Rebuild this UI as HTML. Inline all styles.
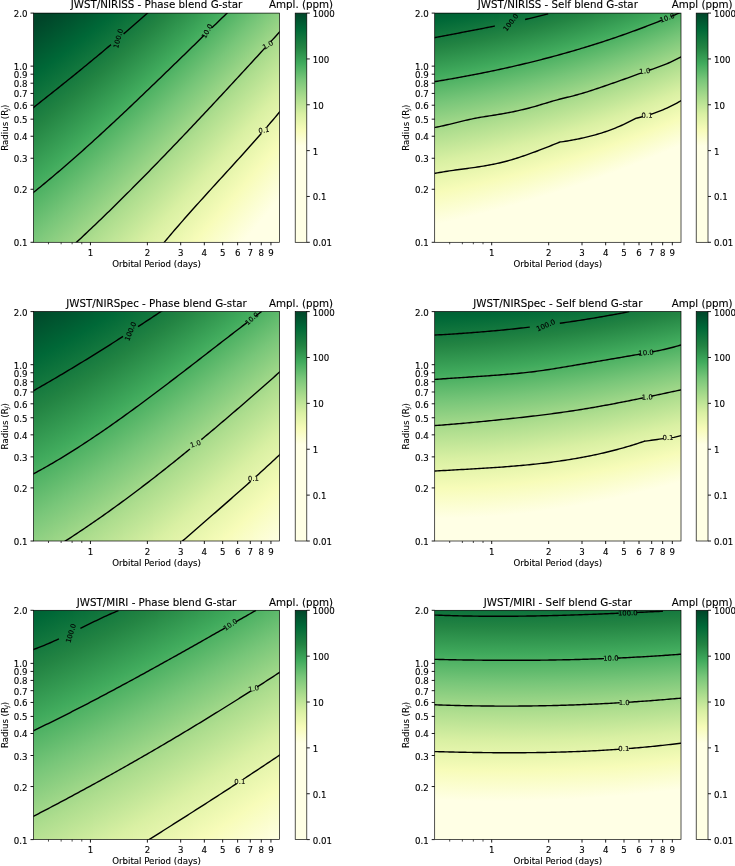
<!DOCTYPE html>
<html><head><meta charset="utf-8"><title>JWST blend amplitudes</title>
<style>html,body{margin:0;padding:0;background:#fff}svg{display:block}text{font-family:'DejaVu Sans','Liberation Sans',sans-serif;fill:#000;stroke:#000;stroke-width:.12px}</style>
</head><body>
<svg width="735" height="866" viewBox="0 0 735 866">
<rect width="735" height="866" fill="#fff"/>
<defs>
<linearGradient id="p00_0" gradientUnits="userSpaceOnUse" x1="35.5" y1="13" x2="146.55" y2="157.9"><stop offset="0" stop-color="#004529"/><stop offset=".0429" stop-color="#004529"/><stop offset=".2659" stop-color="#006837"/><stop offset=".494" stop-color="#238443"/><stop offset=".7274" stop-color="#41ab5d"/><stop offset=".9666" stop-color="#78c679"/><stop offset="1" stop-color="#7fc97c"/></linearGradient>
<linearGradient id="p00_1" gradientUnits="userSpaceOnUse" x1="40.5" y1="13" x2="151.95" y2="156.33"><stop offset="0" stop-color="#004529"/><stop offset=".0284" stop-color="#004529"/><stop offset=".2502" stop-color="#006837"/><stop offset=".4771" stop-color="#238443"/><stop offset=".7094" stop-color="#41ab5d"/><stop offset=".9477" stop-color="#78c679"/><stop offset="1" stop-color="#83cb7e"/></linearGradient>
<linearGradient id="p00_2" gradientUnits="userSpaceOnUse" x1="45.5" y1="13" x2="157.33" y2="154.81"><stop offset="0" stop-color="#004529"/><stop offset=".0136" stop-color="#004529"/><stop offset=".2342" stop-color="#006837"/><stop offset=".46" stop-color="#238443"/><stop offset=".6913" stop-color="#41ab5d"/><stop offset=".9286" stop-color="#78c679"/><stop offset="1" stop-color="#88cd7f"/></linearGradient>
<linearGradient id="p00_3" gradientUnits="userSpaceOnUse" x1="50.5" y1="13" x2="162.68" y2="153.32"><stop offset="0" stop-color="#004529"/><stop offset=".2181" stop-color="#006837"/><stop offset=".4427" stop-color="#238443"/><stop offset=".673" stop-color="#41ab5d"/><stop offset=".9094" stop-color="#78c679"/><stop offset="1" stop-color="#8ccf81"/></linearGradient>
<linearGradient id="p00_4" gradientUnits="userSpaceOnUse" x1="55.5" y1="13" x2="168" y2="151.87"><stop offset="0" stop-color="#00482a"/><stop offset=".2018" stop-color="#006837"/><stop offset=".4254" stop-color="#238443"/><stop offset=".6546" stop-color="#41ab5d"/><stop offset=".8901" stop-color="#78c679"/><stop offset="1" stop-color="#90d183"/></linearGradient>
<linearGradient id="p00_5" gradientUnits="userSpaceOnUse" x1="60.5" y1="13" x2="173.29" y2="150.46"><stop offset="0" stop-color="#004a2b"/><stop offset=".1854" stop-color="#006837"/><stop offset=".4078" stop-color="#238443"/><stop offset=".6361" stop-color="#41ab5d"/><stop offset=".8706" stop-color="#78c679"/><stop offset="1" stop-color="#95d284"/></linearGradient>
<linearGradient id="p00_6" gradientUnits="userSpaceOnUse" x1="65.5" y1="13" x2="178.55" y2="149.08"><stop offset="0" stop-color="#004d2c"/><stop offset=".1688" stop-color="#006837"/><stop offset=".3902" stop-color="#238443"/><stop offset=".6174" stop-color="#41ab5d"/><stop offset=".851" stop-color="#78c679"/><stop offset="1" stop-color="#99d486"/></linearGradient>
<linearGradient id="p00_7" gradientUnits="userSpaceOnUse" x1="70.5" y1="13" x2="183.8" y2="147.73"><stop offset="0" stop-color="#004f2d"/><stop offset=".1521" stop-color="#006837"/><stop offset=".3723" stop-color="#238443"/><stop offset=".5985" stop-color="#41ab5d"/><stop offset=".8312" stop-color="#78c679"/><stop offset="1" stop-color="#9dd688"/></linearGradient>
<linearGradient id="p00_8" gradientUnits="userSpaceOnUse" x1="75.5" y1="13" x2="189.02" y2="146.41"><stop offset="0" stop-color="#00522e"/><stop offset=".1352" stop-color="#006837"/><stop offset=".3544" stop-color="#238443"/><stop offset=".5796" stop-color="#41ab5d"/><stop offset=".8113" stop-color="#78c679"/><stop offset="1" stop-color="#a2d88a"/></linearGradient>
<linearGradient id="p00_9" gradientUnits="userSpaceOnUse" x1="80.5" y1="13" x2="194.22" y2="145.13"><stop offset="0" stop-color="#00552f"/><stop offset=".1181" stop-color="#006837"/><stop offset=".3363" stop-color="#238443"/><stop offset=".5605" stop-color="#41ab5d"/><stop offset=".7913" stop-color="#78c679"/><stop offset="1" stop-color="#a7da8b"/></linearGradient>
<linearGradient id="p00_10" gradientUnits="userSpaceOnUse" x1="85.5" y1="13" x2="199.4" y2="143.88"><stop offset="0" stop-color="#005730"/><stop offset=".101" stop-color="#006837"/><stop offset=".3181" stop-color="#238443"/><stop offset=".5413" stop-color="#41ab5d"/><stop offset=".7712" stop-color="#78c679"/><stop offset="1" stop-color="#abdc8d"/></linearGradient>
<linearGradient id="p00_11" gradientUnits="userSpaceOnUse" x1="90.5" y1="13" x2="204.56" y2="142.65"><stop offset="0" stop-color="#005a31"/><stop offset=".0837" stop-color="#006837"/><stop offset=".2997" stop-color="#238443"/><stop offset=".5219" stop-color="#41ab5d"/><stop offset=".7509" stop-color="#78c679"/><stop offset=".9873" stop-color="#addd8e"/><stop offset="1" stop-color="#afde8f"/></linearGradient>
<linearGradient id="p00_12" gradientUnits="userSpaceOnUse" x1="95.5" y1="13" x2="209.71" y2="141.46"><stop offset="0" stop-color="#005d33"/><stop offset=".0662" stop-color="#006837"/><stop offset=".2812" stop-color="#238443"/><stop offset=".5025" stop-color="#41ab5d"/><stop offset=".7306" stop-color="#78c679"/><stop offset=".9661" stop-color="#addd8e"/><stop offset="1" stop-color="#b3e091"/></linearGradient>
<linearGradient id="p00_13" gradientUnits="userSpaceOnUse" x1="100.5" y1="13" x2="214.84" y2="140.29"><stop offset="0" stop-color="#006034"/><stop offset=".0487" stop-color="#006837"/><stop offset=".2626" stop-color="#238443"/><stop offset=".4829" stop-color="#41ab5d"/><stop offset=".7101" stop-color="#78c679"/><stop offset=".9448" stop-color="#addd8e"/><stop offset="1" stop-color="#b7e193"/></linearGradient>
<linearGradient id="p00_14" gradientUnits="userSpaceOnUse" x1="105.5" y1="13" x2="219.96" y2="139.15"><stop offset="0" stop-color="#006335"/><stop offset=".031" stop-color="#006837"/><stop offset=".2439" stop-color="#238443"/><stop offset=".4632" stop-color="#41ab5d"/><stop offset=".6895" stop-color="#78c679"/><stop offset=".9234" stop-color="#addd8e"/><stop offset="1" stop-color="#bbe395"/></linearGradient>
<linearGradient id="p00_15" gradientUnits="userSpaceOnUse" x1="110.5" y1="13" x2="225.06" y2="138.04"><stop offset="0" stop-color="#006636"/><stop offset=".0131" stop-color="#006837"/><stop offset=".2251" stop-color="#238443"/><stop offset=".4434" stop-color="#41ab5d"/><stop offset=".6688" stop-color="#78c679"/><stop offset=".9019" stop-color="#addd8e"/><stop offset="1" stop-color="#bfe597"/></linearGradient>
<linearGradient id="p00_16" gradientUnits="userSpaceOnUse" x1="115.5" y1="13" x2="230.15" y2="136.95"><stop offset="0" stop-color="#016937"/><stop offset=".2061" stop-color="#238443"/><stop offset=".4235" stop-color="#41ab5d"/><stop offset=".6479" stop-color="#78c679"/><stop offset=".8802" stop-color="#addd8e"/><stop offset="1" stop-color="#c3e799"/></linearGradient>
<linearGradient id="p00_17" gradientUnits="userSpaceOnUse" x1="120.5" y1="13" x2="235.23" y2="135.89"><stop offset="0" stop-color="#046b38"/><stop offset=".1871" stop-color="#238443"/><stop offset=".4035" stop-color="#41ab5d"/><stop offset=".627" stop-color="#78c679"/><stop offset=".8585" stop-color="#addd8e"/><stop offset="1" stop-color="#c7e89a"/></linearGradient>
<linearGradient id="p00_18" gradientUnits="userSpaceOnUse" x1="125.5" y1="13" x2="240.3" y2="134.85"><stop offset="0" stop-color="#076e39"/><stop offset=".1679" stop-color="#238443"/><stop offset=".3834" stop-color="#41ab5d"/><stop offset=".606" stop-color="#78c679"/><stop offset=".8366" stop-color="#addd8e"/><stop offset="1" stop-color="#cbea9c"/></linearGradient>
<linearGradient id="p00_19" gradientUnits="userSpaceOnUse" x1="130.5" y1="13" x2="245.35" y2="133.83"><stop offset="0" stop-color="#0a703a"/><stop offset=".1486" stop-color="#238443"/><stop offset=".3631" stop-color="#41ab5d"/><stop offset=".5849" stop-color="#78c679"/><stop offset=".8147" stop-color="#addd8e"/><stop offset="1" stop-color="#cfec9e"/></linearGradient>
<linearGradient id="p00_20" gradientUnits="userSpaceOnUse" x1="135.5" y1="13" x2="250.4" y2="132.84"><stop offset="0" stop-color="#0d733c"/><stop offset=".1293" stop-color="#238443"/><stop offset=".3428" stop-color="#41ab5d"/><stop offset=".5637" stop-color="#78c679"/><stop offset=".7926" stop-color="#addd8e"/><stop offset="1" stop-color="#d3eea0"/></linearGradient>
<linearGradient id="p00_21" gradientUnits="userSpaceOnUse" x1="140.5" y1="13" x2="255.44" y2="131.86"><stop offset="0" stop-color="#10753d"/><stop offset=".1098" stop-color="#238443"/><stop offset=".3224" stop-color="#41ab5d"/><stop offset=".5424" stop-color="#78c679"/><stop offset=".7705" stop-color="#addd8e"/><stop offset="1" stop-color="#d8efa2"/></linearGradient>
<linearGradient id="p00_22" gradientUnits="userSpaceOnUse" x1="145.5" y1="13" x2="260.46" y2="130.91"><stop offset="0" stop-color="#14783e"/><stop offset=".0902" stop-color="#238443"/><stop offset=".3019" stop-color="#41ab5d"/><stop offset=".521" stop-color="#78c679"/><stop offset=".7482" stop-color="#addd8e"/><stop offset=".9847" stop-color="#d9f0a3"/><stop offset="1" stop-color="#dbf1a4"/></linearGradient>
<linearGradient id="p00_23" gradientUnits="userSpaceOnUse" x1="150.5" y1="13" x2="265.48" y2="129.98"><stop offset="0" stop-color="#177a3f"/><stop offset=".0705" stop-color="#238443"/><stop offset=".2813" stop-color="#41ab5d"/><stop offset=".4995" stop-color="#78c679"/><stop offset=".7259" stop-color="#addd8e"/><stop offset=".9616" stop-color="#d9f0a3"/><stop offset="1" stop-color="#def2a6"/></linearGradient>
<linearGradient id="p00_24" gradientUnits="userSpaceOnUse" x1="155.5" y1="13" x2="270.5" y2="129.07"><stop offset="0" stop-color="#1a7d40"/><stop offset=".0508" stop-color="#238443"/><stop offset=".2606" stop-color="#41ab5d"/><stop offset=".4779" stop-color="#78c679"/><stop offset=".7035" stop-color="#addd8e"/><stop offset=".9384" stop-color="#d9f0a3"/><stop offset="1" stop-color="#e1f3a9"/></linearGradient>
<linearGradient id="p00_25" gradientUnits="userSpaceOnUse" x1="160.5" y1="13" x2="275.5" y2="128.17"><stop offset="0" stop-color="#1e8041"/><stop offset=".0309" stop-color="#238443"/><stop offset=".2399" stop-color="#41ab5d"/><stop offset=".4563" stop-color="#78c679"/><stop offset=".681" stop-color="#addd8e"/><stop offset=".9152" stop-color="#d9f0a3"/><stop offset="1" stop-color="#e4f4ab"/></linearGradient>
<linearGradient id="p00_26" gradientUnits="userSpaceOnUse" x1="165.5" y1="13" x2="280.5" y2="127.3"><stop offset="0" stop-color="#218242"/><stop offset=".011" stop-color="#238443"/><stop offset=".219" stop-color="#41ab5d"/><stop offset=".4345" stop-color="#78c679"/><stop offset=".6584" stop-color="#addd8e"/><stop offset=".8918" stop-color="#d9f0a3"/><stop offset="1" stop-color="#e6f5ad"/></linearGradient>
<linearGradient id="p00_27" gradientUnits="userSpaceOnUse" x1="170.5" y1="13" x2="285.49" y2="126.44"><stop offset="0" stop-color="#248644"/><stop offset=".1981" stop-color="#41ab5d"/><stop offset=".4127" stop-color="#78c679"/><stop offset=".6358" stop-color="#addd8e"/><stop offset=".8684" stop-color="#d9f0a3"/><stop offset="1" stop-color="#e9f7af"/></linearGradient>
<linearGradient id="p00_28" gradientUnits="userSpaceOnUse" x1="175.5" y1="13" x2="290.48" y2="125.6"><stop offset="0" stop-color="#278a47"/><stop offset=".1771" stop-color="#41ab5d"/><stop offset=".3908" stop-color="#78c679"/><stop offset=".613" stop-color="#addd8e"/><stop offset=".8448" stop-color="#d9f0a3"/><stop offset="1" stop-color="#ecf8b1"/></linearGradient>
<linearGradient id="p00_29" gradientUnits="userSpaceOnUse" x1="180.5" y1="13" x2="295.45" y2="124.78"><stop offset="0" stop-color="#2a8d49"/><stop offset=".156" stop-color="#41ab5d"/><stop offset=".3688" stop-color="#78c679"/><stop offset=".5902" stop-color="#addd8e"/><stop offset=".8212" stop-color="#d9f0a3"/><stop offset="1" stop-color="#eff9b3"/></linearGradient>
<linearGradient id="p00_30" gradientUnits="userSpaceOnUse" x1="185.5" y1="13" x2="300.43" y2="123.98"><stop offset="0" stop-color="#2d914c"/><stop offset=".1348" stop-color="#41ab5d"/><stop offset=".3468" stop-color="#78c679"/><stop offset=".5673" stop-color="#addd8e"/><stop offset=".7976" stop-color="#d9f0a3"/><stop offset="1" stop-color="#f2fab6"/></linearGradient>
<linearGradient id="p00_31" gradientUnits="userSpaceOnUse" x1="190.5" y1="13" x2="305.4" y2="123.19"><stop offset="0" stop-color="#30954f"/><stop offset=".1136" stop-color="#41ab5d"/><stop offset=".3247" stop-color="#78c679"/><stop offset=".5444" stop-color="#addd8e"/><stop offset=".7738" stop-color="#d9f0a3"/><stop offset="1" stop-color="#f5fbb8"/></linearGradient>
<linearGradient id="p00_32" gradientUnits="userSpaceOnUse" x1="195.5" y1="13" x2="310.36" y2="122.41"><stop offset="0" stop-color="#339951"/><stop offset=".0923" stop-color="#41ab5d"/><stop offset=".3025" stop-color="#78c679"/><stop offset=".5214" stop-color="#addd8e"/><stop offset=".75" stop-color="#d9f0a3"/><stop offset=".9898" stop-color="#f7fcb9"/><stop offset="1" stop-color="#f7fcbb"/></linearGradient>
<linearGradient id="p00_33" gradientUnits="userSpaceOnUse" x1="200.5" y1="13" x2="315.32" y2="121.65"><stop offset="0" stop-color="#379d54"/><stop offset=".0709" stop-color="#41ab5d"/><stop offset=".2803" stop-color="#78c679"/><stop offset=".4983" stop-color="#addd8e"/><stop offset=".7261" stop-color="#d9f0a3"/><stop offset=".9652" stop-color="#f7fcb9"/><stop offset="1" stop-color="#f8fcbf"/></linearGradient>
<linearGradient id="p00_34" gradientUnits="userSpaceOnUse" x1="205.5" y1="13" x2="320.28" y2="120.9"><stop offset="0" stop-color="#3aa257"/><stop offset=".0495" stop-color="#41ab5d"/><stop offset=".258" stop-color="#78c679"/><stop offset=".4751" stop-color="#addd8e"/><stop offset=".7021" stop-color="#d9f0a3"/><stop offset=".9405" stop-color="#f7fcb9"/><stop offset="1" stop-color="#f9fdc4"/></linearGradient>
<linearGradient id="p00_35" gradientUnits="userSpaceOnUse" x1="210.5" y1="13" x2="325.23" y2="120.17"><stop offset="0" stop-color="#3da659"/><stop offset=".028" stop-color="#41ab5d"/><stop offset=".2356" stop-color="#78c679"/><stop offset=".4519" stop-color="#addd8e"/><stop offset=".6781" stop-color="#d9f0a3"/><stop offset=".9157" stop-color="#f7fcb9"/><stop offset="1" stop-color="#fafdc8"/></linearGradient>
<linearGradient id="p00_36" gradientUnits="userSpaceOnUse" x1="215.5" y1="13" x2="330.18" y2="119.45"><stop offset="0" stop-color="#40aa5c"/><stop offset=".0064" stop-color="#41ab5d"/><stop offset=".2132" stop-color="#78c679"/><stop offset=".4286" stop-color="#addd8e"/><stop offset=".654" stop-color="#d9f0a3"/><stop offset=".8909" stop-color="#f7fcb9"/><stop offset="1" stop-color="#fbfdcd"/></linearGradient>
<linearGradient id="p00_37" gradientUnits="userSpaceOnUse" x1="220.5" y1="13" x2="335.13" y2="118.75"><stop offset="0" stop-color="#45ad5f"/><stop offset=".1907" stop-color="#78c679"/><stop offset=".4053" stop-color="#addd8e"/><stop offset=".6299" stop-color="#d9f0a3"/><stop offset=".8659" stop-color="#f7fcb9"/><stop offset="1" stop-color="#fbfed1"/></linearGradient>
<linearGradient id="p00_38" gradientUnits="userSpaceOnUse" x1="225.5" y1="13" x2="340.07" y2="118.06"><stop offset="0" stop-color="#4bb062"/><stop offset=".1682" stop-color="#78c679"/><stop offset=".3819" stop-color="#addd8e"/><stop offset=".6057" stop-color="#d9f0a3"/><stop offset=".841" stop-color="#f7fcb9"/><stop offset="1" stop-color="#fcfed5"/></linearGradient>
<linearGradient id="p00_39" gradientUnits="userSpaceOnUse" x1="230.5" y1="13" x2="345.01" y2="117.38"><stop offset="0" stop-color="#51b365"/><stop offset=".1456" stop-color="#78c679"/><stop offset=".3585" stop-color="#addd8e"/><stop offset=".5814" stop-color="#d9f0a3"/><stop offset=".8159" stop-color="#f7fcb9"/><stop offset="1" stop-color="#fdfeda"/></linearGradient>
<linearGradient id="p00_40" gradientUnits="userSpaceOnUse" x1="235.5" y1="13" x2="349.94" y2="116.71"><stop offset="0" stop-color="#57b668"/><stop offset=".1229" stop-color="#78c679"/><stop offset=".335" stop-color="#addd8e"/><stop offset=".5571" stop-color="#d9f0a3"/><stop offset=".7908" stop-color="#f7fcb9"/><stop offset="1" stop-color="#feffde"/></linearGradient>
<linearGradient id="p00_41" gradientUnits="userSpaceOnUse" x1="240.5" y1="13" x2="354.88" y2="116.05"><stop offset="0" stop-color="#5db96b"/><stop offset=".1002" stop-color="#78c679"/><stop offset=".3114" stop-color="#addd8e"/><stop offset=".5327" stop-color="#d9f0a3"/><stop offset=".7656" stop-color="#f7fcb9"/><stop offset="1" stop-color="#ffffe3"/></linearGradient>
<linearGradient id="p00_42" gradientUnits="userSpaceOnUse" x1="245.5" y1="13" x2="359.81" y2="115.41"><stop offset="0" stop-color="#63bc6e"/><stop offset=".0775" stop-color="#78c679"/><stop offset=".2879" stop-color="#addd8e"/><stop offset=".5083" stop-color="#d9f0a3"/><stop offset=".7404" stop-color="#f7fcb9"/><stop offset=".9863" stop-color="#ffffe5"/><stop offset="1" stop-color="#ffffe5"/></linearGradient>
<linearGradient id="p00_43" gradientUnits="userSpaceOnUse" x1="250.5" y1="13" x2="364.74" y2="114.77"><stop offset="0" stop-color="#69bf71"/><stop offset=".0547" stop-color="#78c679"/><stop offset=".2642" stop-color="#addd8e"/><stop offset=".4838" stop-color="#d9f0a3"/><stop offset=".7152" stop-color="#f7fcb9"/><stop offset=".9603" stop-color="#ffffe5"/><stop offset="1" stop-color="#ffffe5"/></linearGradient>
<linearGradient id="p00_44" gradientUnits="userSpaceOnUse" x1="255.5" y1="13" x2="369.66" y2="114.15"><stop offset="0" stop-color="#6fc275"/><stop offset=".0319" stop-color="#78c679"/><stop offset=".2406" stop-color="#addd8e"/><stop offset=".4593" stop-color="#d9f0a3"/><stop offset=".6898" stop-color="#f7fcb9"/><stop offset=".9342" stop-color="#ffffe5"/><stop offset="1" stop-color="#ffffe5"/></linearGradient>
<linearGradient id="p00_45" gradientUnits="userSpaceOnUse" x1="260.5" y1="13" x2="374.59" y2="113.53"><stop offset="0" stop-color="#76c578"/><stop offset=".009" stop-color="#78c679"/><stop offset=".2168" stop-color="#addd8e"/><stop offset=".4348" stop-color="#d9f0a3"/><stop offset=".6645" stop-color="#f7fcb9"/><stop offset=".9081" stop-color="#ffffe5"/><stop offset="1" stop-color="#ffffe5"/></linearGradient>
<linearGradient id="p00_46" gradientUnits="userSpaceOnUse" x1="265.5" y1="13" x2="379.51" y2="112.93"><stop offset="0" stop-color="#7cc87a"/><stop offset=".1931" stop-color="#addd8e"/><stop offset=".4102" stop-color="#d9f0a3"/><stop offset=".639" stop-color="#f7fcb9"/><stop offset=".8819" stop-color="#ffffe5"/><stop offset="1" stop-color="#ffffe5"/></linearGradient>
<linearGradient id="p00_47" gradientUnits="userSpaceOnUse" x1="270.5" y1="13" x2="384.48" y2="112.73"><stop offset="0" stop-color="#82ca7d"/><stop offset=".1693" stop-color="#addd8e"/><stop offset=".3856" stop-color="#d9f0a3"/><stop offset=".6136" stop-color="#f7fcb9"/><stop offset=".8556" stop-color="#ffffe5"/><stop offset="1" stop-color="#ffffe5"/></linearGradient>
<linearGradient id="p00_48" gradientUnits="userSpaceOnUse" x1="275.5" y1="13" x2="389.4" y2="112.14"><stop offset="0" stop-color="#88cd7f"/><stop offset=".1455" stop-color="#addd8e"/><stop offset=".3609" stop-color="#d9f0a3"/><stop offset=".5881" stop-color="#f7fcb9"/><stop offset=".8293" stop-color="#ffffe5"/><stop offset="1" stop-color="#ffffe5"/></linearGradient>
<linearGradient id="p00_49" gradientUnits="userSpaceOnUse" x1="279" y1="13" x2="392.9" y2="112.13"><stop offset="0" stop-color="#8ccf81"/><stop offset=".1288" stop-color="#addd8e"/><stop offset=".3436" stop-color="#d9f0a3"/><stop offset=".5702" stop-color="#f7fcb9"/><stop offset=".8109" stop-color="#ffffe5"/><stop offset="1" stop-color="#ffffe5"/></linearGradient>
<linearGradient id="p01_0" gradientUnits="userSpaceOnUse" x1="436.5" y1="13" x2="475.63" y2="236.14"><stop offset="0" stop-color="#005d33"/><stop offset=".0357" stop-color="#006837"/><stop offset=".152" stop-color="#238443"/><stop offset=".2711" stop-color="#41ab5d"/><stop offset=".3933" stop-color="#78c679"/><stop offset=".5188" stop-color="#addd8e"/><stop offset=".648" stop-color="#d9f0a3"/><stop offset=".781" stop-color="#f7fcb9"/><stop offset=".9184" stop-color="#ffffe5"/><stop offset="1" stop-color="#ffffe5"/></linearGradient>
<linearGradient id="p01_1" gradientUnits="userSpaceOnUse" x1="441.5" y1="13" x2="481.52" y2="235.81"><stop offset="0" stop-color="#005e33"/><stop offset=".032" stop-color="#006837"/><stop offset=".1484" stop-color="#238443"/><stop offset=".2676" stop-color="#41ab5d"/><stop offset=".3898" stop-color="#78c679"/><stop offset=".5152" stop-color="#addd8e"/><stop offset=".6441" stop-color="#d9f0a3"/><stop offset=".7768" stop-color="#f7fcb9"/><stop offset=".9136" stop-color="#ffffe5"/><stop offset="1" stop-color="#ffffe5"/></linearGradient>
<linearGradient id="p01_2" gradientUnits="userSpaceOnUse" x1="446.5" y1="13" x2="487.42" y2="235.48"><stop offset="0" stop-color="#005f34"/><stop offset=".0283" stop-color="#006837"/><stop offset=".1448" stop-color="#238443"/><stop offset=".264" stop-color="#41ab5d"/><stop offset=".3862" stop-color="#78c679"/><stop offset=".5115" stop-color="#addd8e"/><stop offset=".6401" stop-color="#d9f0a3"/><stop offset=".7725" stop-color="#f7fcb9"/><stop offset=".9088" stop-color="#ffffe5"/><stop offset="1" stop-color="#ffffe5"/></linearGradient>
<linearGradient id="p01_3" gradientUnits="userSpaceOnUse" x1="451.5" y1="13" x2="492.77" y2="235.34"><stop offset="0" stop-color="#006134"/><stop offset=".0244" stop-color="#006837"/><stop offset=".1411" stop-color="#238443"/><stop offset=".2604" stop-color="#41ab5d"/><stop offset=".3825" stop-color="#78c679"/><stop offset=".5077" stop-color="#addd8e"/><stop offset=".6361" stop-color="#d9f0a3"/><stop offset=".7681" stop-color="#f7fcb9"/><stop offset=".9039" stop-color="#ffffe5"/><stop offset="1" stop-color="#ffffe5"/></linearGradient>
<linearGradient id="p01_4" gradientUnits="userSpaceOnUse" x1="456.5" y1="13" x2="498.68" y2="234.98"><stop offset="0" stop-color="#006235"/><stop offset=".0205" stop-color="#006837"/><stop offset=".1373" stop-color="#238443"/><stop offset=".2566" stop-color="#41ab5d"/><stop offset=".3787" stop-color="#78c679"/><stop offset=".5037" stop-color="#addd8e"/><stop offset=".6319" stop-color="#d9f0a3"/><stop offset=".7635" stop-color="#f7fcb9"/><stop offset=".8989" stop-color="#ffffe5"/><stop offset="1" stop-color="#ffffe5"/></linearGradient>
<linearGradient id="p01_5" gradientUnits="userSpaceOnUse" x1="461.5" y1="13" x2="504.6" y2="234.62"><stop offset="0" stop-color="#006335"/><stop offset=".0165" stop-color="#006837"/><stop offset=".1334" stop-color="#238443"/><stop offset=".2528" stop-color="#41ab5d"/><stop offset=".3748" stop-color="#78c679"/><stop offset=".4997" stop-color="#addd8e"/><stop offset=".6277" stop-color="#d9f0a3"/><stop offset=".759" stop-color="#f7fcb9"/><stop offset=".8938" stop-color="#ffffe5"/><stop offset="1" stop-color="#ffffe5"/></linearGradient>
<linearGradient id="p01_6" gradientUnits="userSpaceOnUse" x1="466.5" y1="13" x2="510.53" y2="234.24"><stop offset="0" stop-color="#006436"/><stop offset=".0123" stop-color="#006837"/><stop offset=".1294" stop-color="#238443"/><stop offset=".2488" stop-color="#41ab5d"/><stop offset=".3709" stop-color="#78c679"/><stop offset=".4957" stop-color="#addd8e"/><stop offset=".6234" stop-color="#d9f0a3"/><stop offset=".7543" stop-color="#f7fcb9"/><stop offset=".8886" stop-color="#ffffe5"/><stop offset="1" stop-color="#ffffe5"/></linearGradient>
<linearGradient id="p01_7" gradientUnits="userSpaceOnUse" x1="471.5" y1="13" x2="516.47" y2="233.84"><stop offset="0" stop-color="#006636"/><stop offset=".0081" stop-color="#006837"/><stop offset=".1253" stop-color="#238443"/><stop offset=".2448" stop-color="#41ab5d"/><stop offset=".3668" stop-color="#78c679"/><stop offset=".4915" stop-color="#addd8e"/><stop offset=".619" stop-color="#d9f0a3"/><stop offset=".7495" stop-color="#f7fcb9"/><stop offset=".8833" stop-color="#ffffe5"/><stop offset="1" stop-color="#ffffe5"/></linearGradient>
<linearGradient id="p01_8" gradientUnits="userSpaceOnUse" x1="476.5" y1="13" x2="522.41" y2="233.44"><stop offset="0" stop-color="#006737"/><stop offset=".0038" stop-color="#006837"/><stop offset=".1211" stop-color="#238443"/><stop offset=".2407" stop-color="#41ab5d"/><stop offset=".3626" stop-color="#78c679"/><stop offset=".4872" stop-color="#addd8e"/><stop offset=".6144" stop-color="#d9f0a3"/><stop offset=".7446" stop-color="#f7fcb9"/><stop offset=".8779" stop-color="#ffffe5"/><stop offset="1" stop-color="#ffffe5"/></linearGradient>
<linearGradient id="p01_9" gradientUnits="userSpaceOnUse" x1="481.5" y1="13" x2="528.36" y2="233.02"><stop offset="0" stop-color="#006837"/><stop offset=".1169" stop-color="#238443"/><stop offset=".2365" stop-color="#41ab5d"/><stop offset=".3584" stop-color="#78c679"/><stop offset=".4828" stop-color="#addd8e"/><stop offset=".6098" stop-color="#d9f0a3"/><stop offset=".7396" stop-color="#f7fcb9"/><stop offset=".8724" stop-color="#ffffe5"/><stop offset="1" stop-color="#ffffe5"/></linearGradient>
<linearGradient id="p01_10" gradientUnits="userSpaceOnUse" x1="486.5" y1="13" x2="534.32" y2="232.59"><stop offset="0" stop-color="#026938"/><stop offset=".1125" stop-color="#238443"/><stop offset=".2321" stop-color="#41ab5d"/><stop offset=".354" stop-color="#78c679"/><stop offset=".4783" stop-color="#addd8e"/><stop offset=".6051" stop-color="#d9f0a3"/><stop offset=".7346" stop-color="#f7fcb9"/><stop offset=".8669" stop-color="#ffffe5"/><stop offset="1" stop-color="#ffffe5"/></linearGradient>
<linearGradient id="p01_11" gradientUnits="userSpaceOnUse" x1="491.5" y1="13" x2="540.28" y2="232.14"><stop offset="0" stop-color="#036a38"/><stop offset=".108" stop-color="#238443"/><stop offset=".2277" stop-color="#41ab5d"/><stop offset=".3496" stop-color="#78c679"/><stop offset=".4737" stop-color="#addd8e"/><stop offset=".6003" stop-color="#d9f0a3"/><stop offset=".7294" stop-color="#f7fcb9"/><stop offset=".8612" stop-color="#ffffe5"/><stop offset="1" stop-color="#ffffe5"/></linearGradient>
<linearGradient id="p01_12" gradientUnits="userSpaceOnUse" x1="496.5" y1="13" x2="545.72" y2="231.93"><stop offset="0" stop-color="#046b38"/><stop offset=".1035" stop-color="#238443"/><stop offset=".2232" stop-color="#41ab5d"/><stop offset=".345" stop-color="#78c679"/><stop offset=".4691" stop-color="#addd8e"/><stop offset=".5954" stop-color="#d9f0a3"/><stop offset=".7241" stop-color="#f7fcb9"/><stop offset=".8555" stop-color="#ffffe5"/><stop offset="1" stop-color="#ffffe5"/></linearGradient>
<linearGradient id="p01_13" gradientUnits="userSpaceOnUse" x1="501.5" y1="13" x2="551.7" y2="231.47"><stop offset="0" stop-color="#066d39"/><stop offset=".0988" stop-color="#238443"/><stop offset=".2186" stop-color="#41ab5d"/><stop offset=".3404" stop-color="#78c679"/><stop offset=".4643" stop-color="#addd8e"/><stop offset=".5904" stop-color="#d9f0a3"/><stop offset=".7188" stop-color="#f7fcb9"/><stop offset=".8497" stop-color="#ffffe5"/><stop offset="1" stop-color="#ffffe5"/></linearGradient>
<linearGradient id="p01_14" gradientUnits="userSpaceOnUse" x1="506.5" y1="13" x2="557.67" y2="230.99"><stop offset="0" stop-color="#076e39"/><stop offset=".094" stop-color="#238443"/><stop offset=".2139" stop-color="#41ab5d"/><stop offset=".3356" stop-color="#78c679"/><stop offset=".4594" stop-color="#addd8e"/><stop offset=".5852" stop-color="#d9f0a3"/><stop offset=".7133" stop-color="#f7fcb9"/><stop offset=".8437" stop-color="#ffffe5"/><stop offset="1" stop-color="#ffffe5"/></linearGradient>
<linearGradient id="p01_15" gradientUnits="userSpaceOnUse" x1="511.5" y1="13" x2="563.66" y2="230.49"><stop offset="0" stop-color="#096f3a"/><stop offset=".0892" stop-color="#238443"/><stop offset=".209" stop-color="#41ab5d"/><stop offset=".3308" stop-color="#78c679"/><stop offset=".4544" stop-color="#addd8e"/><stop offset=".58" stop-color="#d9f0a3"/><stop offset=".7078" stop-color="#f7fcb9"/><stop offset=".8377" stop-color="#ffffe5"/><stop offset="1" stop-color="#ffffe5"/></linearGradient>
<linearGradient id="p01_16" gradientUnits="userSpaceOnUse" x1="516.5" y1="13" x2="569.64" y2="229.98"><stop offset="0" stop-color="#0a703a"/><stop offset=".0842" stop-color="#238443"/><stop offset=".2041" stop-color="#41ab5d"/><stop offset=".3258" stop-color="#78c679"/><stop offset=".4493" stop-color="#addd8e"/><stop offset=".5747" stop-color="#d9f0a3"/><stop offset=".7021" stop-color="#f7fcb9"/><stop offset=".8316" stop-color="#ffffe5"/><stop offset="1" stop-color="#ffffe5"/></linearGradient>
<linearGradient id="p01_17" gradientUnits="userSpaceOnUse" x1="521.5" y1="13" x2="575.63" y2="229.46"><stop offset="0" stop-color="#0c713b"/><stop offset=".0791" stop-color="#238443"/><stop offset=".1991" stop-color="#41ab5d"/><stop offset=".3207" stop-color="#78c679"/><stop offset=".4441" stop-color="#addd8e"/><stop offset=".5693" stop-color="#d9f0a3"/><stop offset=".6964" stop-color="#f7fcb9"/><stop offset=".8254" stop-color="#ffffe5"/><stop offset="1" stop-color="#ffffe5"/></linearGradient>
<linearGradient id="p01_18" gradientUnits="userSpaceOnUse" x1="526.5" y1="13" x2="581.63" y2="228.93"><stop offset="0" stop-color="#0d733c"/><stop offset=".0739" stop-color="#238443"/><stop offset=".1939" stop-color="#41ab5d"/><stop offset=".3156" stop-color="#78c679"/><stop offset=".4388" stop-color="#addd8e"/><stop offset=".5638" stop-color="#d9f0a3"/><stop offset=".6905" stop-color="#f7fcb9"/><stop offset=".8191" stop-color="#ffffe5"/><stop offset="1" stop-color="#ffffe5"/></linearGradient>
<linearGradient id="p01_19" gradientUnits="userSpaceOnUse" x1="531.5" y1="13" x2="587.62" y2="228.37"><stop offset="0" stop-color="#0f743c"/><stop offset=".0686" stop-color="#238443"/><stop offset=".1887" stop-color="#41ab5d"/><stop offset=".3103" stop-color="#78c679"/><stop offset=".4334" stop-color="#addd8e"/><stop offset=".5581" stop-color="#d9f0a3"/><stop offset=".6845" stop-color="#f7fcb9"/><stop offset=".8127" stop-color="#ffffe5"/><stop offset="1" stop-color="#ffffe5"/></linearGradient>
<linearGradient id="p01_20" gradientUnits="userSpaceOnUse" x1="536.5" y1="13" x2="593.15" y2="228.08"><stop offset="0" stop-color="#10753d"/><stop offset=".0632" stop-color="#238443"/><stop offset=".1833" stop-color="#41ab5d"/><stop offset=".3049" stop-color="#78c679"/><stop offset=".4279" stop-color="#addd8e"/><stop offset=".5524" stop-color="#d9f0a3"/><stop offset=".6785" stop-color="#f7fcb9"/><stop offset=".8062" stop-color="#ffffe5"/><stop offset="1" stop-color="#ffffe5"/></linearGradient>
<linearGradient id="p01_21" gradientUnits="userSpaceOnUse" x1="541.5" y1="13" x2="599.15" y2="227.51"><stop offset="0" stop-color="#12763d"/><stop offset=".0576" stop-color="#238443"/><stop offset=".1778" stop-color="#41ab5d"/><stop offset=".2994" stop-color="#78c679"/><stop offset=".4222" stop-color="#addd8e"/><stop offset=".5466" stop-color="#d9f0a3"/><stop offset=".6723" stop-color="#f7fcb9"/><stop offset=".7996" stop-color="#ffffe5"/><stop offset="1" stop-color="#ffffe5"/></linearGradient>
<linearGradient id="p01_22" gradientUnits="userSpaceOnUse" x1="546.5" y1="13" x2="605.15" y2="226.92"><stop offset="0" stop-color="#14783e"/><stop offset=".052" stop-color="#238443"/><stop offset=".1722" stop-color="#41ab5d"/><stop offset=".2937" stop-color="#78c679"/><stop offset=".4165" stop-color="#addd8e"/><stop offset=".5406" stop-color="#d9f0a3"/><stop offset=".6661" stop-color="#f7fcb9"/><stop offset=".7929" stop-color="#ffffe5"/><stop offset="1" stop-color="#ffffe5"/></linearGradient>
<linearGradient id="p01_23" gradientUnits="userSpaceOnUse" x1="551.5" y1="13" x2="611.16" y2="226.31"><stop offset="0" stop-color="#15793e"/><stop offset=".0462" stop-color="#238443"/><stop offset=".1665" stop-color="#41ab5d"/><stop offset=".288" stop-color="#78c679"/><stop offset=".4107" stop-color="#addd8e"/><stop offset=".5345" stop-color="#d9f0a3"/><stop offset=".6597" stop-color="#f7fcb9"/><stop offset=".7861" stop-color="#ffffe5"/><stop offset="1" stop-color="#ffffe5"/></linearGradient>
<linearGradient id="p01_24" gradientUnits="userSpaceOnUse" x1="556.5" y1="13" x2="617.17" y2="225.7"><stop offset="0" stop-color="#177b3f"/><stop offset=".0403" stop-color="#238443"/><stop offset=".1607" stop-color="#41ab5d"/><stop offset=".2821" stop-color="#78c679"/><stop offset=".4047" stop-color="#addd8e"/><stop offset=".5284" stop-color="#d9f0a3"/><stop offset=".6532" stop-color="#f7fcb9"/><stop offset=".7792" stop-color="#ffffe5"/><stop offset="1" stop-color="#ffffe5"/></linearGradient>
<linearGradient id="p01_25" gradientUnits="userSpaceOnUse" x1="561.5" y1="13" x2="623.17" y2="225.06"><stop offset="0" stop-color="#197c40"/><stop offset=".0343" stop-color="#238443"/><stop offset=".1547" stop-color="#41ab5d"/><stop offset=".2762" stop-color="#78c679"/><stop offset=".3986" stop-color="#addd8e"/><stop offset=".5221" stop-color="#d9f0a3"/><stop offset=".6466" stop-color="#f7fcb9"/><stop offset=".7723" stop-color="#ffffe5"/><stop offset="1" stop-color="#ffffe5"/></linearGradient>
<linearGradient id="p01_26" gradientUnits="userSpaceOnUse" x1="566.5" y1="13" x2="629.18" y2="224.42"><stop offset="0" stop-color="#1b7d40"/><stop offset=".0282" stop-color="#238443"/><stop offset=".1487" stop-color="#41ab5d"/><stop offset=".2701" stop-color="#78c679"/><stop offset=".3924" stop-color="#addd8e"/><stop offset=".5157" stop-color="#d9f0a3"/><stop offset=".6399" stop-color="#f7fcb9"/><stop offset=".7652" stop-color="#ffffe5"/><stop offset="1" stop-color="#ffffe5"/></linearGradient>
<linearGradient id="p01_27" gradientUnits="userSpaceOnUse" x1="571.5" y1="13" x2="634.77" y2="224.03"><stop offset="0" stop-color="#1d7f41"/><stop offset=".0219" stop-color="#238443"/><stop offset=".1425" stop-color="#41ab5d"/><stop offset=".2639" stop-color="#78c679"/><stop offset=".3861" stop-color="#addd8e"/><stop offset=".5092" stop-color="#d9f0a3"/><stop offset=".6331" stop-color="#f7fcb9"/><stop offset=".758" stop-color="#ffffe5"/><stop offset="1" stop-color="#ffffe5"/></linearGradient>
<linearGradient id="p01_28" gradientUnits="userSpaceOnUse" x1="576.5" y1="13" x2="640.78" y2="223.36"><stop offset="0" stop-color="#1e8041"/><stop offset=".0155" stop-color="#238443"/><stop offset=".1362" stop-color="#41ab5d"/><stop offset=".2575" stop-color="#78c679"/><stop offset=".3797" stop-color="#addd8e"/><stop offset=".5026" stop-color="#d9f0a3"/><stop offset=".6262" stop-color="#f7fcb9"/><stop offset=".7507" stop-color="#ffffe5"/><stop offset="1" stop-color="#ffffe5"/></linearGradient>
<linearGradient id="p01_29" gradientUnits="userSpaceOnUse" x1="581.5" y1="13" x2="646.79" y2="222.67"><stop offset="0" stop-color="#208242"/><stop offset=".009" stop-color="#238443"/><stop offset=".1297" stop-color="#41ab5d"/><stop offset=".2511" stop-color="#78c679"/><stop offset=".3731" stop-color="#addd8e"/><stop offset=".4958" stop-color="#d9f0a3"/><stop offset=".6192" stop-color="#f7fcb9"/><stop offset=".7433" stop-color="#ffffe5"/><stop offset="1" stop-color="#ffffe5"/></linearGradient>
<linearGradient id="p01_30" gradientUnits="userSpaceOnUse" x1="586.5" y1="13" x2="652.79" y2="221.97"><stop offset="0" stop-color="#228343"/><stop offset=".0023" stop-color="#238443"/><stop offset=".1231" stop-color="#41ab5d"/><stop offset=".2445" stop-color="#78c679"/><stop offset=".3665" stop-color="#addd8e"/><stop offset=".489" stop-color="#d9f0a3"/><stop offset=".6121" stop-color="#f7fcb9"/><stop offset=".7358" stop-color="#ffffe5"/><stop offset="1" stop-color="#ffffe5"/></linearGradient>
<linearGradient id="p01_31" gradientUnits="userSpaceOnUse" x1="591.5" y1="13" x2="658.8" y2="221.25"><stop offset="0" stop-color="#248544"/><stop offset=".1164" stop-color="#41ab5d"/><stop offset=".2378" stop-color="#78c679"/><stop offset=".3597" stop-color="#addd8e"/><stop offset=".482" stop-color="#d9f0a3"/><stop offset=".6049" stop-color="#f7fcb9"/><stop offset=".7282" stop-color="#ffffe5"/><stop offset="1" stop-color="#ffffe5"/></linearGradient>
<linearGradient id="p01_32" gradientUnits="userSpaceOnUse" x1="596.5" y1="13" x2="664.8" y2="220.52"><stop offset="0" stop-color="#268845"/><stop offset=".1096" stop-color="#41ab5d"/><stop offset=".231" stop-color="#78c679"/><stop offset=".3528" stop-color="#addd8e"/><stop offset=".4749" stop-color="#d9f0a3"/><stop offset=".5975" stop-color="#f7fcb9"/><stop offset=".7205" stop-color="#ffffe5"/><stop offset="1" stop-color="#ffffe5"/></linearGradient>
<linearGradient id="p01_33" gradientUnits="userSpaceOnUse" x1="601.5" y1="13" x2="670.79" y2="219.78"><stop offset="0" stop-color="#288a47"/><stop offset=".1026" stop-color="#41ab5d"/><stop offset=".224" stop-color="#78c679"/><stop offset=".3457" stop-color="#addd8e"/><stop offset=".4677" stop-color="#d9f0a3"/><stop offset=".5901" stop-color="#f7fcb9"/><stop offset=".7127" stop-color="#ffffe5"/><stop offset="1" stop-color="#ffffe5"/></linearGradient>
<linearGradient id="p01_34" gradientUnits="userSpaceOnUse" x1="606.5" y1="13" x2="676.44" y2="219.29"><stop offset="0" stop-color="#298c49"/><stop offset=".0955" stop-color="#41ab5d"/><stop offset=".2169" stop-color="#78c679"/><stop offset=".3386" stop-color="#addd8e"/><stop offset=".4604" stop-color="#d9f0a3"/><stop offset=".5825" stop-color="#f7fcb9"/><stop offset=".7048" stop-color="#ffffe5"/><stop offset="1" stop-color="#ffffe5"/></linearGradient>
<linearGradient id="p01_35" gradientUnits="userSpaceOnUse" x1="611.5" y1="13" x2="682.44" y2="218.52"><stop offset="0" stop-color="#2b8f4a"/><stop offset=".0883" stop-color="#41ab5d"/><stop offset=".2097" stop-color="#78c679"/><stop offset=".3313" stop-color="#addd8e"/><stop offset=".453" stop-color="#d9f0a3"/><stop offset=".5748" stop-color="#f7fcb9"/><stop offset=".6968" stop-color="#ffffe5"/><stop offset="1" stop-color="#ffffe5"/></linearGradient>
<linearGradient id="p01_36" gradientUnits="userSpaceOnUse" x1="616.5" y1="13" x2="688.43" y2="217.73"><stop offset="0" stop-color="#2d914c"/><stop offset=".0809" stop-color="#41ab5d"/><stop offset=".2024" stop-color="#78c679"/><stop offset=".3239" stop-color="#addd8e"/><stop offset=".4454" stop-color="#d9f0a3"/><stop offset=".567" stop-color="#f7fcb9"/><stop offset=".6887" stop-color="#ffffe5"/><stop offset="1" stop-color="#ffffe5"/></linearGradient>
<linearGradient id="p01_37" gradientUnits="userSpaceOnUse" x1="621.5" y1="13" x2="694.41" y2="216.93"><stop offset="0" stop-color="#2f934d"/><stop offset=".0734" stop-color="#41ab5d"/><stop offset=".1949" stop-color="#78c679"/><stop offset=".3163" stop-color="#addd8e"/><stop offset=".4377" stop-color="#d9f0a3"/><stop offset=".5591" stop-color="#f7fcb9"/><stop offset=".6805" stop-color="#ffffe5"/><stop offset="1" stop-color="#ffffe5"/></linearGradient>
<linearGradient id="p01_38" gradientUnits="userSpaceOnUse" x1="626.5" y1="13" x2="700.39" y2="216.12"><stop offset="0" stop-color="#31964f"/><stop offset=".0658" stop-color="#41ab5d"/><stop offset=".1873" stop-color="#78c679"/><stop offset=".3087" stop-color="#addd8e"/><stop offset=".4299" stop-color="#d9f0a3"/><stop offset=".5511" stop-color="#f7fcb9"/><stop offset=".6721" stop-color="#ffffe5"/><stop offset="1" stop-color="#ffffe5"/></linearGradient>
<linearGradient id="p01_39" gradientUnits="userSpaceOnUse" x1="631.5" y1="13" x2="706.37" y2="215.29"><stop offset="0" stop-color="#339851"/><stop offset=".058" stop-color="#41ab5d"/><stop offset=".1795" stop-color="#78c679"/><stop offset=".3009" stop-color="#addd8e"/><stop offset=".422" stop-color="#d9f0a3"/><stop offset=".5429" stop-color="#f7fcb9"/><stop offset=".6637" stop-color="#ffffe5"/><stop offset="1" stop-color="#ffffe5"/></linearGradient>
<linearGradient id="p01_40" gradientUnits="userSpaceOnUse" x1="636.5" y1="13" x2="712.06" y2="214.69"><stop offset="0" stop-color="#359b52"/><stop offset=".05" stop-color="#41ab5d"/><stop offset=".1716" stop-color="#78c679"/><stop offset=".2929" stop-color="#addd8e"/><stop offset=".4139" stop-color="#d9f0a3"/><stop offset=".5347" stop-color="#f7fcb9"/><stop offset=".6551" stop-color="#ffffe5"/><stop offset="1" stop-color="#ffffe5"/></linearGradient>
<linearGradient id="p01_41" gradientUnits="userSpaceOnUse" x1="641.5" y1="13" x2="718.03" y2="213.84"><stop offset="0" stop-color="#379e54"/><stop offset=".0419" stop-color="#41ab5d"/><stop offset=".1636" stop-color="#78c679"/><stop offset=".2848" stop-color="#addd8e"/><stop offset=".4058" stop-color="#d9f0a3"/><stop offset=".5263" stop-color="#f7fcb9"/><stop offset=".6465" stop-color="#ffffe5"/><stop offset="1" stop-color="#ffffe5"/></linearGradient>
<linearGradient id="p01_42" gradientUnits="userSpaceOnUse" x1="646.5" y1="13" x2="723.99" y2="212.97"><stop offset="0" stop-color="#39a056"/><stop offset=".0337" stop-color="#41ab5d"/><stop offset=".1554" stop-color="#78c679"/><stop offset=".2766" stop-color="#addd8e"/><stop offset=".3974" stop-color="#d9f0a3"/><stop offset=".5178" stop-color="#f7fcb9"/><stop offset=".6377" stop-color="#ffffe5"/><stop offset="1" stop-color="#ffffe5"/></linearGradient>
<linearGradient id="p01_43" gradientUnits="userSpaceOnUse" x1="651.5" y1="13" x2="729.94" y2="212.09"><stop offset="0" stop-color="#3ba358"/><stop offset=".0253" stop-color="#41ab5d"/><stop offset=".1471" stop-color="#78c679"/><stop offset=".2683" stop-color="#addd8e"/><stop offset=".389" stop-color="#d9f0a3"/><stop offset=".5092" stop-color="#f7fcb9"/><stop offset=".6288" stop-color="#ffffe5"/><stop offset="1" stop-color="#ffffe5"/></linearGradient>
<linearGradient id="p01_44" gradientUnits="userSpaceOnUse" x1="656.5" y1="13" x2="735.89" y2="211.2"><stop offset="0" stop-color="#3da659"/><stop offset=".0167" stop-color="#41ab5d"/><stop offset=".1386" stop-color="#78c679"/><stop offset=".2598" stop-color="#addd8e"/><stop offset=".3804" stop-color="#d9f0a3"/><stop offset=".5004" stop-color="#f7fcb9"/><stop offset=".6198" stop-color="#ffffe5"/><stop offset="1" stop-color="#ffffe5"/></linearGradient>
<linearGradient id="p01_45" gradientUnits="userSpaceOnUse" x1="661.5" y1="13" x2="741.61" y2="210.5"><stop offset="0" stop-color="#3fa85b"/><stop offset=".008" stop-color="#41ab5d"/><stop offset=".13" stop-color="#78c679"/><stop offset=".2512" stop-color="#addd8e"/><stop offset=".3717" stop-color="#d9f0a3"/><stop offset=".4915" stop-color="#f7fcb9"/><stop offset=".6107" stop-color="#ffffe5"/><stop offset="1" stop-color="#ffffe5"/></linearGradient>
<linearGradient id="p01_46" gradientUnits="userSpaceOnUse" x1="666.5" y1="13" x2="747.55" y2="209.58"><stop offset="0" stop-color="#41ab5d"/><stop offset=".1212" stop-color="#78c679"/><stop offset=".2424" stop-color="#addd8e"/><stop offset=".3629" stop-color="#d9f0a3"/><stop offset=".4825" stop-color="#f7fcb9"/><stop offset=".6015" stop-color="#ffffe5"/><stop offset="1" stop-color="#ffffe5"/></linearGradient>
<linearGradient id="p01_47" gradientUnits="userSpaceOnUse" x1="671.5" y1="13" x2="753.48" y2="208.65"><stop offset="0" stop-color="#45ad5f"/><stop offset=".1123" stop-color="#78c679"/><stop offset=".2335" stop-color="#addd8e"/><stop offset=".3539" stop-color="#d9f0a3"/><stop offset=".4734" stop-color="#f7fcb9"/><stop offset=".5921" stop-color="#ffffe5"/><stop offset="1" stop-color="#ffffe5"/></linearGradient>
<linearGradient id="p01_48" gradientUnits="userSpaceOnUse" x1="676.5" y1="13" x2="759.4" y2="207.71"><stop offset="0" stop-color="#4aaf61"/><stop offset=".1032" stop-color="#78c679"/><stop offset=".2245" stop-color="#addd8e"/><stop offset=".3448" stop-color="#d9f0a3"/><stop offset=".4642" stop-color="#f7fcb9"/><stop offset=".5826" stop-color="#ffffe5"/><stop offset="1" stop-color="#ffffe5"/></linearGradient>
<linearGradient id="p01_49" gradientUnits="userSpaceOnUse" x1="680" y1="13" x2="763.53" y2="207.04"><stop offset="0" stop-color="#4cb163"/><stop offset=".0967" stop-color="#78c679"/><stop offset=".218" stop-color="#addd8e"/><stop offset=".3383" stop-color="#d9f0a3"/><stop offset=".4576" stop-color="#f7fcb9"/><stop offset=".5759" stop-color="#ffffe5"/><stop offset="1" stop-color="#ffffe5"/></linearGradient>
<linearGradient id="p10_0" gradientUnits="userSpaceOnUse" x1="35.5" y1="311" x2="131.78" y2="488.89"><stop offset="0" stop-color="#00482a"/><stop offset=".205" stop-color="#006837"/><stop offset=".4299" stop-color="#238443"/><stop offset=".6584" stop-color="#41ab5d"/><stop offset=".8909" stop-color="#78c679"/><stop offset="1" stop-color="#91d183"/></linearGradient>
<linearGradient id="p10_1" gradientUnits="userSpaceOnUse" x1="40.5" y1="311" x2="137.8" y2="487.3"><stop offset="0" stop-color="#00492b"/><stop offset=".1937" stop-color="#006837"/><stop offset=".418" stop-color="#238443"/><stop offset=".6461" stop-color="#41ab5d"/><stop offset=".8782" stop-color="#78c679"/><stop offset="1" stop-color="#93d284"/></linearGradient>
<linearGradient id="p10_2" gradientUnits="userSpaceOnUse" x1="45.5" y1="311" x2="143.77" y2="485.73"><stop offset="0" stop-color="#004b2b"/><stop offset=".1822" stop-color="#006837"/><stop offset=".4059" stop-color="#238443"/><stop offset=".6335" stop-color="#41ab5d"/><stop offset=".8654" stop-color="#78c679"/><stop offset="1" stop-color="#96d385"/></linearGradient>
<linearGradient id="p10_3" gradientUnits="userSpaceOnUse" x1="50.5" y1="311" x2="149.69" y2="484.19"><stop offset="0" stop-color="#004d2c"/><stop offset=".1706" stop-color="#006837"/><stop offset=".3936" stop-color="#238443"/><stop offset=".6208" stop-color="#41ab5d"/><stop offset=".8523" stop-color="#78c679"/><stop offset="1" stop-color="#99d486"/></linearGradient>
<linearGradient id="p10_4" gradientUnits="userSpaceOnUse" x1="55.5" y1="311" x2="155.56" y2="482.68"><stop offset="0" stop-color="#004f2d"/><stop offset=".1587" stop-color="#006837"/><stop offset=".3811" stop-color="#238443"/><stop offset=".6078" stop-color="#41ab5d"/><stop offset=".839" stop-color="#78c679"/><stop offset="1" stop-color="#9cd687"/></linearGradient>
<linearGradient id="p10_5" gradientUnits="userSpaceOnUse" x1="60.5" y1="311" x2="161.39" y2="481.19"><stop offset="0" stop-color="#00502e"/><stop offset=".1467" stop-color="#006837"/><stop offset=".3685" stop-color="#238443"/><stop offset=".5946" stop-color="#41ab5d"/><stop offset=".8255" stop-color="#78c679"/><stop offset="1" stop-color="#9fd789"/></linearGradient>
<linearGradient id="p10_6" gradientUnits="userSpaceOnUse" x1="65.5" y1="311" x2="167.18" y2="479.72"><stop offset="0" stop-color="#00522e"/><stop offset=".1345" stop-color="#006837"/><stop offset=".3556" stop-color="#238443"/><stop offset=".5813" stop-color="#41ab5d"/><stop offset=".8118" stop-color="#78c679"/><stop offset="1" stop-color="#a2d88a"/></linearGradient>
<linearGradient id="p10_7" gradientUnits="userSpaceOnUse" x1="70.5" y1="311" x2="172.93" y2="478.28"><stop offset="0" stop-color="#00542f"/><stop offset=".1221" stop-color="#006837"/><stop offset=".3426" stop-color="#238443"/><stop offset=".5678" stop-color="#41ab5d"/><stop offset=".7979" stop-color="#78c679"/><stop offset="1" stop-color="#a6da8b"/></linearGradient>
<linearGradient id="p10_8" gradientUnits="userSpaceOnUse" x1="75.5" y1="311" x2="178.64" y2="476.86"><stop offset="0" stop-color="#005630"/><stop offset=".1096" stop-color="#006837"/><stop offset=".3294" stop-color="#238443"/><stop offset=".554" stop-color="#41ab5d"/><stop offset=".7838" stop-color="#78c679"/><stop offset="1" stop-color="#a9db8c"/></linearGradient>
<linearGradient id="p10_9" gradientUnits="userSpaceOnUse" x1="80.5" y1="311" x2="184.32" y2="475.47"><stop offset="0" stop-color="#005831"/><stop offset=".0969" stop-color="#006837"/><stop offset=".3161" stop-color="#238443"/><stop offset=".5401" stop-color="#41ab5d"/><stop offset=".7695" stop-color="#78c679"/><stop offset="1" stop-color="#acdd8e"/></linearGradient>
<linearGradient id="p10_10" gradientUnits="userSpaceOnUse" x1="85.5" y1="311" x2="189.96" y2="474.1"><stop offset="0" stop-color="#005a32"/><stop offset=".0841" stop-color="#006837"/><stop offset=".3025" stop-color="#238443"/><stop offset=".5261" stop-color="#41ab5d"/><stop offset=".755" stop-color="#78c679"/><stop offset=".9898" stop-color="#addd8e"/><stop offset="1" stop-color="#afde8f"/></linearGradient>
<linearGradient id="p10_11" gradientUnits="userSpaceOnUse" x1="90.5" y1="311" x2="195.56" y2="472.76"><stop offset="0" stop-color="#005c32"/><stop offset=".0711" stop-color="#006837"/><stop offset=".2889" stop-color="#238443"/><stop offset=".5118" stop-color="#41ab5d"/><stop offset=".7403" stop-color="#78c679"/><stop offset=".9748" stop-color="#addd8e"/><stop offset="1" stop-color="#b2df90"/></linearGradient>
<linearGradient id="p10_12" gradientUnits="userSpaceOnUse" x1="95.5" y1="311" x2="201.14" y2="471.45"><stop offset="0" stop-color="#005f33"/><stop offset=".058" stop-color="#006837"/><stop offset=".2751" stop-color="#238443"/><stop offset=".4974" stop-color="#41ab5d"/><stop offset=".7255" stop-color="#78c679"/><stop offset=".9597" stop-color="#addd8e"/><stop offset="1" stop-color="#b4e092"/></linearGradient>
<linearGradient id="p10_13" gradientUnits="userSpaceOnUse" x1="100.5" y1="311" x2="206.68" y2="470.16"><stop offset="0" stop-color="#006134"/><stop offset=".0447" stop-color="#006837"/><stop offset=".2611" stop-color="#238443"/><stop offset=".4828" stop-color="#41ab5d"/><stop offset=".7104" stop-color="#78c679"/><stop offset=".9443" stop-color="#addd8e"/><stop offset="1" stop-color="#b7e193"/></linearGradient>
<linearGradient id="p10_14" gradientUnits="userSpaceOnUse" x1="105.5" y1="311" x2="212.2" y2="468.9"><stop offset="0" stop-color="#006335"/><stop offset=".0314" stop-color="#006837"/><stop offset=".247" stop-color="#238443"/><stop offset=".4681" stop-color="#41ab5d"/><stop offset=".6952" stop-color="#78c679"/><stop offset=".9288" stop-color="#addd8e"/><stop offset="1" stop-color="#bae394"/></linearGradient>
<linearGradient id="p10_15" gradientUnits="userSpaceOnUse" x1="110.5" y1="311" x2="217.69" y2="467.66"><stop offset="0" stop-color="#006536"/><stop offset=".0179" stop-color="#006837"/><stop offset=".2328" stop-color="#238443"/><stop offset=".4533" stop-color="#41ab5d"/><stop offset=".6799" stop-color="#78c679"/><stop offset=".9131" stop-color="#addd8e"/><stop offset="1" stop-color="#bde496"/></linearGradient>
<linearGradient id="p10_16" gradientUnits="userSpaceOnUse" x1="115.5" y1="311" x2="223.15" y2="466.45"><stop offset="0" stop-color="#006737"/><stop offset=".0042" stop-color="#006837"/><stop offset=".2184" stop-color="#238443"/><stop offset=".4383" stop-color="#41ab5d"/><stop offset=".6644" stop-color="#78c679"/><stop offset=".8972" stop-color="#addd8e"/><stop offset="1" stop-color="#c0e597"/></linearGradient>
<linearGradient id="p10_17" gradientUnits="userSpaceOnUse" x1="120.5" y1="311" x2="228.59" y2="465.26"><stop offset="0" stop-color="#026938"/><stop offset=".2039" stop-color="#238443"/><stop offset=".4231" stop-color="#41ab5d"/><stop offset=".6487" stop-color="#78c679"/><stop offset=".8812" stop-color="#addd8e"/><stop offset="1" stop-color="#c3e698"/></linearGradient>
<linearGradient id="p10_18" gradientUnits="userSpaceOnUse" x1="125.5" y1="311" x2="234.01" y2="464.1"><stop offset="0" stop-color="#046b38"/><stop offset=".1893" stop-color="#238443"/><stop offset=".4079" stop-color="#41ab5d"/><stop offset=".6329" stop-color="#78c679"/><stop offset=".8649" stop-color="#addd8e"/><stop offset="1" stop-color="#c6e89a"/></linearGradient>
<linearGradient id="p10_19" gradientUnits="userSpaceOnUse" x1="130.5" y1="311" x2="239.4" y2="462.96"><stop offset="0" stop-color="#066d39"/><stop offset=".1746" stop-color="#238443"/><stop offset=".3925" stop-color="#41ab5d"/><stop offset=".6169" stop-color="#78c679"/><stop offset=".8485" stop-color="#addd8e"/><stop offset="1" stop-color="#c9e99b"/></linearGradient>
<linearGradient id="p10_20" gradientUnits="userSpaceOnUse" x1="135.5" y1="311" x2="244.77" y2="461.85"><stop offset="0" stop-color="#096f3a"/><stop offset=".1597" stop-color="#238443"/><stop offset=".3769" stop-color="#41ab5d"/><stop offset=".6008" stop-color="#78c679"/><stop offset=".832" stop-color="#addd8e"/><stop offset="1" stop-color="#ccea9d"/></linearGradient>
<linearGradient id="p10_21" gradientUnits="userSpaceOnUse" x1="140.5" y1="311" x2="250.12" y2="460.76"><stop offset="0" stop-color="#0b713b"/><stop offset=".1448" stop-color="#238443"/><stop offset=".3613" stop-color="#41ab5d"/><stop offset=".5846" stop-color="#78c679"/><stop offset=".8153" stop-color="#addd8e"/><stop offset="1" stop-color="#cfec9e"/></linearGradient>
<linearGradient id="p10_22" gradientUnits="userSpaceOnUse" x1="145.5" y1="311" x2="255.45" y2="459.7"><stop offset="0" stop-color="#0d733c"/><stop offset=".1297" stop-color="#238443"/><stop offset=".3455" stop-color="#41ab5d"/><stop offset=".5682" stop-color="#78c679"/><stop offset=".7984" stop-color="#addd8e"/><stop offset="1" stop-color="#d2eda0"/></linearGradient>
<linearGradient id="p10_23" gradientUnits="userSpaceOnUse" x1="150.5" y1="311" x2="260.77" y2="458.65"><stop offset="0" stop-color="#10753c"/><stop offset=".1146" stop-color="#238443"/><stop offset=".3297" stop-color="#41ab5d"/><stop offset=".5517" stop-color="#78c679"/><stop offset=".7814" stop-color="#addd8e"/><stop offset="1" stop-color="#d5eea1"/></linearGradient>
<linearGradient id="p10_24" gradientUnits="userSpaceOnUse" x1="155.5" y1="311" x2="266.06" y2="457.64"><stop offset="0" stop-color="#12773d"/><stop offset=".0994" stop-color="#238443"/><stop offset=".3137" stop-color="#41ab5d"/><stop offset=".5351" stop-color="#78c679"/><stop offset=".7643" stop-color="#addd8e"/><stop offset="1" stop-color="#d9f0a3"/></linearGradient>
<linearGradient id="p10_25" gradientUnits="userSpaceOnUse" x1="160.5" y1="311" x2="271.34" y2="456.64"><stop offset="0" stop-color="#15793e"/><stop offset=".0841" stop-color="#238443"/><stop offset=".2977" stop-color="#41ab5d"/><stop offset=".5184" stop-color="#78c679"/><stop offset=".7471" stop-color="#addd8e"/><stop offset=".9845" stop-color="#d9f0a3"/><stop offset="1" stop-color="#dbf1a4"/></linearGradient>
<linearGradient id="p10_26" gradientUnits="userSpaceOnUse" x1="165.5" y1="311" x2="276.61" y2="455.67"><stop offset="0" stop-color="#177b3f"/><stop offset=".0687" stop-color="#238443"/><stop offset=".2815" stop-color="#41ab5d"/><stop offset=".5016" stop-color="#78c679"/><stop offset=".7297" stop-color="#addd8e"/><stop offset=".9667" stop-color="#d9f0a3"/><stop offset="1" stop-color="#ddf2a6"/></linearGradient>
<linearGradient id="p10_27" gradientUnits="userSpaceOnUse" x1="170.5" y1="311" x2="281.86" y2="454.72"><stop offset="0" stop-color="#1a7d40"/><stop offset=".0532" stop-color="#238443"/><stop offset=".2653" stop-color="#41ab5d"/><stop offset=".4847" stop-color="#78c679"/><stop offset=".7122" stop-color="#addd8e"/><stop offset=".9488" stop-color="#d9f0a3"/><stop offset="1" stop-color="#dff3a8"/></linearGradient>
<linearGradient id="p10_28" gradientUnits="userSpaceOnUse" x1="175.5" y1="311" x2="287.09" y2="453.79"><stop offset="0" stop-color="#1d7f41"/><stop offset=".0377" stop-color="#238443"/><stop offset=".249" stop-color="#41ab5d"/><stop offset=".4676" stop-color="#78c679"/><stop offset=".6945" stop-color="#addd8e"/><stop offset=".9307" stop-color="#d9f0a3"/><stop offset="1" stop-color="#e2f3a9"/></linearGradient>
<linearGradient id="p10_29" gradientUnits="userSpaceOnUse" x1="180.5" y1="311" x2="292.31" y2="452.89"><stop offset="0" stop-color="#1f8142"/><stop offset=".022" stop-color="#238443"/><stop offset=".2326" stop-color="#41ab5d"/><stop offset=".4505" stop-color="#78c679"/><stop offset=".6768" stop-color="#addd8e"/><stop offset=".9124" stop-color="#d9f0a3"/><stop offset="1" stop-color="#e4f4ab"/></linearGradient>
<linearGradient id="p10_30" gradientUnits="userSpaceOnUse" x1="185.5" y1="311" x2="297.52" y2="452"><stop offset="0" stop-color="#228343"/><stop offset=".0064" stop-color="#238443"/><stop offset=".2161" stop-color="#41ab5d"/><stop offset=".4333" stop-color="#78c679"/><stop offset=".659" stop-color="#addd8e"/><stop offset=".8941" stop-color="#d9f0a3"/><stop offset="1" stop-color="#e6f5ad"/></linearGradient>
<linearGradient id="p10_31" gradientUnits="userSpaceOnUse" x1="190.5" y1="311" x2="302.72" y2="451.14"><stop offset="0" stop-color="#248644"/><stop offset=".1996" stop-color="#41ab5d"/><stop offset=".4161" stop-color="#78c679"/><stop offset=".641" stop-color="#addd8e"/><stop offset=".8756" stop-color="#d9f0a3"/><stop offset="1" stop-color="#e8f6ae"/></linearGradient>
<linearGradient id="p10_32" gradientUnits="userSpaceOnUse" x1="195.5" y1="311" x2="307.9" y2="450.3"><stop offset="0" stop-color="#278946"/><stop offset=".183" stop-color="#41ab5d"/><stop offset=".3987" stop-color="#78c679"/><stop offset=".623" stop-color="#addd8e"/><stop offset=".857" stop-color="#d9f0a3"/><stop offset="1" stop-color="#ebf7b0"/></linearGradient>
<linearGradient id="p10_33" gradientUnits="userSpaceOnUse" x1="200.5" y1="311" x2="313.08" y2="449.48"><stop offset="0" stop-color="#298c48"/><stop offset=".1663" stop-color="#41ab5d"/><stop offset=".3813" stop-color="#78c679"/><stop offset=".6049" stop-color="#addd8e"/><stop offset=".8383" stop-color="#d9f0a3"/><stop offset="1" stop-color="#edf8b2"/></linearGradient>
<linearGradient id="p10_34" gradientUnits="userSpaceOnUse" x1="205.5" y1="311" x2="318.24" y2="448.68"><stop offset="0" stop-color="#2b8f4a"/><stop offset=".1496" stop-color="#41ab5d"/><stop offset=".3638" stop-color="#78c679"/><stop offset=".5867" stop-color="#addd8e"/><stop offset=".8195" stop-color="#d9f0a3"/><stop offset="1" stop-color="#eff9b3"/></linearGradient>
<linearGradient id="p10_35" gradientUnits="userSpaceOnUse" x1="210.5" y1="311" x2="323.39" y2="447.9"><stop offset="0" stop-color="#2e924c"/><stop offset=".1328" stop-color="#41ab5d"/><stop offset=".3463" stop-color="#78c679"/><stop offset=".5684" stop-color="#addd8e"/><stop offset=".8006" stop-color="#d9f0a3"/><stop offset="1" stop-color="#f2fab5"/></linearGradient>
<linearGradient id="p10_36" gradientUnits="userSpaceOnUse" x1="215.5" y1="311" x2="328.54" y2="447.15"><stop offset="0" stop-color="#30954e"/><stop offset=".116" stop-color="#41ab5d"/><stop offset=".3286" stop-color="#78c679"/><stop offset=".5501" stop-color="#addd8e"/><stop offset=".7816" stop-color="#d9f0a3"/><stop offset="1" stop-color="#f4fbb7"/></linearGradient>
<linearGradient id="p10_37" gradientUnits="userSpaceOnUse" x1="220.5" y1="311" x2="333.67" y2="446.41"><stop offset="0" stop-color="#339850"/><stop offset=".0992" stop-color="#41ab5d"/><stop offset=".311" stop-color="#78c679"/><stop offset=".5317" stop-color="#addd8e"/><stop offset=".7625" stop-color="#d9f0a3"/><stop offset="1" stop-color="#f6fcb9"/></linearGradient>
<linearGradient id="p10_38" gradientUnits="userSpaceOnUse" x1="225.5" y1="311" x2="338.8" y2="445.69"><stop offset="0" stop-color="#359b53"/><stop offset=".0823" stop-color="#41ab5d"/><stop offset=".2933" stop-color="#78c679"/><stop offset=".5132" stop-color="#addd8e"/><stop offset=".7433" stop-color="#d9f0a3"/><stop offset=".9852" stop-color="#f7fcb9"/><stop offset="1" stop-color="#f7fcbc"/></linearGradient>
<linearGradient id="p10_39" gradientUnits="userSpaceOnUse" x1="230.5" y1="311" x2="343.92" y2="444.99"><stop offset="0" stop-color="#379f55"/><stop offset=".0654" stop-color="#41ab5d"/><stop offset=".2756" stop-color="#78c679"/><stop offset=".4947" stop-color="#addd8e"/><stop offset=".7241" stop-color="#d9f0a3"/><stop offset=".9654" stop-color="#f7fcb9"/><stop offset="1" stop-color="#f8fcbf"/></linearGradient>
<linearGradient id="p10_40" gradientUnits="userSpaceOnUse" x1="235.5" y1="311" x2="349.03" y2="444.31"><stop offset="0" stop-color="#3aa257"/><stop offset=".0485" stop-color="#41ab5d"/><stop offset=".2578" stop-color="#78c679"/><stop offset=".4761" stop-color="#addd8e"/><stop offset=".7048" stop-color="#d9f0a3"/><stop offset=".9454" stop-color="#f7fcb9"/><stop offset="1" stop-color="#f9fdc3"/></linearGradient>
<linearGradient id="p10_41" gradientUnits="userSpaceOnUse" x1="240.5" y1="311" x2="354.14" y2="443.64"><stop offset="0" stop-color="#3ca559"/><stop offset=".0315" stop-color="#41ab5d"/><stop offset=".24" stop-color="#78c679"/><stop offset=".4575" stop-color="#addd8e"/><stop offset=".6854" stop-color="#d9f0a3"/><stop offset=".9254" stop-color="#f7fcb9"/><stop offset="1" stop-color="#f9fdc6"/></linearGradient>
<linearGradient id="p10_42" gradientUnits="userSpaceOnUse" x1="245.5" y1="311" x2="359.24" y2="443"><stop offset="0" stop-color="#3fa85b"/><stop offset=".0145" stop-color="#41ab5d"/><stop offset=".2221" stop-color="#78c679"/><stop offset=".4388" stop-color="#addd8e"/><stop offset=".666" stop-color="#d9f0a3"/><stop offset=".9053" stop-color="#f7fcb9"/><stop offset="1" stop-color="#fafdca"/></linearGradient>
<linearGradient id="p10_43" gradientUnits="userSpaceOnUse" x1="250.5" y1="311" x2="364.33" y2="442.37"><stop offset="0" stop-color="#42ab5d"/><stop offset=".2043" stop-color="#78c679"/><stop offset=".4202" stop-color="#addd8e"/><stop offset=".6465" stop-color="#d9f0a3"/><stop offset=".8851" stop-color="#f7fcb9"/><stop offset="1" stop-color="#fbfdcd"/></linearGradient>
<linearGradient id="p10_44" gradientUnits="userSpaceOnUse" x1="255.5" y1="311" x2="369.41" y2="441.77"><stop offset="0" stop-color="#46ae60"/><stop offset=".1864" stop-color="#78c679"/><stop offset=".4014" stop-color="#addd8e"/><stop offset=".627" stop-color="#d9f0a3"/><stop offset=".8648" stop-color="#f7fcb9"/><stop offset="1" stop-color="#fbfed1"/></linearGradient>
<linearGradient id="p10_45" gradientUnits="userSpaceOnUse" x1="260.5" y1="311" x2="374.49" y2="441.18"><stop offset="0" stop-color="#4bb062"/><stop offset=".1685" stop-color="#78c679"/><stop offset=".3827" stop-color="#addd8e"/><stop offset=".6074" stop-color="#d9f0a3"/><stop offset=".8445" stop-color="#f7fcb9"/><stop offset="1" stop-color="#fcfed5"/></linearGradient>
<linearGradient id="p10_46" gradientUnits="userSpaceOnUse" x1="265.5" y1="311" x2="379.57" y2="440.61"><stop offset="0" stop-color="#50b264"/><stop offset=".1506" stop-color="#78c679"/><stop offset=".3639" stop-color="#addd8e"/><stop offset=".5878" stop-color="#d9f0a3"/><stop offset=".8241" stop-color="#f7fcb9"/><stop offset="1" stop-color="#fdfed8"/></linearGradient>
<linearGradient id="p10_47" gradientUnits="userSpaceOnUse" x1="270.5" y1="311" x2="384.64" y2="440.05"><stop offset="0" stop-color="#54b467"/><stop offset=".1327" stop-color="#78c679"/><stop offset=".3451" stop-color="#addd8e"/><stop offset=".5682" stop-color="#d9f0a3"/><stop offset=".8037" stop-color="#f7fcb9"/><stop offset="1" stop-color="#fdfedc"/></linearGradient>
<linearGradient id="p10_48" gradientUnits="userSpaceOnUse" x1="275.5" y1="311" x2="389.7" y2="439.51"><stop offset="0" stop-color="#59b769"/><stop offset=".1148" stop-color="#78c679"/><stop offset=".3264" stop-color="#addd8e"/><stop offset=".5486" stop-color="#d9f0a3"/><stop offset=".7833" stop-color="#f7fcb9"/><stop offset="1" stop-color="#feffdf"/></linearGradient>
<linearGradient id="p10_49" gradientUnits="userSpaceOnUse" x1="279" y1="311" x2="393.25" y2="439.15"><stop offset="0" stop-color="#5cb86b"/><stop offset=".1023" stop-color="#78c679"/><stop offset=".3132" stop-color="#addd8e"/><stop offset=".5348" stop-color="#d9f0a3"/><stop offset=".7689" stop-color="#f7fcb9"/><stop offset="1" stop-color="#feffe2"/></linearGradient>
<linearGradient id="p11_0" gradientUnits="userSpaceOnUse" x1="436.5" y1="311" x2="443.93" y2="540.76"><stop offset="0" stop-color="#005e33"/><stop offset=".034" stop-color="#006837"/><stop offset=".1523" stop-color="#238443"/><stop offset=".2724" stop-color="#41ab5d"/><stop offset=".3943" stop-color="#78c679"/><stop offset=".5182" stop-color="#addd8e"/><stop offset=".644" stop-color="#d9f0a3"/><stop offset=".772" stop-color="#f7fcb9"/><stop offset=".9022" stop-color="#ffffe5"/><stop offset="1" stop-color="#ffffe5"/></linearGradient>
<linearGradient id="p11_1" gradientUnits="userSpaceOnUse" x1="441.5" y1="311" x2="450.07" y2="540.68"><stop offset="0" stop-color="#005e33"/><stop offset=".0328" stop-color="#006837"/><stop offset=".1512" stop-color="#238443"/><stop offset=".2714" stop-color="#41ab5d"/><stop offset=".3935" stop-color="#78c679"/><stop offset=".5175" stop-color="#addd8e"/><stop offset=".6435" stop-color="#d9f0a3"/><stop offset=".7717" stop-color="#f7fcb9"/><stop offset=".9022" stop-color="#ffffe5"/><stop offset="1" stop-color="#ffffe5"/></linearGradient>
<linearGradient id="p11_2" gradientUnits="userSpaceOnUse" x1="446.5" y1="311" x2="456.2" y2="540.59"><stop offset="0" stop-color="#005f33"/><stop offset=".0314" stop-color="#006837"/><stop offset=".15" stop-color="#238443"/><stop offset=".2703" stop-color="#41ab5d"/><stop offset=".3925" stop-color="#78c679"/><stop offset=".5166" stop-color="#addd8e"/><stop offset=".6429" stop-color="#d9f0a3"/><stop offset=".7712" stop-color="#f7fcb9"/><stop offset=".9019" stop-color="#ffffe5"/><stop offset="1" stop-color="#ffffe5"/></linearGradient>
<linearGradient id="p11_3" gradientUnits="userSpaceOnUse" x1="451.5" y1="311" x2="462.33" y2="540.49"><stop offset="0" stop-color="#005f33"/><stop offset=".03" stop-color="#006837"/><stop offset=".1487" stop-color="#238443"/><stop offset=".2691" stop-color="#41ab5d"/><stop offset=".3914" stop-color="#78c679"/><stop offset=".5157" stop-color="#addd8e"/><stop offset=".6421" stop-color="#d9f0a3"/><stop offset=".7707" stop-color="#f7fcb9"/><stop offset=".9015" stop-color="#ffffe5"/><stop offset="1" stop-color="#ffffe5"/></linearGradient>
<linearGradient id="p11_4" gradientUnits="userSpaceOnUse" x1="456.5" y1="311" x2="468.46" y2="540.38"><stop offset="0" stop-color="#006034"/><stop offset=".0285" stop-color="#006837"/><stop offset=".1472" stop-color="#238443"/><stop offset=".2678" stop-color="#41ab5d"/><stop offset=".3902" stop-color="#78c679"/><stop offset=".5147" stop-color="#addd8e"/><stop offset=".6412" stop-color="#d9f0a3"/><stop offset=".7699" stop-color="#f7fcb9"/><stop offset=".901" stop-color="#ffffe5"/><stop offset="1" stop-color="#ffffe5"/></linearGradient>
<linearGradient id="p11_5" gradientUnits="userSpaceOnUse" x1="461.5" y1="311" x2="474.58" y2="540.25"><stop offset="0" stop-color="#006034"/><stop offset=".027" stop-color="#006837"/><stop offset=".1458" stop-color="#238443"/><stop offset=".2664" stop-color="#41ab5d"/><stop offset=".3889" stop-color="#78c679"/><stop offset=".5135" stop-color="#addd8e"/><stop offset=".6402" stop-color="#d9f0a3"/><stop offset=".7691" stop-color="#f7fcb9"/><stop offset=".9004" stop-color="#ffffe5"/><stop offset="1" stop-color="#ffffe5"/></linearGradient>
<linearGradient id="p11_6" gradientUnits="userSpaceOnUse" x1="466.5" y1="311" x2="480.69" y2="540.12"><stop offset="0" stop-color="#006034"/><stop offset=".0253" stop-color="#006837"/><stop offset=".1442" stop-color="#238443"/><stop offset=".2649" stop-color="#41ab5d"/><stop offset=".3876" stop-color="#78c679"/><stop offset=".5122" stop-color="#addd8e"/><stop offset=".639" stop-color="#d9f0a3"/><stop offset=".7681" stop-color="#f7fcb9"/><stop offset=".8996" stop-color="#ffffe5"/><stop offset="1" stop-color="#ffffe5"/></linearGradient>
<linearGradient id="p11_7" gradientUnits="userSpaceOnUse" x1="471.5" y1="311" x2="486.79" y2="539.98"><stop offset="0" stop-color="#006134"/><stop offset=".0236" stop-color="#006837"/><stop offset=".1425" stop-color="#238443"/><stop offset=".2633" stop-color="#41ab5d"/><stop offset=".3861" stop-color="#78c679"/><stop offset=".5109" stop-color="#addd8e"/><stop offset=".6378" stop-color="#d9f0a3"/><stop offset=".767" stop-color="#f7fcb9"/><stop offset=".8986" stop-color="#ffffe5"/><stop offset="1" stop-color="#ffffe5"/></linearGradient>
<linearGradient id="p11_8" gradientUnits="userSpaceOnUse" x1="476.5" y1="311" x2="492.9" y2="539.83"><stop offset="0" stop-color="#006234"/><stop offset=".0218" stop-color="#006837"/><stop offset=".1408" stop-color="#238443"/><stop offset=".2616" stop-color="#41ab5d"/><stop offset=".3845" stop-color="#78c679"/><stop offset=".5094" stop-color="#addd8e"/><stop offset=".6364" stop-color="#d9f0a3"/><stop offset=".7658" stop-color="#f7fcb9"/><stop offset=".8975" stop-color="#ffffe5"/><stop offset="1" stop-color="#ffffe5"/></linearGradient>
<linearGradient id="p11_9" gradientUnits="userSpaceOnUse" x1="481.5" y1="311" x2="498.99" y2="539.66"><stop offset="0" stop-color="#006235"/><stop offset=".0199" stop-color="#006837"/><stop offset=".139" stop-color="#238443"/><stop offset=".2599" stop-color="#41ab5d"/><stop offset=".3828" stop-color="#78c679"/><stop offset=".5078" stop-color="#addd8e"/><stop offset=".6349" stop-color="#d9f0a3"/><stop offset=".7644" stop-color="#f7fcb9"/><stop offset=".8963" stop-color="#ffffe5"/><stop offset="1" stop-color="#ffffe5"/></linearGradient>
<linearGradient id="p11_10" gradientUnits="userSpaceOnUse" x1="486.5" y1="311" x2="505.07" y2="539.49"><stop offset="0" stop-color="#006335"/><stop offset=".018" stop-color="#006837"/><stop offset=".1371" stop-color="#238443"/><stop offset=".258" stop-color="#41ab5d"/><stop offset=".381" stop-color="#78c679"/><stop offset=".506" stop-color="#addd8e"/><stop offset=".6333" stop-color="#d9f0a3"/><stop offset=".7629" stop-color="#f7fcb9"/><stop offset=".8949" stop-color="#ffffe5"/><stop offset="1" stop-color="#ffffe5"/></linearGradient>
<linearGradient id="p11_11" gradientUnits="userSpaceOnUse" x1="491.5" y1="311" x2="511.15" y2="539.31"><stop offset="0" stop-color="#006335"/><stop offset=".016" stop-color="#006837"/><stop offset=".1351" stop-color="#238443"/><stop offset=".2561" stop-color="#41ab5d"/><stop offset=".3791" stop-color="#78c679"/><stop offset=".5042" stop-color="#addd8e"/><stop offset=".6316" stop-color="#d9f0a3"/><stop offset=".7612" stop-color="#f7fcb9"/><stop offset=".8934" stop-color="#ffffe5"/><stop offset="1" stop-color="#ffffe5"/></linearGradient>
<linearGradient id="p11_12" gradientUnits="userSpaceOnUse" x1="496.5" y1="311" x2="517.23" y2="539.12"><stop offset="0" stop-color="#006435"/><stop offset=".0139" stop-color="#006837"/><stop offset=".133" stop-color="#238443"/><stop offset=".254" stop-color="#41ab5d"/><stop offset=".3771" stop-color="#78c679"/><stop offset=".5023" stop-color="#addd8e"/><stop offset=".6297" stop-color="#d9f0a3"/><stop offset=".7595" stop-color="#f7fcb9"/><stop offset=".8918" stop-color="#ffffe5"/><stop offset="1" stop-color="#ffffe5"/></linearGradient>
<linearGradient id="p11_13" gradientUnits="userSpaceOnUse" x1="501.5" y1="311" x2="523.29" y2="538.92"><stop offset="0" stop-color="#006536"/><stop offset=".0117" stop-color="#006837"/><stop offset=".1309" stop-color="#238443"/><stop offset=".2519" stop-color="#41ab5d"/><stop offset=".375" stop-color="#78c679"/><stop offset=".5003" stop-color="#addd8e"/><stop offset=".6277" stop-color="#d9f0a3"/><stop offset=".7576" stop-color="#f7fcb9"/><stop offset=".89" stop-color="#ffffe5"/><stop offset="1" stop-color="#ffffe5"/></linearGradient>
<linearGradient id="p11_14" gradientUnits="userSpaceOnUse" x1="506.5" y1="311" x2="529.34" y2="538.71"><stop offset="0" stop-color="#006536"/><stop offset=".0095" stop-color="#006837"/><stop offset=".1286" stop-color="#238443"/><stop offset=".2497" stop-color="#41ab5d"/><stop offset=".3728" stop-color="#78c679"/><stop offset=".4981" stop-color="#addd8e"/><stop offset=".6256" stop-color="#d9f0a3"/><stop offset=".7556" stop-color="#f7fcb9"/><stop offset=".888" stop-color="#ffffe5"/><stop offset="1" stop-color="#ffffe5"/></linearGradient>
<linearGradient id="p11_15" gradientUnits="userSpaceOnUse" x1="511.5" y1="311" x2="535.39" y2="538.49"><stop offset="0" stop-color="#006636"/><stop offset=".0072" stop-color="#006837"/><stop offset=".1263" stop-color="#238443"/><stop offset=".2474" stop-color="#41ab5d"/><stop offset=".3706" stop-color="#78c679"/><stop offset=".4959" stop-color="#addd8e"/><stop offset=".6234" stop-color="#d9f0a3"/><stop offset=".7534" stop-color="#f7fcb9"/><stop offset=".886" stop-color="#ffffe5"/><stop offset="1" stop-color="#ffffe5"/></linearGradient>
<linearGradient id="p11_16" gradientUnits="userSpaceOnUse" x1="516.5" y1="311" x2="541.43" y2="538.27"><stop offset="0" stop-color="#006736"/><stop offset=".0048" stop-color="#006837"/><stop offset=".1239" stop-color="#238443"/><stop offset=".245" stop-color="#41ab5d"/><stop offset=".3682" stop-color="#78c679"/><stop offset=".4935" stop-color="#addd8e"/><stop offset=".6211" stop-color="#d9f0a3"/><stop offset=".7512" stop-color="#f7fcb9"/><stop offset=".8838" stop-color="#ffffe5"/><stop offset="1" stop-color="#ffffe5"/></linearGradient>
<linearGradient id="p11_17" gradientUnits="userSpaceOnUse" x1="521.5" y1="311" x2="547.45" y2="538.03"><stop offset="0" stop-color="#006737"/><stop offset=".0024" stop-color="#006837"/><stop offset=".1215" stop-color="#238443"/><stop offset=".2426" stop-color="#41ab5d"/><stop offset=".3657" stop-color="#78c679"/><stop offset=".491" stop-color="#addd8e"/><stop offset=".6187" stop-color="#d9f0a3"/><stop offset=".7488" stop-color="#f7fcb9"/><stop offset=".8814" stop-color="#ffffe5"/><stop offset="1" stop-color="#ffffe5"/></linearGradient>
<linearGradient id="p11_18" gradientUnits="userSpaceOnUse" x1="526.5" y1="311" x2="553.47" y2="537.79"><stop offset="0" stop-color="#006837"/><stop offset=".119" stop-color="#238443"/><stop offset=".24" stop-color="#41ab5d"/><stop offset=".3632" stop-color="#78c679"/><stop offset=".4885" stop-color="#addd8e"/><stop offset=".6161" stop-color="#d9f0a3"/><stop offset=".7462" stop-color="#f7fcb9"/><stop offset=".8789" stop-color="#ffffe5"/><stop offset="1" stop-color="#ffffe5"/></linearGradient>
<linearGradient id="p11_19" gradientUnits="userSpaceOnUse" x1="531.5" y1="311" x2="559.48" y2="537.54"><stop offset="0" stop-color="#016937"/><stop offset=".1164" stop-color="#238443"/><stop offset=".2374" stop-color="#41ab5d"/><stop offset=".3605" stop-color="#78c679"/><stop offset=".4858" stop-color="#addd8e"/><stop offset=".6135" stop-color="#d9f0a3"/><stop offset=".7436" stop-color="#f7fcb9"/><stop offset=".8763" stop-color="#ffffe5"/><stop offset="1" stop-color="#ffffe5"/></linearGradient>
<linearGradient id="p11_20" gradientUnits="userSpaceOnUse" x1="536.5" y1="311" x2="565.48" y2="537.29"><stop offset="0" stop-color="#026938"/><stop offset=".1137" stop-color="#238443"/><stop offset=".2347" stop-color="#41ab5d"/><stop offset=".3578" stop-color="#78c679"/><stop offset=".4831" stop-color="#addd8e"/><stop offset=".6107" stop-color="#d9f0a3"/><stop offset=".7408" stop-color="#f7fcb9"/><stop offset=".8736" stop-color="#ffffe5"/><stop offset="1" stop-color="#ffffe5"/></linearGradient>
<linearGradient id="p11_21" gradientUnits="userSpaceOnUse" x1="541.5" y1="311" x2="571.47" y2="537.03"><stop offset="0" stop-color="#026a38"/><stop offset=".1109" stop-color="#238443"/><stop offset=".2319" stop-color="#41ab5d"/><stop offset=".3549" stop-color="#78c679"/><stop offset=".4802" stop-color="#addd8e"/><stop offset=".6078" stop-color="#d9f0a3"/><stop offset=".7379" stop-color="#f7fcb9"/><stop offset=".8707" stop-color="#ffffe5"/><stop offset="1" stop-color="#ffffe5"/></linearGradient>
<linearGradient id="p11_22" gradientUnits="userSpaceOnUse" x1="546.5" y1="311" x2="577.45" y2="536.76"><stop offset="0" stop-color="#036b38"/><stop offset=".1081" stop-color="#238443"/><stop offset=".229" stop-color="#41ab5d"/><stop offset=".352" stop-color="#78c679"/><stop offset=".4772" stop-color="#addd8e"/><stop offset=".6048" stop-color="#d9f0a3"/><stop offset=".7349" stop-color="#f7fcb9"/><stop offset=".8676" stop-color="#ffffe5"/><stop offset="1" stop-color="#ffffe5"/></linearGradient>
<linearGradient id="p11_23" gradientUnits="userSpaceOnUse" x1="551.5" y1="311" x2="583.42" y2="536.48"><stop offset="0" stop-color="#046b38"/><stop offset=".1052" stop-color="#238443"/><stop offset=".226" stop-color="#41ab5d"/><stop offset=".349" stop-color="#78c679"/><stop offset=".4742" stop-color="#addd8e"/><stop offset=".6017" stop-color="#d9f0a3"/><stop offset=".7318" stop-color="#f7fcb9"/><stop offset=".8645" stop-color="#ffffe5"/><stop offset="1" stop-color="#ffffe5"/></linearGradient>
<linearGradient id="p11_24" gradientUnits="userSpaceOnUse" x1="556.5" y1="311" x2="589.37" y2="536.2"><stop offset="0" stop-color="#056c39"/><stop offset=".1023" stop-color="#238443"/><stop offset=".223" stop-color="#41ab5d"/><stop offset=".3459" stop-color="#78c679"/><stop offset=".471" stop-color="#addd8e"/><stop offset=".5985" stop-color="#d9f0a3"/><stop offset=".7285" stop-color="#f7fcb9"/><stop offset=".8612" stop-color="#ffffe5"/><stop offset="1" stop-color="#ffffe5"/></linearGradient>
<linearGradient id="p11_25" gradientUnits="userSpaceOnUse" x1="561.5" y1="311" x2="595.2" y2="535.95"><stop offset="0" stop-color="#066d39"/><stop offset=".0992" stop-color="#238443"/><stop offset=".2199" stop-color="#41ab5d"/><stop offset=".3427" stop-color="#78c679"/><stop offset=".4678" stop-color="#addd8e"/><stop offset=".5952" stop-color="#d9f0a3"/><stop offset=".7252" stop-color="#f7fcb9"/><stop offset=".8578" stop-color="#ffffe5"/><stop offset="1" stop-color="#ffffe5"/></linearGradient>
<linearGradient id="p11_26" gradientUnits="userSpaceOnUse" x1="566.5" y1="311" x2="601.12" y2="535.67"><stop offset="0" stop-color="#076d39"/><stop offset=".0962" stop-color="#238443"/><stop offset=".2167" stop-color="#41ab5d"/><stop offset=".3394" stop-color="#78c679"/><stop offset=".4644" stop-color="#addd8e"/><stop offset=".5918" stop-color="#d9f0a3"/><stop offset=".7217" stop-color="#f7fcb9"/><stop offset=".8543" stop-color="#ffffe5"/><stop offset="1" stop-color="#ffffe5"/></linearGradient>
<linearGradient id="p11_27" gradientUnits="userSpaceOnUse" x1="571.5" y1="311" x2="607.02" y2="535.38"><stop offset="0" stop-color="#086e3a"/><stop offset=".093" stop-color="#238443"/><stop offset=".2135" stop-color="#41ab5d"/><stop offset=".3361" stop-color="#78c679"/><stop offset=".461" stop-color="#addd8e"/><stop offset=".5883" stop-color="#d9f0a3"/><stop offset=".7181" stop-color="#f7fcb9"/><stop offset=".8506" stop-color="#ffffe5"/><stop offset="1" stop-color="#ffffe5"/></linearGradient>
<linearGradient id="p11_28" gradientUnits="userSpaceOnUse" x1="576.5" y1="311" x2="612.91" y2="535.08"><stop offset="0" stop-color="#086f3a"/><stop offset=".0898" stop-color="#238443"/><stop offset=".2101" stop-color="#41ab5d"/><stop offset=".3327" stop-color="#78c679"/><stop offset=".4574" stop-color="#addd8e"/><stop offset=".5846" stop-color="#d9f0a3"/><stop offset=".7144" stop-color="#f7fcb9"/><stop offset=".8468" stop-color="#ffffe5"/><stop offset="1" stop-color="#ffffe5"/></linearGradient>
<linearGradient id="p11_29" gradientUnits="userSpaceOnUse" x1="581.5" y1="311" x2="618.79" y2="534.79"><stop offset="0" stop-color="#09703a"/><stop offset=".0865" stop-color="#238443"/><stop offset=".2067" stop-color="#41ab5d"/><stop offset=".3291" stop-color="#78c679"/><stop offset=".4538" stop-color="#addd8e"/><stop offset=".5809" stop-color="#d9f0a3"/><stop offset=".7106" stop-color="#f7fcb9"/><stop offset=".8429" stop-color="#ffffe5"/><stop offset="1" stop-color="#ffffe5"/></linearGradient>
<linearGradient id="p11_30" gradientUnits="userSpaceOnUse" x1="586.5" y1="311" x2="624.66" y2="534.48"><stop offset="0" stop-color="#0a703b"/><stop offset=".0832" stop-color="#238443"/><stop offset=".2033" stop-color="#41ab5d"/><stop offset=".3256" stop-color="#78c679"/><stop offset=".4501" stop-color="#addd8e"/><stop offset=".5771" stop-color="#d9f0a3"/><stop offset=".7066" stop-color="#f7fcb9"/><stop offset=".8389" stop-color="#ffffe5"/><stop offset="1" stop-color="#ffffe5"/></linearGradient>
<linearGradient id="p11_31" gradientUnits="userSpaceOnUse" x1="591.5" y1="311" x2="630.52" y2="534.18"><stop offset="0" stop-color="#0b713b"/><stop offset=".0798" stop-color="#238443"/><stop offset=".1997" stop-color="#41ab5d"/><stop offset=".3219" stop-color="#78c679"/><stop offset=".4463" stop-color="#addd8e"/><stop offset=".5732" stop-color="#d9f0a3"/><stop offset=".7026" stop-color="#f7fcb9"/><stop offset=".8348" stop-color="#ffffe5"/><stop offset="1" stop-color="#ffffe5"/></linearGradient>
<linearGradient id="p11_32" gradientUnits="userSpaceOnUse" x1="596.5" y1="311" x2="636.37" y2="533.87"><stop offset="0" stop-color="#0c723b"/><stop offset=".0763" stop-color="#238443"/><stop offset=".1961" stop-color="#41ab5d"/><stop offset=".3181" stop-color="#78c679"/><stop offset=".4424" stop-color="#addd8e"/><stop offset=".5692" stop-color="#d9f0a3"/><stop offset=".6985" stop-color="#f7fcb9"/><stop offset=".8305" stop-color="#ffffe5"/><stop offset="1" stop-color="#ffffe5"/></linearGradient>
<linearGradient id="p11_33" gradientUnits="userSpaceOnUse" x1="601.5" y1="311" x2="642.2" y2="533.56"><stop offset="0" stop-color="#0d733c"/><stop offset=".0728" stop-color="#238443"/><stop offset=".1925" stop-color="#41ab5d"/><stop offset=".3143" stop-color="#78c679"/><stop offset=".4385" stop-color="#addd8e"/><stop offset=".5651" stop-color="#d9f0a3"/><stop offset=".6942" stop-color="#f7fcb9"/><stop offset=".8261" stop-color="#ffffe5"/><stop offset="1" stop-color="#ffffe5"/></linearGradient>
<linearGradient id="p11_34" gradientUnits="userSpaceOnUse" x1="606.5" y1="311" x2="648.02" y2="533.24"><stop offset="0" stop-color="#0e743c"/><stop offset=".0692" stop-color="#238443"/><stop offset=".1887" stop-color="#41ab5d"/><stop offset=".3104" stop-color="#78c679"/><stop offset=".4344" stop-color="#addd8e"/><stop offset=".5609" stop-color="#d9f0a3"/><stop offset=".6899" stop-color="#f7fcb9"/><stop offset=".8216" stop-color="#ffffe5"/><stop offset="1" stop-color="#ffffe5"/></linearGradient>
<linearGradient id="p11_35" gradientUnits="userSpaceOnUse" x1="611.5" y1="311" x2="653.83" y2="532.93"><stop offset="0" stop-color="#0f743c"/><stop offset=".0656" stop-color="#238443"/><stop offset=".185" stop-color="#41ab5d"/><stop offset=".3065" stop-color="#78c679"/><stop offset=".4303" stop-color="#addd8e"/><stop offset=".5566" stop-color="#d9f0a3"/><stop offset=".6854" stop-color="#f7fcb9"/><stop offset=".817" stop-color="#ffffe5"/><stop offset="1" stop-color="#ffffe5"/></linearGradient>
<linearGradient id="p11_36" gradientUnits="userSpaceOnUse" x1="616.5" y1="311" x2="659.63" y2="532.61"><stop offset="0" stop-color="#11753d"/><stop offset=".0619" stop-color="#238443"/><stop offset=".1811" stop-color="#41ab5d"/><stop offset=".3025" stop-color="#78c679"/><stop offset=".4261" stop-color="#addd8e"/><stop offset=".5522" stop-color="#d9f0a3"/><stop offset=".6809" stop-color="#f7fcb9"/><stop offset=".8123" stop-color="#ffffe5"/><stop offset="1" stop-color="#ffffe5"/></linearGradient>
<linearGradient id="p11_37" gradientUnits="userSpaceOnUse" x1="621.5" y1="311" x2="665.07" y2="532.43"><stop offset="0" stop-color="#12763d"/><stop offset=".0582" stop-color="#238443"/><stop offset=".1772" stop-color="#41ab5d"/><stop offset=".2984" stop-color="#78c679"/><stop offset=".4218" stop-color="#addd8e"/><stop offset=".5477" stop-color="#d9f0a3"/><stop offset=".6762" stop-color="#f7fcb9"/><stop offset=".8075" stop-color="#ffffe5"/><stop offset="1" stop-color="#ffffe5"/></linearGradient>
<linearGradient id="p11_38" gradientUnits="userSpaceOnUse" x1="626.5" y1="311" x2="670.82" y2="532.12"><stop offset="0" stop-color="#13773d"/><stop offset=".0544" stop-color="#238443"/><stop offset=".1732" stop-color="#41ab5d"/><stop offset=".2942" stop-color="#78c679"/><stop offset=".4175" stop-color="#addd8e"/><stop offset=".5432" stop-color="#d9f0a3"/><stop offset=".6715" stop-color="#f7fcb9"/><stop offset=".8025" stop-color="#ffffe5"/><stop offset="1" stop-color="#ffffe5"/></linearGradient>
<linearGradient id="p11_39" gradientUnits="userSpaceOnUse" x1="631.5" y1="311" x2="676.56" y2="531.8"><stop offset="0" stop-color="#14783e"/><stop offset=".0506" stop-color="#238443"/><stop offset=".1692" stop-color="#41ab5d"/><stop offset=".29" stop-color="#78c679"/><stop offset=".4131" stop-color="#addd8e"/><stop offset=".5386" stop-color="#d9f0a3"/><stop offset=".6667" stop-color="#f7fcb9"/><stop offset=".7975" stop-color="#ffffe5"/><stop offset="1" stop-color="#ffffe5"/></linearGradient>
<linearGradient id="p11_40" gradientUnits="userSpaceOnUse" x1="636.5" y1="311" x2="682.29" y2="531.49"><stop offset="0" stop-color="#15793e"/><stop offset=".0467" stop-color="#238443"/><stop offset=".1651" stop-color="#41ab5d"/><stop offset=".2857" stop-color="#78c679"/><stop offset=".4086" stop-color="#addd8e"/><stop offset=".5339" stop-color="#d9f0a3"/><stop offset=".6617" stop-color="#f7fcb9"/><stop offset=".7924" stop-color="#ffffe5"/><stop offset="1" stop-color="#ffffe5"/></linearGradient>
<linearGradient id="p11_41" gradientUnits="userSpaceOnUse" x1="641.5" y1="311" x2="688.01" y2="531.17"><stop offset="0" stop-color="#167a3f"/><stop offset=".0428" stop-color="#238443"/><stop offset=".161" stop-color="#41ab5d"/><stop offset=".2813" stop-color="#78c679"/><stop offset=".404" stop-color="#addd8e"/><stop offset=".5291" stop-color="#d9f0a3"/><stop offset=".6567" stop-color="#f7fcb9"/><stop offset=".7871" stop-color="#ffffe5"/><stop offset="1" stop-color="#ffffe5"/></linearGradient>
<linearGradient id="p11_42" gradientUnits="userSpaceOnUse" x1="646.5" y1="311" x2="693.72" y2="530.86"><stop offset="0" stop-color="#177b3f"/><stop offset=".0389" stop-color="#238443"/><stop offset=".1568" stop-color="#41ab5d"/><stop offset=".2769" stop-color="#78c679"/><stop offset=".3993" stop-color="#addd8e"/><stop offset=".5242" stop-color="#d9f0a3"/><stop offset=".6516" stop-color="#f7fcb9"/><stop offset=".7818" stop-color="#ffffe5"/><stop offset="1" stop-color="#ffffe5"/></linearGradient>
<linearGradient id="p11_43" gradientUnits="userSpaceOnUse" x1="651.5" y1="311" x2="699.41" y2="530.54"><stop offset="0" stop-color="#197c3f"/><stop offset=".0348" stop-color="#238443"/><stop offset=".1526" stop-color="#41ab5d"/><stop offset=".2725" stop-color="#78c679"/><stop offset=".3946" stop-color="#addd8e"/><stop offset=".5193" stop-color="#d9f0a3"/><stop offset=".6464" stop-color="#f7fcb9"/><stop offset=".7764" stop-color="#ffffe5"/><stop offset="1" stop-color="#ffffe5"/></linearGradient>
<linearGradient id="p11_44" gradientUnits="userSpaceOnUse" x1="656.5" y1="311" x2="705.09" y2="530.23"><stop offset="0" stop-color="#1a7d40"/><stop offset=".0308" stop-color="#238443"/><stop offset=".1483" stop-color="#41ab5d"/><stop offset=".2679" stop-color="#78c679"/><stop offset=".3899" stop-color="#addd8e"/><stop offset=".5142" stop-color="#d9f0a3"/><stop offset=".6412" stop-color="#f7fcb9"/><stop offset=".7708" stop-color="#ffffe5"/><stop offset="1" stop-color="#ffffe5"/></linearGradient>
<linearGradient id="p11_45" gradientUnits="userSpaceOnUse" x1="661.5" y1="311" x2="710.76" y2="529.91"><stop offset="0" stop-color="#1b7e40"/><stop offset=".0267" stop-color="#238443"/><stop offset=".144" stop-color="#41ab5d"/><stop offset=".2634" stop-color="#78c679"/><stop offset=".385" stop-color="#addd8e"/><stop offset=".5092" stop-color="#d9f0a3"/><stop offset=".6358" stop-color="#f7fcb9"/><stop offset=".7652" stop-color="#ffffe5"/><stop offset="1" stop-color="#ffffe5"/></linearGradient>
<linearGradient id="p11_46" gradientUnits="userSpaceOnUse" x1="666.5" y1="311" x2="715.93" y2="529.84"><stop offset="0" stop-color="#1c7f41"/><stop offset=".0226" stop-color="#238443"/><stop offset=".1396" stop-color="#41ab5d"/><stop offset=".2587" stop-color="#78c679"/><stop offset=".3802" stop-color="#addd8e"/><stop offset=".504" stop-color="#d9f0a3"/><stop offset=".6304" stop-color="#f7fcb9"/><stop offset=".7595" stop-color="#ffffe5"/><stop offset="1" stop-color="#ffffe5"/></linearGradient>
<linearGradient id="p11_47" gradientUnits="userSpaceOnUse" x1="671.5" y1="311" x2="721.56" y2="529.53"><stop offset="0" stop-color="#1d8041"/><stop offset=".0184" stop-color="#238443"/><stop offset=".1352" stop-color="#41ab5d"/><stop offset=".2541" stop-color="#78c679"/><stop offset=".3752" stop-color="#addd8e"/><stop offset=".4988" stop-color="#d9f0a3"/><stop offset=".6249" stop-color="#f7fcb9"/><stop offset=".7537" stop-color="#ffffe5"/><stop offset="1" stop-color="#ffffe5"/></linearGradient>
<linearGradient id="p11_48" gradientUnits="userSpaceOnUse" x1="676.5" y1="311" x2="727.17" y2="529.23"><stop offset="0" stop-color="#1f8142"/><stop offset=".0143" stop-color="#238443"/><stop offset=".1307" stop-color="#41ab5d"/><stop offset=".2493" stop-color="#78c679"/><stop offset=".3702" stop-color="#addd8e"/><stop offset=".4935" stop-color="#d9f0a3"/><stop offset=".6193" stop-color="#f7fcb9"/><stop offset=".7479" stop-color="#ffffe5"/><stop offset="1" stop-color="#ffffe5"/></linearGradient>
<linearGradient id="p11_49" gradientUnits="userSpaceOnUse" x1="680" y1="311" x2="731.1" y2="529.02"><stop offset="0" stop-color="#208142"/><stop offset=".0113" stop-color="#238443"/><stop offset=".1276" stop-color="#41ab5d"/><stop offset=".246" stop-color="#78c679"/><stop offset=".3667" stop-color="#addd8e"/><stop offset=".4897" stop-color="#d9f0a3"/><stop offset=".6154" stop-color="#f7fcb9"/><stop offset=".7437" stop-color="#ffffe5"/><stop offset="1" stop-color="#ffffe5"/></linearGradient>
<linearGradient id="p20_0" gradientUnits="userSpaceOnUse" x1="35.5" y1="610" x2="124.84" y2="797.41"><stop offset="0" stop-color="#006134"/><stop offset=".044" stop-color="#006837"/><stop offset=".2559" stop-color="#238443"/><stop offset=".4753" stop-color="#41ab5d"/><stop offset=".7032" stop-color="#78c679"/><stop offset=".9407" stop-color="#addd8e"/><stop offset="1" stop-color="#b8e293"/></linearGradient>
<linearGradient id="p20_1" gradientUnits="userSpaceOnUse" x1="40.5" y1="610" x2="130.36" y2="796.76"><stop offset="0" stop-color="#006235"/><stop offset=".0345" stop-color="#006837"/><stop offset=".2459" stop-color="#238443"/><stop offset=".4649" stop-color="#41ab5d"/><stop offset=".6924" stop-color="#78c679"/><stop offset=".9293" stop-color="#addd8e"/><stop offset="1" stop-color="#bae394"/></linearGradient>
<linearGradient id="p20_2" gradientUnits="userSpaceOnUse" x1="45.5" y1="610" x2="135.87" y2="796.12"><stop offset="0" stop-color="#006435"/><stop offset=".0249" stop-color="#006837"/><stop offset=".2359" stop-color="#238443"/><stop offset=".4545" stop-color="#41ab5d"/><stop offset=".6815" stop-color="#78c679"/><stop offset=".9179" stop-color="#addd8e"/><stop offset="1" stop-color="#bce395"/></linearGradient>
<linearGradient id="p20_3" gradientUnits="userSpaceOnUse" x1="50.5" y1="610" x2="141.37" y2="795.49"><stop offset="0" stop-color="#006536"/><stop offset=".0152" stop-color="#006837"/><stop offset=".2258" stop-color="#238443"/><stop offset=".444" stop-color="#41ab5d"/><stop offset=".6704" stop-color="#78c679"/><stop offset=".9063" stop-color="#addd8e"/><stop offset="1" stop-color="#bee496"/></linearGradient>
<linearGradient id="p20_4" gradientUnits="userSpaceOnUse" x1="55.5" y1="610" x2="146.85" y2="794.85"><stop offset="0" stop-color="#006737"/><stop offset=".0054" stop-color="#006837"/><stop offset=".2157" stop-color="#238443"/><stop offset=".4334" stop-color="#41ab5d"/><stop offset=".6594" stop-color="#78c679"/><stop offset=".8947" stop-color="#addd8e"/><stop offset="1" stop-color="#c0e597"/></linearGradient>
<linearGradient id="p20_5" gradientUnits="userSpaceOnUse" x1="60.5" y1="610" x2="152.33" y2="794.22"><stop offset="0" stop-color="#016937"/><stop offset=".2054" stop-color="#238443"/><stop offset=".4227" stop-color="#41ab5d"/><stop offset=".6482" stop-color="#78c679"/><stop offset=".8831" stop-color="#addd8e"/><stop offset="1" stop-color="#c2e698"/></linearGradient>
<linearGradient id="p20_6" gradientUnits="userSpaceOnUse" x1="65.5" y1="610" x2="157.8" y2="793.6"><stop offset="0" stop-color="#026a38"/><stop offset=".1951" stop-color="#238443"/><stop offset=".4119" stop-color="#41ab5d"/><stop offset=".637" stop-color="#78c679"/><stop offset=".8713" stop-color="#addd8e"/><stop offset="1" stop-color="#c4e799"/></linearGradient>
<linearGradient id="p20_7" gradientUnits="userSpaceOnUse" x1="70.5" y1="610" x2="163.26" y2="792.97"><stop offset="0" stop-color="#046b38"/><stop offset=".1847" stop-color="#238443"/><stop offset=".4011" stop-color="#41ab5d"/><stop offset=".6257" stop-color="#78c679"/><stop offset=".8595" stop-color="#addd8e"/><stop offset="1" stop-color="#c7e89a"/></linearGradient>
<linearGradient id="p20_8" gradientUnits="userSpaceOnUse" x1="75.5" y1="610" x2="168.71" y2="792.35"><stop offset="0" stop-color="#066d39"/><stop offset=".1743" stop-color="#238443"/><stop offset=".3903" stop-color="#41ab5d"/><stop offset=".6144" stop-color="#78c679"/><stop offset=".8477" stop-color="#addd8e"/><stop offset="1" stop-color="#c9e99b"/></linearGradient>
<linearGradient id="p20_9" gradientUnits="userSpaceOnUse" x1="80.5" y1="610" x2="174.15" y2="791.74"><stop offset="0" stop-color="#086e3a"/><stop offset=".1638" stop-color="#238443"/><stop offset=".3793" stop-color="#41ab5d"/><stop offset=".603" stop-color="#78c679"/><stop offset=".8357" stop-color="#addd8e"/><stop offset="1" stop-color="#cbea9c"/></linearGradient>
<linearGradient id="p20_10" gradientUnits="userSpaceOnUse" x1="85.5" y1="610" x2="179.58" y2="791.13"><stop offset="0" stop-color="#096f3a"/><stop offset=".1532" stop-color="#238443"/><stop offset=".3683" stop-color="#41ab5d"/><stop offset=".5915" stop-color="#78c679"/><stop offset=".8237" stop-color="#addd8e"/><stop offset="1" stop-color="#cdeb9d"/></linearGradient>
<linearGradient id="p20_11" gradientUnits="userSpaceOnUse" x1="90.5" y1="610" x2="185.01" y2="790.52"><stop offset="0" stop-color="#0b713b"/><stop offset=".1425" stop-color="#238443"/><stop offset=".3572" stop-color="#41ab5d"/><stop offset=".5799" stop-color="#78c679"/><stop offset=".8117" stop-color="#addd8e"/><stop offset="1" stop-color="#cfec9e"/></linearGradient>
<linearGradient id="p20_12" gradientUnits="userSpaceOnUse" x1="95.5" y1="610" x2="190.42" y2="789.92"><stop offset="0" stop-color="#0d723b"/><stop offset=".1318" stop-color="#238443"/><stop offset=".3461" stop-color="#41ab5d"/><stop offset=".5683" stop-color="#78c679"/><stop offset=".7996" stop-color="#addd8e"/><stop offset="1" stop-color="#d2eda0"/></linearGradient>
<linearGradient id="p20_13" gradientUnits="userSpaceOnUse" x1="100.5" y1="610" x2="195.83" y2="789.32"><stop offset="0" stop-color="#0f743c"/><stop offset=".121" stop-color="#238443"/><stop offset=".3348" stop-color="#41ab5d"/><stop offset=".5566" stop-color="#78c679"/><stop offset=".7874" stop-color="#addd8e"/><stop offset="1" stop-color="#d4eea1"/></linearGradient>
<linearGradient id="p20_14" gradientUnits="userSpaceOnUse" x1="105.5" y1="610" x2="201.23" y2="788.73"><stop offset="0" stop-color="#10753d"/><stop offset=".1102" stop-color="#238443"/><stop offset=".3236" stop-color="#41ab5d"/><stop offset=".5449" stop-color="#78c679"/><stop offset=".7751" stop-color="#addd8e"/><stop offset="1" stop-color="#d6efa2"/></linearGradient>
<linearGradient id="p20_15" gradientUnits="userSpaceOnUse" x1="110.5" y1="610" x2="206.62" y2="788.14"><stop offset="0" stop-color="#12773d"/><stop offset=".0993" stop-color="#238443"/><stop offset=".3122" stop-color="#41ab5d"/><stop offset=".5331" stop-color="#78c679"/><stop offset=".7628" stop-color="#addd8e"/><stop offset="1" stop-color="#d9f0a3"/></linearGradient>
<linearGradient id="p20_16" gradientUnits="userSpaceOnUse" x1="115.5" y1="610" x2="212" y2="787.55"><stop offset="0" stop-color="#14783e"/><stop offset=".0883" stop-color="#238443"/><stop offset=".3008" stop-color="#41ab5d"/><stop offset=".5212" stop-color="#78c679"/><stop offset=".7505" stop-color="#addd8e"/><stop offset=".9896" stop-color="#d9f0a3"/><stop offset="1" stop-color="#daf1a4"/></linearGradient>
<linearGradient id="p20_17" gradientUnits="userSpaceOnUse" x1="120.5" y1="610" x2="217.38" y2="786.97"><stop offset="0" stop-color="#167a3f"/><stop offset=".0772" stop-color="#238443"/><stop offset=".2894" stop-color="#41ab5d"/><stop offset=".5093" stop-color="#78c679"/><stop offset=".738" stop-color="#addd8e"/><stop offset=".9767" stop-color="#d9f0a3"/><stop offset="1" stop-color="#dcf1a5"/></linearGradient>
<linearGradient id="p20_18" gradientUnits="userSpaceOnUse" x1="125.5" y1="610" x2="222.74" y2="786.39"><stop offset="0" stop-color="#187b3f"/><stop offset=".0661" stop-color="#238443"/><stop offset=".2778" stop-color="#41ab5d"/><stop offset=".4973" stop-color="#78c679"/><stop offset=".7256" stop-color="#addd8e"/><stop offset=".9636" stop-color="#d9f0a3"/><stop offset="1" stop-color="#ddf2a6"/></linearGradient>
<linearGradient id="p20_19" gradientUnits="userSpaceOnUse" x1="130.5" y1="610" x2="228.1" y2="785.82"><stop offset="0" stop-color="#1a7d40"/><stop offset=".055" stop-color="#238443"/><stop offset=".2663" stop-color="#41ab5d"/><stop offset=".4853" stop-color="#78c679"/><stop offset=".713" stop-color="#addd8e"/><stop offset=".9505" stop-color="#d9f0a3"/><stop offset="1" stop-color="#dff2a7"/></linearGradient>
<linearGradient id="p20_20" gradientUnits="userSpaceOnUse" x1="135.5" y1="610" x2="233.46" y2="785.25"><stop offset="0" stop-color="#1c7e40"/><stop offset=".0437" stop-color="#238443"/><stop offset=".2546" stop-color="#41ab5d"/><stop offset=".4732" stop-color="#78c679"/><stop offset=".7004" stop-color="#addd8e"/><stop offset=".9374" stop-color="#d9f0a3"/><stop offset="1" stop-color="#e1f3a9"/></linearGradient>
<linearGradient id="p20_21" gradientUnits="userSpaceOnUse" x1="140.5" y1="610" x2="238.8" y2="784.68"><stop offset="0" stop-color="#1d8041"/><stop offset=".0324" stop-color="#238443"/><stop offset=".2429" stop-color="#41ab5d"/><stop offset=".4611" stop-color="#78c679"/><stop offset=".6878" stop-color="#addd8e"/><stop offset=".9242" stop-color="#d9f0a3"/><stop offset="1" stop-color="#e2f4aa"/></linearGradient>
<linearGradient id="p20_22" gradientUnits="userSpaceOnUse" x1="145.5" y1="610" x2="244.14" y2="784.12"><stop offset="0" stop-color="#1f8142"/><stop offset=".0211" stop-color="#238443"/><stop offset=".2312" stop-color="#41ab5d"/><stop offset=".4489" stop-color="#78c679"/><stop offset=".6751" stop-color="#addd8e"/><stop offset=".911" stop-color="#d9f0a3"/><stop offset="1" stop-color="#e4f4ab"/></linearGradient>
<linearGradient id="p20_23" gradientUnits="userSpaceOnUse" x1="150.5" y1="610" x2="249.47" y2="783.56"><stop offset="0" stop-color="#218342"/><stop offset=".0097" stop-color="#238443"/><stop offset=".2193" stop-color="#41ab5d"/><stop offset=".4366" stop-color="#78c679"/><stop offset=".6623" stop-color="#addd8e"/><stop offset=".8977" stop-color="#d9f0a3"/><stop offset="1" stop-color="#e6f5ac"/></linearGradient>
<linearGradient id="p20_24" gradientUnits="userSpaceOnUse" x1="155.5" y1="610" x2="254.8" y2="783.01"><stop offset="0" stop-color="#238443"/><stop offset=".2075" stop-color="#41ab5d"/><stop offset=".4243" stop-color="#78c679"/><stop offset=".6495" stop-color="#addd8e"/><stop offset=".8843" stop-color="#d9f0a3"/><stop offset="1" stop-color="#e7f6ad"/></linearGradient>
<linearGradient id="p20_25" gradientUnits="userSpaceOnUse" x1="160.5" y1="610" x2="260.11" y2="782.46"><stop offset="0" stop-color="#258745"/><stop offset=".1955" stop-color="#41ab5d"/><stop offset=".4119" stop-color="#78c679"/><stop offset=".6367" stop-color="#addd8e"/><stop offset=".8709" stop-color="#d9f0a3"/><stop offset="1" stop-color="#e9f6af"/></linearGradient>
<linearGradient id="p20_26" gradientUnits="userSpaceOnUse" x1="165.5" y1="610" x2="265.42" y2="781.92"><stop offset="0" stop-color="#278946"/><stop offset=".1836" stop-color="#41ab5d"/><stop offset=".3995" stop-color="#78c679"/><stop offset=".6238" stop-color="#addd8e"/><stop offset=".8575" stop-color="#d9f0a3"/><stop offset="1" stop-color="#ebf7b0"/></linearGradient>
<linearGradient id="p20_27" gradientUnits="userSpaceOnUse" x1="170.5" y1="610" x2="270.73" y2="781.38"><stop offset="0" stop-color="#288b48"/><stop offset=".1715" stop-color="#41ab5d"/><stop offset=".387" stop-color="#78c679"/><stop offset=".6108" stop-color="#addd8e"/><stop offset=".844" stop-color="#d9f0a3"/><stop offset="1" stop-color="#ecf8b1"/></linearGradient>
<linearGradient id="p20_28" gradientUnits="userSpaceOnUse" x1="175.5" y1="610" x2="276.03" y2="780.85"><stop offset="0" stop-color="#2a8d49"/><stop offset=".1594" stop-color="#41ab5d"/><stop offset=".3745" stop-color="#78c679"/><stop offset=".5978" stop-color="#addd8e"/><stop offset=".8305" stop-color="#d9f0a3"/><stop offset="1" stop-color="#eef8b2"/></linearGradient>
<linearGradient id="p20_29" gradientUnits="userSpaceOnUse" x1="180.5" y1="610" x2="281.32" y2="780.32"><stop offset="0" stop-color="#2c8f4b"/><stop offset=".1473" stop-color="#41ab5d"/><stop offset=".3619" stop-color="#78c679"/><stop offset=".5847" stop-color="#addd8e"/><stop offset=".8169" stop-color="#d9f0a3"/><stop offset="1" stop-color="#f0f9b4"/></linearGradient>
<linearGradient id="p20_30" gradientUnits="userSpaceOnUse" x1="185.5" y1="610" x2="286.61" y2="779.79"><stop offset="0" stop-color="#2e924c"/><stop offset=".1351" stop-color="#41ab5d"/><stop offset=".3493" stop-color="#78c679"/><stop offset=".5716" stop-color="#addd8e"/><stop offset=".8032" stop-color="#d9f0a3"/><stop offset="1" stop-color="#f1fab5"/></linearGradient>
<linearGradient id="p20_31" gradientUnits="userSpaceOnUse" x1="190.5" y1="610" x2="291.89" y2="779.27"><stop offset="0" stop-color="#2f944e"/><stop offset=".1228" stop-color="#41ab5d"/><stop offset=".3366" stop-color="#78c679"/><stop offset=".5585" stop-color="#addd8e"/><stop offset=".7896" stop-color="#d9f0a3"/><stop offset="1" stop-color="#f3fab6"/></linearGradient>
<linearGradient id="p20_32" gradientUnits="userSpaceOnUse" x1="195.5" y1="610" x2="297.16" y2="778.75"><stop offset="0" stop-color="#31964f"/><stop offset=".1105" stop-color="#41ab5d"/><stop offset=".3238" stop-color="#78c679"/><stop offset=".5453" stop-color="#addd8e"/><stop offset=".7758" stop-color="#d9f0a3"/><stop offset="1" stop-color="#f5fbb8"/></linearGradient>
<linearGradient id="p20_33" gradientUnits="userSpaceOnUse" x1="200.5" y1="610" x2="302.43" y2="778.24"><stop offset="0" stop-color="#339951"/><stop offset=".0982" stop-color="#41ab5d"/><stop offset=".3111" stop-color="#78c679"/><stop offset=".532" stop-color="#addd8e"/><stop offset=".7621" stop-color="#d9f0a3"/><stop offset="1" stop-color="#f7fcb9"/></linearGradient>
<linearGradient id="p20_34" gradientUnits="userSpaceOnUse" x1="205.5" y1="610" x2="307.7" y2="777.73"><stop offset="0" stop-color="#359b52"/><stop offset=".0858" stop-color="#41ab5d"/><stop offset=".2982" stop-color="#78c679"/><stop offset=".5187" stop-color="#addd8e"/><stop offset=".7483" stop-color="#d9f0a3"/><stop offset=".988" stop-color="#f7fcb9"/><stop offset="1" stop-color="#f7fcbb"/></linearGradient>
<linearGradient id="p20_35" gradientUnits="userSpaceOnUse" x1="210.5" y1="610" x2="312.95" y2="777.23"><stop offset="0" stop-color="#369d54"/><stop offset=".0734" stop-color="#41ab5d"/><stop offset=".2854" stop-color="#78c679"/><stop offset=".5054" stop-color="#addd8e"/><stop offset=".7344" stop-color="#d9f0a3"/><stop offset=".9736" stop-color="#f7fcb9"/><stop offset="1" stop-color="#f8fcbe"/></linearGradient>
<linearGradient id="p20_36" gradientUnits="userSpaceOnUse" x1="215.5" y1="610" x2="318.21" y2="776.73"><stop offset="0" stop-color="#38a055"/><stop offset=".0609" stop-color="#41ab5d"/><stop offset=".2725" stop-color="#78c679"/><stop offset=".492" stop-color="#addd8e"/><stop offset=".7205" stop-color="#d9f0a3"/><stop offset=".9592" stop-color="#f7fcb9"/><stop offset="1" stop-color="#f8fcc0"/></linearGradient>
<linearGradient id="p20_37" gradientUnits="userSpaceOnUse" x1="220.5" y1="610" x2="323.46" y2="776.24"><stop offset="0" stop-color="#3aa257"/><stop offset=".0483" stop-color="#41ab5d"/><stop offset=".2595" stop-color="#78c679"/><stop offset=".4786" stop-color="#addd8e"/><stop offset=".7066" stop-color="#d9f0a3"/><stop offset=".9447" stop-color="#f7fcb9"/><stop offset="1" stop-color="#f9fdc3"/></linearGradient>
<linearGradient id="p20_38" gradientUnits="userSpaceOnUse" x1="225.5" y1="610" x2="328.7" y2="775.75"><stop offset="0" stop-color="#3ca458"/><stop offset=".0357" stop-color="#41ab5d"/><stop offset=".2465" stop-color="#78c679"/><stop offset=".4651" stop-color="#addd8e"/><stop offset=".6926" stop-color="#d9f0a3"/><stop offset=".9301" stop-color="#f7fcb9"/><stop offset="1" stop-color="#f9fdc6"/></linearGradient>
<linearGradient id="p20_39" gradientUnits="userSpaceOnUse" x1="230.5" y1="610" x2="333.94" y2="775.26"><stop offset="0" stop-color="#3ea75a"/><stop offset=".0231" stop-color="#41ab5d"/><stop offset=".2334" stop-color="#78c679"/><stop offset=".4516" stop-color="#addd8e"/><stop offset=".6786" stop-color="#d9f0a3"/><stop offset=".9155" stop-color="#f7fcb9"/><stop offset="1" stop-color="#fafdc8"/></linearGradient>
<linearGradient id="p20_40" gradientUnits="userSpaceOnUse" x1="235.5" y1="610" x2="339.17" y2="774.78"><stop offset="0" stop-color="#3fa95c"/><stop offset=".0104" stop-color="#41ab5d"/><stop offset=".2203" stop-color="#78c679"/><stop offset=".4381" stop-color="#addd8e"/><stop offset=".6646" stop-color="#d9f0a3"/><stop offset=".9009" stop-color="#f7fcb9"/><stop offset="1" stop-color="#fafdcb"/></linearGradient>
<linearGradient id="p20_41" gradientUnits="userSpaceOnUse" x1="240.5" y1="610" x2="344.4" y2="774.3"><stop offset="0" stop-color="#42ab5d"/><stop offset=".2072" stop-color="#78c679"/><stop offset=".4245" stop-color="#addd8e"/><stop offset=".6505" stop-color="#d9f0a3"/><stop offset=".8863" stop-color="#f7fcb9"/><stop offset="1" stop-color="#fbfdce"/></linearGradient>
<linearGradient id="p20_42" gradientUnits="userSpaceOnUse" x1="245.5" y1="610" x2="349.62" y2="773.83"><stop offset="0" stop-color="#45ad5f"/><stop offset=".194" stop-color="#78c679"/><stop offset=".4108" stop-color="#addd8e"/><stop offset=".6363" stop-color="#d9f0a3"/><stop offset=".8716" stop-color="#f7fcb9"/><stop offset="1" stop-color="#fbfed0"/></linearGradient>
<linearGradient id="p20_43" gradientUnits="userSpaceOnUse" x1="250.5" y1="610" x2="354.84" y2="773.36"><stop offset="0" stop-color="#48af61"/><stop offset=".1808" stop-color="#78c679"/><stop offset=".3972" stop-color="#addd8e"/><stop offset=".6222" stop-color="#d9f0a3"/><stop offset=".8569" stop-color="#f7fcb9"/><stop offset="1" stop-color="#fcfed3"/></linearGradient>
<linearGradient id="p20_44" gradientUnits="userSpaceOnUse" x1="255.5" y1="610" x2="360.05" y2="772.9"><stop offset="0" stop-color="#4cb063"/><stop offset=".1675" stop-color="#78c679"/><stop offset=".3835" stop-color="#addd8e"/><stop offset=".608" stop-color="#d9f0a3"/><stop offset=".8422" stop-color="#f7fcb9"/><stop offset="1" stop-color="#fcfed6"/></linearGradient>
<linearGradient id="p20_45" gradientUnits="userSpaceOnUse" x1="260.5" y1="610" x2="365.26" y2="772.44"><stop offset="0" stop-color="#4fb264"/><stop offset=".1542" stop-color="#78c679"/><stop offset=".3697" stop-color="#addd8e"/><stop offset=".5937" stop-color="#d9f0a3"/><stop offset=".8274" stop-color="#f7fcb9"/><stop offset="1" stop-color="#fdfed8"/></linearGradient>
<linearGradient id="p20_46" gradientUnits="userSpaceOnUse" x1="265.5" y1="610" x2="370.47" y2="771.98"><stop offset="0" stop-color="#53b466"/><stop offset=".1409" stop-color="#78c679"/><stop offset=".3559" stop-color="#addd8e"/><stop offset=".5794" stop-color="#d9f0a3"/><stop offset=".8126" stop-color="#f7fcb9"/><stop offset="1" stop-color="#fdfedb"/></linearGradient>
<linearGradient id="p20_47" gradientUnits="userSpaceOnUse" x1="270.5" y1="610" x2="375.67" y2="771.53"><stop offset="0" stop-color="#56b568"/><stop offset=".1275" stop-color="#78c679"/><stop offset=".3421" stop-color="#addd8e"/><stop offset=".5651" stop-color="#d9f0a3"/><stop offset=".7977" stop-color="#f7fcb9"/><stop offset="1" stop-color="#feffde"/></linearGradient>
<linearGradient id="p20_48" gradientUnits="userSpaceOnUse" x1="275.5" y1="610" x2="380.86" y2="771.08"><stop offset="0" stop-color="#5ab76a"/><stop offset=".1141" stop-color="#78c679"/><stop offset=".3282" stop-color="#addd8e"/><stop offset=".5508" stop-color="#d9f0a3"/><stop offset=".7828" stop-color="#f7fcb9"/><stop offset="1" stop-color="#feffe0"/></linearGradient>
<linearGradient id="p20_49" gradientUnits="userSpaceOnUse" x1="279" y1="610" x2="384.5" y2="770.77"><stop offset="0" stop-color="#5cb86b"/><stop offset=".1047" stop-color="#78c679"/><stop offset=".3185" stop-color="#addd8e"/><stop offset=".5407" stop-color="#d9f0a3"/><stop offset=".7724" stop-color="#f7fcb9"/><stop offset="1" stop-color="#ffffe2"/></linearGradient>
<linearGradient id="p21_0" gradientUnits="userSpaceOnUse" x1="436.5" y1="610" x2="428.65" y2="839.73"><stop offset="0" stop-color="#0e733c"/><stop offset=".0708" stop-color="#238443"/><stop offset=".1905" stop-color="#41ab5d"/><stop offset=".3125" stop-color="#78c679"/><stop offset=".4369" stop-color="#addd8e"/><stop offset=".5637" stop-color="#d9f0a3"/><stop offset=".6933" stop-color="#f7fcb9"/><stop offset=".8257" stop-color="#ffffe5"/><stop offset="1" stop-color="#ffffe5"/></linearGradient>
<linearGradient id="p21_1" gradientUnits="userSpaceOnUse" x1="441.5" y1="610" x2="434.2" y2="839.77"><stop offset="0" stop-color="#0e733c"/><stop offset=".0712" stop-color="#238443"/><stop offset=".1911" stop-color="#41ab5d"/><stop offset=".3132" stop-color="#78c679"/><stop offset=".4376" stop-color="#addd8e"/><stop offset=".5646" stop-color="#d9f0a3"/><stop offset=".6942" stop-color="#f7fcb9"/><stop offset=".8266" stop-color="#ffffe5"/><stop offset="1" stop-color="#ffffe5"/></linearGradient>
<linearGradient id="p21_2" gradientUnits="userSpaceOnUse" x1="446.5" y1="610" x2="439.74" y2="839.8"><stop offset="0" stop-color="#0e733c"/><stop offset=".0717" stop-color="#238443"/><stop offset=".1916" stop-color="#41ab5d"/><stop offset=".3138" stop-color="#78c679"/><stop offset=".4384" stop-color="#addd8e"/><stop offset=".5654" stop-color="#d9f0a3"/><stop offset=".695" stop-color="#f7fcb9"/><stop offset=".8274" stop-color="#ffffe5"/><stop offset="1" stop-color="#ffffe5"/></linearGradient>
<linearGradient id="p21_3" gradientUnits="userSpaceOnUse" x1="451.5" y1="610" x2="445.29" y2="839.83"><stop offset="0" stop-color="#0e733c"/><stop offset=".072" stop-color="#238443"/><stop offset=".1921" stop-color="#41ab5d"/><stop offset=".3144" stop-color="#78c679"/><stop offset=".439" stop-color="#addd8e"/><stop offset=".5661" stop-color="#d9f0a3"/><stop offset=".6958" stop-color="#f7fcb9"/><stop offset=".8282" stop-color="#ffffe5"/><stop offset="1" stop-color="#ffffe5"/></linearGradient>
<linearGradient id="p21_4" gradientUnits="userSpaceOnUse" x1="456.5" y1="610" x2="450.85" y2="839.86"><stop offset="0" stop-color="#0e733c"/><stop offset=".0724" stop-color="#238443"/><stop offset=".1926" stop-color="#41ab5d"/><stop offset=".315" stop-color="#78c679"/><stop offset=".4397" stop-color="#addd8e"/><stop offset=".5668" stop-color="#d9f0a3"/><stop offset=".6964" stop-color="#f7fcb9"/><stop offset=".8289" stop-color="#ffffe5"/><stop offset="1" stop-color="#ffffe5"/></linearGradient>
<linearGradient id="p21_5" gradientUnits="userSpaceOnUse" x1="461.5" y1="610" x2="456.41" y2="839.89"><stop offset="0" stop-color="#0e733c"/><stop offset=".0727" stop-color="#238443"/><stop offset=".193" stop-color="#41ab5d"/><stop offset=".3155" stop-color="#78c679"/><stop offset=".4402" stop-color="#addd8e"/><stop offset=".5674" stop-color="#d9f0a3"/><stop offset=".6971" stop-color="#f7fcb9"/><stop offset=".8295" stop-color="#ffffe5"/><stop offset="1" stop-color="#ffffe5"/></linearGradient>
<linearGradient id="p21_6" gradientUnits="userSpaceOnUse" x1="466.5" y1="610" x2="461.97" y2="839.91"><stop offset="0" stop-color="#0d733c"/><stop offset=".073" stop-color="#238443"/><stop offset=".1934" stop-color="#41ab5d"/><stop offset=".3159" stop-color="#78c679"/><stop offset=".4407" stop-color="#addd8e"/><stop offset=".5679" stop-color="#d9f0a3"/><stop offset=".6976" stop-color="#f7fcb9"/><stop offset=".83" stop-color="#ffffe5"/><stop offset="1" stop-color="#ffffe5"/></linearGradient>
<linearGradient id="p21_7" gradientUnits="userSpaceOnUse" x1="471.5" y1="610" x2="467.54" y2="839.93"><stop offset="0" stop-color="#0d733c"/><stop offset=".0732" stop-color="#238443"/><stop offset=".1937" stop-color="#41ab5d"/><stop offset=".3164" stop-color="#78c679"/><stop offset=".4412" stop-color="#addd8e"/><stop offset=".5684" stop-color="#d9f0a3"/><stop offset=".6981" stop-color="#f7fcb9"/><stop offset=".8304" stop-color="#ffffe5"/><stop offset="1" stop-color="#ffffe5"/></linearGradient>
<linearGradient id="p21_8" gradientUnits="userSpaceOnUse" x1="476.5" y1="610" x2="473.11" y2="839.95"><stop offset="0" stop-color="#0d733c"/><stop offset=".0735" stop-color="#238443"/><stop offset=".194" stop-color="#41ab5d"/><stop offset=".3167" stop-color="#78c679"/><stop offset=".4416" stop-color="#addd8e"/><stop offset=".5688" stop-color="#d9f0a3"/><stop offset=".6985" stop-color="#f7fcb9"/><stop offset=".8308" stop-color="#ffffe5"/><stop offset="1" stop-color="#ffffe5"/></linearGradient>
<linearGradient id="p21_9" gradientUnits="userSpaceOnUse" x1="481.5" y1="610" x2="478.69" y2="839.97"><stop offset="0" stop-color="#0d733c"/><stop offset=".0736" stop-color="#238443"/><stop offset=".1943" stop-color="#41ab5d"/><stop offset=".317" stop-color="#78c679"/><stop offset=".442" stop-color="#addd8e"/><stop offset=".5692" stop-color="#d9f0a3"/><stop offset=".6988" stop-color="#f7fcb9"/><stop offset=".8311" stop-color="#ffffe5"/><stop offset="1" stop-color="#ffffe5"/></linearGradient>
<linearGradient id="p21_10" gradientUnits="userSpaceOnUse" x1="486.5" y1="610" x2="484.27" y2="839.98"><stop offset="0" stop-color="#0d733c"/><stop offset=".0738" stop-color="#238443"/><stop offset=".1945" stop-color="#41ab5d"/><stop offset=".3173" stop-color="#78c679"/><stop offset=".4422" stop-color="#addd8e"/><stop offset=".5695" stop-color="#d9f0a3"/><stop offset=".6991" stop-color="#f7fcb9"/><stop offset=".8313" stop-color="#ffffe5"/><stop offset="1" stop-color="#ffffe5"/></linearGradient>
<linearGradient id="p21_11" gradientUnits="userSpaceOnUse" x1="491.5" y1="610" x2="489.86" y2="839.99"><stop offset="0" stop-color="#0d733c"/><stop offset=".0739" stop-color="#238443"/><stop offset=".1947" stop-color="#41ab5d"/><stop offset=".3175" stop-color="#78c679"/><stop offset=".4425" stop-color="#addd8e"/><stop offset=".5697" stop-color="#d9f0a3"/><stop offset=".6993" stop-color="#f7fcb9"/><stop offset=".8314" stop-color="#ffffe5"/><stop offset="1" stop-color="#ffffe5"/></linearGradient>
<linearGradient id="p21_12" gradientUnits="userSpaceOnUse" x1="496.5" y1="610" x2="495.44" y2="840"><stop offset="0" stop-color="#0d733c"/><stop offset=".0739" stop-color="#238443"/><stop offset=".1948" stop-color="#41ab5d"/><stop offset=".3177" stop-color="#78c679"/><stop offset=".4427" stop-color="#addd8e"/><stop offset=".5699" stop-color="#d9f0a3"/><stop offset=".6995" stop-color="#f7fcb9"/><stop offset=".8315" stop-color="#ffffe5"/><stop offset="1" stop-color="#ffffe5"/></linearGradient>
<linearGradient id="p21_13" gradientUnits="userSpaceOnUse" x1="501.5" y1="610" x2="501.04" y2="840"><stop offset="0" stop-color="#0d733c"/><stop offset=".074" stop-color="#238443"/><stop offset=".1949" stop-color="#41ab5d"/><stop offset=".3178" stop-color="#78c679"/><stop offset=".4428" stop-color="#addd8e"/><stop offset=".57" stop-color="#d9f0a3"/><stop offset=".6995" stop-color="#f7fcb9"/><stop offset=".8315" stop-color="#ffffe5"/><stop offset="1" stop-color="#ffffe5"/></linearGradient>
<linearGradient id="p21_14" gradientUnits="userSpaceOnUse" x1="506.5" y1="610" x2="506.63" y2="840"><stop offset="0" stop-color="#0d733c"/><stop offset=".074" stop-color="#238443"/><stop offset=".1949" stop-color="#41ab5d"/><stop offset=".3179" stop-color="#78c679"/><stop offset=".4429" stop-color="#addd8e"/><stop offset=".57" stop-color="#d9f0a3"/><stop offset=".6995" stop-color="#f7fcb9"/><stop offset=".8314" stop-color="#ffffe5"/><stop offset="1" stop-color="#ffffe5"/></linearGradient>
<linearGradient id="p21_15" gradientUnits="userSpaceOnUse" x1="511.5" y1="610" x2="512.23" y2="840"><stop offset="0" stop-color="#0d733c"/><stop offset=".0739" stop-color="#238443"/><stop offset=".1949" stop-color="#41ab5d"/><stop offset=".3179" stop-color="#78c679"/><stop offset=".4429" stop-color="#addd8e"/><stop offset=".57" stop-color="#d9f0a3"/><stop offset=".6994" stop-color="#f7fcb9"/><stop offset=".8312" stop-color="#ffffe5"/><stop offset="1" stop-color="#ffffe5"/></linearGradient>
<linearGradient id="p21_16" gradientUnits="userSpaceOnUse" x1="516.5" y1="610" x2="517.83" y2="839.99"><stop offset="0" stop-color="#0d733c"/><stop offset=".0738" stop-color="#238443"/><stop offset=".1949" stop-color="#41ab5d"/><stop offset=".3179" stop-color="#78c679"/><stop offset=".4428" stop-color="#addd8e"/><stop offset=".5699" stop-color="#d9f0a3"/><stop offset=".6993" stop-color="#f7fcb9"/><stop offset=".831" stop-color="#ffffe5"/><stop offset="1" stop-color="#ffffe5"/></linearGradient>
<linearGradient id="p21_17" gradientUnits="userSpaceOnUse" x1="521.5" y1="610" x2="523.44" y2="839.98"><stop offset="0" stop-color="#0d733c"/><stop offset=".0737" stop-color="#238443"/><stop offset=".1948" stop-color="#41ab5d"/><stop offset=".3178" stop-color="#78c679"/><stop offset=".4427" stop-color="#addd8e"/><stop offset=".5698" stop-color="#d9f0a3"/><stop offset=".6991" stop-color="#f7fcb9"/><stop offset=".8306" stop-color="#ffffe5"/><stop offset="1" stop-color="#ffffe5"/></linearGradient>
<linearGradient id="p21_18" gradientUnits="userSpaceOnUse" x1="526.5" y1="610" x2="529.05" y2="839.97"><stop offset="0" stop-color="#0d733c"/><stop offset=".0736" stop-color="#238443"/><stop offset=".1947" stop-color="#41ab5d"/><stop offset=".3176" stop-color="#78c679"/><stop offset=".4426" stop-color="#addd8e"/><stop offset=".5696" stop-color="#d9f0a3"/><stop offset=".6988" stop-color="#f7fcb9"/><stop offset=".8302" stop-color="#ffffe5"/><stop offset="1" stop-color="#ffffe5"/></linearGradient>
<linearGradient id="p21_19" gradientUnits="userSpaceOnUse" x1="531.5" y1="610" x2="534.66" y2="839.96"><stop offset="0" stop-color="#0e733c"/><stop offset=".0734" stop-color="#238443"/><stop offset=".1945" stop-color="#41ab5d"/><stop offset=".3175" stop-color="#78c679"/><stop offset=".4424" stop-color="#addd8e"/><stop offset=".5693" stop-color="#d9f0a3"/><stop offset=".6984" stop-color="#f7fcb9"/><stop offset=".8297" stop-color="#ffffe5"/><stop offset="1" stop-color="#ffffe5"/></linearGradient>
<linearGradient id="p21_20" gradientUnits="userSpaceOnUse" x1="536.5" y1="610" x2="540.28" y2="839.94"><stop offset="0" stop-color="#0e733c"/><stop offset=".0731" stop-color="#238443"/><stop offset=".1943" stop-color="#41ab5d"/><stop offset=".3172" stop-color="#78c679"/><stop offset=".4421" stop-color="#addd8e"/><stop offset=".569" stop-color="#d9f0a3"/><stop offset=".698" stop-color="#f7fcb9"/><stop offset=".8291" stop-color="#ffffe5"/><stop offset="1" stop-color="#ffffe5"/></linearGradient>
<linearGradient id="p21_21" gradientUnits="userSpaceOnUse" x1="541.5" y1="610" x2="545.9" y2="839.92"><stop offset="0" stop-color="#0e733c"/><stop offset=".0728" stop-color="#238443"/><stop offset=".194" stop-color="#41ab5d"/><stop offset=".3169" stop-color="#78c679"/><stop offset=".4418" stop-color="#addd8e"/><stop offset=".5686" stop-color="#d9f0a3"/><stop offset=".6974" stop-color="#f7fcb9"/><stop offset=".8285" stop-color="#ffffe5"/><stop offset="1" stop-color="#ffffe5"/></linearGradient>
<linearGradient id="p21_22" gradientUnits="userSpaceOnUse" x1="546.5" y1="610" x2="551.52" y2="839.89"><stop offset="0" stop-color="#0e733c"/><stop offset=".0725" stop-color="#238443"/><stop offset=".1937" stop-color="#41ab5d"/><stop offset=".3166" stop-color="#78c679"/><stop offset=".4414" stop-color="#addd8e"/><stop offset=".5681" stop-color="#d9f0a3"/><stop offset=".6969" stop-color="#f7fcb9"/><stop offset=".8278" stop-color="#ffffe5"/><stop offset="1" stop-color="#ffffe5"/></linearGradient>
<linearGradient id="p21_23" gradientUnits="userSpaceOnUse" x1="551.5" y1="610" x2="557.14" y2="839.86"><stop offset="0" stop-color="#0e733c"/><stop offset=".0721" stop-color="#238443"/><stop offset=".1933" stop-color="#41ab5d"/><stop offset=".3162" stop-color="#78c679"/><stop offset=".4409" stop-color="#addd8e"/><stop offset=".5676" stop-color="#d9f0a3"/><stop offset=".6962" stop-color="#f7fcb9"/><stop offset=".8269" stop-color="#ffffe5"/><stop offset="1" stop-color="#ffffe5"/></linearGradient>
<linearGradient id="p21_24" gradientUnits="userSpaceOnUse" x1="556.5" y1="610" x2="562.77" y2="839.83"><stop offset="0" stop-color="#0e733c"/><stop offset=".0717" stop-color="#238443"/><stop offset=".1929" stop-color="#41ab5d"/><stop offset=".3158" stop-color="#78c679"/><stop offset=".4404" stop-color="#addd8e"/><stop offset=".567" stop-color="#d9f0a3"/><stop offset=".6955" stop-color="#f7fcb9"/><stop offset=".8261" stop-color="#ffffe5"/><stop offset="1" stop-color="#ffffe5"/></linearGradient>
<linearGradient id="p21_25" gradientUnits="userSpaceOnUse" x1="561.5" y1="610" x2="568.4" y2="839.79"><stop offset="0" stop-color="#0e733c"/><stop offset=".0713" stop-color="#238443"/><stop offset=".1924" stop-color="#41ab5d"/><stop offset=".3152" stop-color="#78c679"/><stop offset=".4398" stop-color="#addd8e"/><stop offset=".5663" stop-color="#d9f0a3"/><stop offset=".6947" stop-color="#f7fcb9"/><stop offset=".8251" stop-color="#ffffe5"/><stop offset="1" stop-color="#ffffe5"/></linearGradient>
<linearGradient id="p21_26" gradientUnits="userSpaceOnUse" x1="566.5" y1="610" x2="574.03" y2="839.75"><stop offset="0" stop-color="#0e733c"/><stop offset=".0708" stop-color="#238443"/><stop offset=".1919" stop-color="#41ab5d"/><stop offset=".3147" stop-color="#78c679"/><stop offset=".4392" stop-color="#addd8e"/><stop offset=".5656" stop-color="#d9f0a3"/><stop offset=".6938" stop-color="#f7fcb9"/><stop offset=".824" stop-color="#ffffe5"/><stop offset="1" stop-color="#ffffe5"/></linearGradient>
<linearGradient id="p21_27" gradientUnits="userSpaceOnUse" x1="571.5" y1="610" x2="579.66" y2="839.71"><stop offset="0" stop-color="#0e743c"/><stop offset=".0703" stop-color="#238443"/><stop offset=".1914" stop-color="#41ab5d"/><stop offset=".3141" stop-color="#78c679"/><stop offset=".4385" stop-color="#addd8e"/><stop offset=".5648" stop-color="#d9f0a3"/><stop offset=".6929" stop-color="#f7fcb9"/><stop offset=".8229" stop-color="#ffffe5"/><stop offset="1" stop-color="#ffffe5"/></linearGradient>
<linearGradient id="p21_28" gradientUnits="userSpaceOnUse" x1="576.5" y1="610" x2="585.3" y2="839.66"><stop offset="0" stop-color="#0f743c"/><stop offset=".0697" stop-color="#238443"/><stop offset=".1907" stop-color="#41ab5d"/><stop offset=".3134" stop-color="#78c679"/><stop offset=".4378" stop-color="#addd8e"/><stop offset=".5639" stop-color="#d9f0a3"/><stop offset=".6919" stop-color="#f7fcb9"/><stop offset=".8217" stop-color="#ffffe5"/><stop offset="1" stop-color="#ffffe5"/></linearGradient>
<linearGradient id="p21_29" gradientUnits="userSpaceOnUse" x1="581.5" y1="610" x2="590.93" y2="839.61"><stop offset="0" stop-color="#0f743c"/><stop offset=".0691" stop-color="#238443"/><stop offset=".1901" stop-color="#41ab5d"/><stop offset=".3127" stop-color="#78c679"/><stop offset=".437" stop-color="#addd8e"/><stop offset=".563" stop-color="#d9f0a3"/><stop offset=".6908" stop-color="#f7fcb9"/><stop offset=".8204" stop-color="#ffffe5"/><stop offset="1" stop-color="#ffffe5"/></linearGradient>
<linearGradient id="p21_30" gradientUnits="userSpaceOnUse" x1="586.5" y1="610" x2="596.57" y2="839.56"><stop offset="0" stop-color="#0f743c"/><stop offset=".0684" stop-color="#238443"/><stop offset=".1894" stop-color="#41ab5d"/><stop offset=".3119" stop-color="#78c679"/><stop offset=".4361" stop-color="#addd8e"/><stop offset=".562" stop-color="#d9f0a3"/><stop offset=".6896" stop-color="#f7fcb9"/><stop offset=".8191" stop-color="#ffffe5"/><stop offset="1" stop-color="#ffffe5"/></linearGradient>
<linearGradient id="p21_31" gradientUnits="userSpaceOnUse" x1="591.5" y1="610" x2="602.21" y2="839.5"><stop offset="0" stop-color="#0f743c"/><stop offset=".0677" stop-color="#238443"/><stop offset=".1886" stop-color="#41ab5d"/><stop offset=".3111" stop-color="#78c679"/><stop offset=".4352" stop-color="#addd8e"/><stop offset=".5609" stop-color="#d9f0a3"/><stop offset=".6884" stop-color="#f7fcb9"/><stop offset=".8176" stop-color="#ffffe5"/><stop offset="1" stop-color="#ffffe5"/></linearGradient>
<linearGradient id="p21_32" gradientUnits="userSpaceOnUse" x1="596.5" y1="610" x2="607.85" y2="839.44"><stop offset="0" stop-color="#0f743c"/><stop offset=".067" stop-color="#238443"/><stop offset=".1878" stop-color="#41ab5d"/><stop offset=".3102" stop-color="#78c679"/><stop offset=".4342" stop-color="#addd8e"/><stop offset=".5598" stop-color="#d9f0a3"/><stop offset=".6871" stop-color="#f7fcb9"/><stop offset=".8161" stop-color="#ffffe5"/><stop offset="1" stop-color="#ffffe5"/></linearGradient>
<linearGradient id="p21_33" gradientUnits="userSpaceOnUse" x1="601.5" y1="610" x2="613.5" y2="839.37"><stop offset="0" stop-color="#10753c"/><stop offset=".0662" stop-color="#238443"/><stop offset=".187" stop-color="#41ab5d"/><stop offset=".3093" stop-color="#78c679"/><stop offset=".4331" stop-color="#addd8e"/><stop offset=".5586" stop-color="#d9f0a3"/><stop offset=".6857" stop-color="#f7fcb9"/><stop offset=".8145" stop-color="#ffffe5"/><stop offset="1" stop-color="#ffffe5"/></linearGradient>
<linearGradient id="p21_34" gradientUnits="userSpaceOnUse" x1="606.5" y1="610" x2="619.14" y2="839.3"><stop offset="0" stop-color="#10753c"/><stop offset=".0654" stop-color="#238443"/><stop offset=".1861" stop-color="#41ab5d"/><stop offset=".3083" stop-color="#78c679"/><stop offset=".432" stop-color="#addd8e"/><stop offset=".5573" stop-color="#d9f0a3"/><stop offset=".6842" stop-color="#f7fcb9"/><stop offset=".8129" stop-color="#ffffe5"/><stop offset="1" stop-color="#ffffe5"/></linearGradient>
<linearGradient id="p21_35" gradientUnits="userSpaceOnUse" x1="611.5" y1="610" x2="624.79" y2="839.23"><stop offset="0" stop-color="#10753d"/><stop offset=".0645" stop-color="#238443"/><stop offset=".1852" stop-color="#41ab5d"/><stop offset=".3073" stop-color="#78c679"/><stop offset=".4309" stop-color="#addd8e"/><stop offset=".556" stop-color="#d9f0a3"/><stop offset=".6827" stop-color="#f7fcb9"/><stop offset=".8111" stop-color="#ffffe5"/><stop offset="1" stop-color="#ffffe5"/></linearGradient>
<linearGradient id="p21_36" gradientUnits="userSpaceOnUse" x1="616.5" y1="610" x2="630.05" y2="839.2"><stop offset="0" stop-color="#10753d"/><stop offset=".0636" stop-color="#238443"/><stop offset=".1842" stop-color="#41ab5d"/><stop offset=".3062" stop-color="#78c679"/><stop offset=".4296" stop-color="#addd8e"/><stop offset=".5546" stop-color="#d9f0a3"/><stop offset=".6811" stop-color="#f7fcb9"/><stop offset=".8093" stop-color="#ffffe5"/><stop offset="1" stop-color="#ffffe5"/></linearGradient>
<linearGradient id="p21_37" gradientUnits="userSpaceOnUse" x1="621.5" y1="610" x2="635.68" y2="839.12"><stop offset="0" stop-color="#11753d"/><stop offset=".0626" stop-color="#238443"/><stop offset=".1831" stop-color="#41ab5d"/><stop offset=".305" stop-color="#78c679"/><stop offset=".4283" stop-color="#addd8e"/><stop offset=".5531" stop-color="#d9f0a3"/><stop offset=".6795" stop-color="#f7fcb9"/><stop offset=".8074" stop-color="#ffffe5"/><stop offset="1" stop-color="#ffffe5"/></linearGradient>
<linearGradient id="p21_38" gradientUnits="userSpaceOnUse" x1="626.5" y1="610" x2="641.32" y2="839.04"><stop offset="0" stop-color="#11763d"/><stop offset=".0616" stop-color="#238443"/><stop offset=".182" stop-color="#41ab5d"/><stop offset=".3038" stop-color="#78c679"/><stop offset=".427" stop-color="#addd8e"/><stop offset=".5516" stop-color="#d9f0a3"/><stop offset=".6777" stop-color="#f7fcb9"/><stop offset=".8054" stop-color="#ffffe5"/><stop offset="1" stop-color="#ffffe5"/></linearGradient>
<linearGradient id="p21_39" gradientUnits="userSpaceOnUse" x1="631.5" y1="610" x2="646.96" y2="838.96"><stop offset="0" stop-color="#11763d"/><stop offset=".0605" stop-color="#238443"/><stop offset=".1809" stop-color="#41ab5d"/><stop offset=".3025" stop-color="#78c679"/><stop offset=".4256" stop-color="#addd8e"/><stop offset=".55" stop-color="#d9f0a3"/><stop offset=".6759" stop-color="#f7fcb9"/><stop offset=".8034" stop-color="#ffffe5"/><stop offset="1" stop-color="#ffffe5"/></linearGradient>
<linearGradient id="p21_40" gradientUnits="userSpaceOnUse" x1="636.5" y1="610" x2="652.59" y2="838.87"><stop offset="0" stop-color="#12763d"/><stop offset=".0594" stop-color="#238443"/><stop offset=".1797" stop-color="#41ab5d"/><stop offset=".3012" stop-color="#78c679"/><stop offset=".4241" stop-color="#addd8e"/><stop offset=".5484" stop-color="#d9f0a3"/><stop offset=".6741" stop-color="#f7fcb9"/><stop offset=".8012" stop-color="#ffffe5"/><stop offset="1" stop-color="#ffffe5"/></linearGradient>
<linearGradient id="p21_41" gradientUnits="userSpaceOnUse" x1="641.5" y1="610" x2="658.23" y2="838.78"><stop offset="0" stop-color="#12763d"/><stop offset=".0583" stop-color="#238443"/><stop offset=".1784" stop-color="#41ab5d"/><stop offset=".2998" stop-color="#78c679"/><stop offset=".4226" stop-color="#addd8e"/><stop offset=".5466" stop-color="#d9f0a3"/><stop offset=".6721" stop-color="#f7fcb9"/><stop offset=".799" stop-color="#ffffe5"/><stop offset="1" stop-color="#ffffe5"/></linearGradient>
<linearGradient id="p21_42" gradientUnits="userSpaceOnUse" x1="646.5" y1="610" x2="663.87" y2="838.68"><stop offset="0" stop-color="#12773d"/><stop offset=".0571" stop-color="#238443"/><stop offset=".1771" stop-color="#41ab5d"/><stop offset=".2984" stop-color="#78c679"/><stop offset=".421" stop-color="#addd8e"/><stop offset=".5448" stop-color="#d9f0a3"/><stop offset=".6701" stop-color="#f7fcb9"/><stop offset=".7967" stop-color="#ffffe5"/><stop offset="1" stop-color="#ffffe5"/></linearGradient>
<linearGradient id="p21_43" gradientUnits="userSpaceOnUse" x1="651.5" y1="610" x2="669.51" y2="838.58"><stop offset="0" stop-color="#13773d"/><stop offset=".0559" stop-color="#238443"/><stop offset=".1758" stop-color="#41ab5d"/><stop offset=".2969" stop-color="#78c679"/><stop offset=".4193" stop-color="#addd8e"/><stop offset=".543" stop-color="#d9f0a3"/><stop offset=".668" stop-color="#f7fcb9"/><stop offset=".7944" stop-color="#ffffe5"/><stop offset="1" stop-color="#ffffe5"/></linearGradient>
<linearGradient id="p21_44" gradientUnits="userSpaceOnUse" x1="656.5" y1="610" x2="675.15" y2="838.48"><stop offset="0" stop-color="#13773d"/><stop offset=".0546" stop-color="#238443"/><stop offset=".1744" stop-color="#41ab5d"/><stop offset=".2954" stop-color="#78c679"/><stop offset=".4176" stop-color="#addd8e"/><stop offset=".5411" stop-color="#d9f0a3"/><stop offset=".6659" stop-color="#f7fcb9"/><stop offset=".792" stop-color="#ffffe5"/><stop offset="1" stop-color="#ffffe5"/></linearGradient>
<linearGradient id="p21_45" gradientUnits="userSpaceOnUse" x1="661.5" y1="610" x2="680.79" y2="838.37"><stop offset="0" stop-color="#13773e"/><stop offset=".0533" stop-color="#238443"/><stop offset=".1729" stop-color="#41ab5d"/><stop offset=".2938" stop-color="#78c679"/><stop offset=".4158" stop-color="#addd8e"/><stop offset=".5391" stop-color="#d9f0a3"/><stop offset=".6636" stop-color="#f7fcb9"/><stop offset=".7895" stop-color="#ffffe5"/><stop offset="1" stop-color="#ffffe5"/></linearGradient>
<linearGradient id="p21_46" gradientUnits="userSpaceOnUse" x1="666.5" y1="610" x2="686.43" y2="838.26"><stop offset="0" stop-color="#14783e"/><stop offset=".0519" stop-color="#238443"/><stop offset=".1714" stop-color="#41ab5d"/><stop offset=".2921" stop-color="#78c679"/><stop offset=".414" stop-color="#addd8e"/><stop offset=".5371" stop-color="#d9f0a3"/><stop offset=".6613" stop-color="#f7fcb9"/><stop offset=".7869" stop-color="#ffffe5"/><stop offset="1" stop-color="#ffffe5"/></linearGradient>
<linearGradient id="p21_47" gradientUnits="userSpaceOnUse" x1="671.5" y1="610" x2="692.07" y2="838.15"><stop offset="0" stop-color="#14783e"/><stop offset=".0505" stop-color="#238443"/><stop offset=".1699" stop-color="#41ab5d"/><stop offset=".2904" stop-color="#78c679"/><stop offset=".4121" stop-color="#addd8e"/><stop offset=".5349" stop-color="#d9f0a3"/><stop offset=".659" stop-color="#f7fcb9"/><stop offset=".7843" stop-color="#ffffe5"/><stop offset="1" stop-color="#ffffe5"/></linearGradient>
<linearGradient id="p21_48" gradientUnits="userSpaceOnUse" x1="676.5" y1="610" x2="697.71" y2="838.03"><stop offset="0" stop-color="#15783e"/><stop offset=".049" stop-color="#238443"/><stop offset=".1683" stop-color="#41ab5d"/><stop offset=".2887" stop-color="#78c679"/><stop offset=".4102" stop-color="#addd8e"/><stop offset=".5328" stop-color="#d9f0a3"/><stop offset=".6566" stop-color="#f7fcb9"/><stop offset=".7815" stop-color="#ffffe5"/><stop offset="1" stop-color="#ffffe5"/></linearGradient>
<linearGradient id="p21_49" gradientUnits="userSpaceOnUse" x1="680" y1="610" x2="701.65" y2="837.94"><stop offset="0" stop-color="#15793e"/><stop offset=".048" stop-color="#238443"/><stop offset=".1672" stop-color="#41ab5d"/><stop offset=".2874" stop-color="#78c679"/><stop offset=".4088" stop-color="#addd8e"/><stop offset=".5312" stop-color="#d9f0a3"/><stop offset=".6548" stop-color="#f7fcb9"/><stop offset=".7796" stop-color="#ffffe5"/><stop offset="1" stop-color="#ffffe5"/></linearGradient>
<linearGradient id="cbg" x1="0" y1="0" x2="0" y2="1"><stop offset="0" stop-color="#004529"/><stop offset="0.07" stop-color="#006837"/><stop offset="0.15" stop-color="#238443"/><stop offset="0.22" stop-color="#41ab5d"/><stop offset="0.29" stop-color="#78c679"/><stop offset="0.37" stop-color="#addd8e"/><stop offset="0.44" stop-color="#d9f0a3"/><stop offset="0.51" stop-color="#f7fcb9"/><stop offset="0.58" stop-color="#ffffe5"/></linearGradient>
</defs>
<clipPath id="cp00"><rect x="33.5" y="13.1" width="246.1" height="229.2"/></clipPath>
<g clip-path="url(#cp00)">
<g shape-rendering="crispEdges">
<rect x="33" y="13" width="5" height="230" fill="url(#p00_0)"/>
<rect x="38" y="13" width="5" height="230" fill="url(#p00_1)"/>
<rect x="43" y="13" width="5" height="230" fill="url(#p00_2)"/>
<rect x="48" y="13" width="5" height="230" fill="url(#p00_3)"/>
<rect x="53" y="13" width="5" height="230" fill="url(#p00_4)"/>
<rect x="58" y="13" width="5" height="230" fill="url(#p00_5)"/>
<rect x="63" y="13" width="5" height="230" fill="url(#p00_6)"/>
<rect x="68" y="13" width="5" height="230" fill="url(#p00_7)"/>
<rect x="73" y="13" width="5" height="230" fill="url(#p00_8)"/>
<rect x="78" y="13" width="5" height="230" fill="url(#p00_9)"/>
<rect x="83" y="13" width="5" height="230" fill="url(#p00_10)"/>
<rect x="88" y="13" width="5" height="230" fill="url(#p00_11)"/>
<rect x="93" y="13" width="5" height="230" fill="url(#p00_12)"/>
<rect x="98" y="13" width="5" height="230" fill="url(#p00_13)"/>
<rect x="103" y="13" width="5" height="230" fill="url(#p00_14)"/>
<rect x="108" y="13" width="5" height="230" fill="url(#p00_15)"/>
<rect x="113" y="13" width="5" height="230" fill="url(#p00_16)"/>
<rect x="118" y="13" width="5" height="230" fill="url(#p00_17)"/>
<rect x="123" y="13" width="5" height="230" fill="url(#p00_18)"/>
<rect x="128" y="13" width="5" height="230" fill="url(#p00_19)"/>
<rect x="133" y="13" width="5" height="230" fill="url(#p00_20)"/>
<rect x="138" y="13" width="5" height="230" fill="url(#p00_21)"/>
<rect x="143" y="13" width="5" height="230" fill="url(#p00_22)"/>
<rect x="148" y="13" width="5" height="230" fill="url(#p00_23)"/>
<rect x="153" y="13" width="5" height="230" fill="url(#p00_24)"/>
<rect x="158" y="13" width="5" height="230" fill="url(#p00_25)"/>
<rect x="163" y="13" width="5" height="230" fill="url(#p00_26)"/>
<rect x="168" y="13" width="5" height="230" fill="url(#p00_27)"/>
<rect x="173" y="13" width="5" height="230" fill="url(#p00_28)"/>
<rect x="178" y="13" width="5" height="230" fill="url(#p00_29)"/>
<rect x="183" y="13" width="5" height="230" fill="url(#p00_30)"/>
<rect x="188" y="13" width="5" height="230" fill="url(#p00_31)"/>
<rect x="193" y="13" width="5" height="230" fill="url(#p00_32)"/>
<rect x="198" y="13" width="5" height="230" fill="url(#p00_33)"/>
<rect x="203" y="13" width="5" height="230" fill="url(#p00_34)"/>
<rect x="208" y="13" width="5" height="230" fill="url(#p00_35)"/>
<rect x="213" y="13" width="5" height="230" fill="url(#p00_36)"/>
<rect x="218" y="13" width="5" height="230" fill="url(#p00_37)"/>
<rect x="223" y="13" width="5" height="230" fill="url(#p00_38)"/>
<rect x="228" y="13" width="5" height="230" fill="url(#p00_39)"/>
<rect x="233" y="13" width="5" height="230" fill="url(#p00_40)"/>
<rect x="238" y="13" width="5" height="230" fill="url(#p00_41)"/>
<rect x="243" y="13" width="5" height="230" fill="url(#p00_42)"/>
<rect x="248" y="13" width="5" height="230" fill="url(#p00_43)"/>
<rect x="253" y="13" width="5" height="230" fill="url(#p00_44)"/>
<rect x="258" y="13" width="5" height="230" fill="url(#p00_45)"/>
<rect x="263" y="13" width="5" height="230" fill="url(#p00_46)"/>
<rect x="268" y="13" width="5" height="230" fill="url(#p00_47)"/>
<rect x="273" y="13" width="5" height="230" fill="url(#p00_48)"/>
<rect x="278" y="13" width="2" height="230" fill="url(#p00_49)"/>
</g>
<path d="M32.3,108.42 34.3,106.85 36.3,105.28 38.3,103.71 40.3,102.14 42.3,100.56 44.3,98.98 46.3,97.4 48.3,95.82 50.3,94.23 52.3,92.64 54.3,91.05 56.3,89.45 58.3,87.85 60.3,86.25 62.3,84.65 64.3,83.04 66.3,81.44 68.3,79.82 70.3,78.21 72.3,76.59 74.3,74.97 76.3,73.35 78.3,71.72 80.3,70.09 82.3,68.45 84.3,66.82 86.3,65.18 88.3,63.53 90.3,61.88 92.3,60.23 94.3,58.58 96.3,56.92 98.3,55.25 100.3,53.59 102.3,51.92 104.3,50.24 106.3,48.57 108.3,46.88 110.3,45.2 111,44.61M123.6,33.88 125.6,32.16 127.6,30.43 129.6,28.7 131.6,26.97 133.6,25.23 135.6,23.49 137.6,21.74 139.6,19.99 141.6,18.23 143.6,16.47 145.6,14.7 147.6,12.93 148.4,12.22" fill="none" stroke="#000" stroke-width="1.4" stroke-linejoin="round"/>
<path d="M32.3,193.43 34.3,191.82 36.3,190.2 38.3,188.58 40.3,186.94 42.3,185.3 44.3,183.65 46.3,181.99 48.3,180.32 50.3,178.65 52.3,176.96 54.3,175.28 56.3,173.58 58.3,171.87 60.3,170.16 62.3,168.44 64.3,166.72 66.3,164.99 68.3,163.25 70.3,161.5 72.3,159.75 74.3,157.99 76.3,156.23 78.3,154.46 80.3,152.68 82.3,150.9 84.3,149.11 86.3,147.32 88.3,145.52 90.3,143.71 92.3,141.9 94.3,140.09 96.3,138.26 98.3,136.44 100.3,134.61 102.3,132.77 104.3,130.93 106.3,129.09 108.3,127.24 110.3,125.38 112.3,123.52 114.3,121.66 116.3,119.79 118.3,117.92 120.3,116.05 122.3,114.17 124.3,112.29 126.3,110.4 128.3,108.51 130.3,106.62 132.3,104.73 134.3,102.83 136.3,100.93 138.3,99.02 140.3,97.11 142.3,95.2 144.3,93.29 146.3,91.37 148.3,89.46 150.3,87.54 152.3,85.61 154.3,83.69 156.3,81.76 158.3,79.83 160.3,77.9 162.3,75.97 164.3,74.04 166.3,72.1 168.3,70.16 170.3,68.23 172.3,66.29 174.3,64.35 176.3,62.41 178.3,60.46 180.3,58.52 182.3,56.58 184.3,54.63 186.3,52.69 188.3,50.74 190.3,48.8 192.3,46.85 194.3,44.91 196.3,42.96 198.3,41.01 200.3,39.07 202.3,37.12 204.1,35.37M211.9,27.79 213.9,25.85 215.9,23.91 217.9,21.97 219.9,20.03 221.9,18.09 223.9,16.16 225.9,14.22 227.9,12.29 228.2,12" fill="none" stroke="#000" stroke-width="1.4" stroke-linejoin="round"/>
<path d="M75.2,243.47 77.2,241.62 79.2,239.75 81.2,237.89 83.2,236.01 85.2,234.13 87.2,232.25 89.2,230.36 91.2,228.46 93.2,226.56 95.2,224.65 97.2,222.73 99.2,220.81 101.2,218.89 103.2,216.96 105.2,215.02 107.2,213.08 109.2,211.13 111.2,209.18 113.2,207.22 115.2,205.25 117.2,203.29 119.2,201.31 121.2,199.33 123.2,197.35 125.2,195.36 127.2,193.37 129.2,191.37 131.2,189.37 133.2,187.36 135.2,185.35 137.2,183.34 139.2,181.32 141.2,179.29 143.2,177.26 145.2,175.23 147.2,173.19 149.2,171.15 151.2,169.11 153.2,167.06 155.2,165 157.2,162.95 159.2,160.88 161.2,158.82 163.2,156.75 165.2,154.68 167.2,152.6 169.2,150.52 171.2,148.44 173.2,146.36 175.2,144.27 177.2,142.17 179.2,140.08 181.2,137.98 183.2,135.88 185.2,133.77 187.2,131.66 189.2,129.55 191.2,127.44 193.2,125.32 195.2,123.2 197.2,121.08 199.2,118.95 201.2,116.82 203.2,114.69 205.2,112.56 207.2,110.42 209.2,108.29 211.2,106.15 213.2,104 215.2,101.86 217.2,99.71 219.2,97.56 221.2,95.41 223.2,93.26 225.2,91.11 227.2,88.95 229.2,86.79 231.2,84.63 233.2,82.47 235.2,80.3 237.2,78.14 239.2,75.97 241.2,73.8 243.2,71.63 245.2,69.46 247.2,67.29 249.2,65.12 251.2,62.94 253.2,60.77 255.2,58.59 257.2,56.41 259.2,54.23 261.2,52.05 263.2,49.87 265.1,47.79M270.6,41.79 272.6,39.6 274.6,37.42 276.6,35.23 278.6,33.04 280.6,30.86 281.3,30.09" fill="none" stroke="#000" stroke-width="1.4" stroke-linejoin="round"/>
<path d="M162.6,244.26 164.6,241.86 166.6,239.48 168.6,237.11 170.6,234.75 172.6,232.4 174.6,230.07 176.6,227.75 178.6,225.44 180.6,223.14 182.6,220.85 184.6,218.57 186.6,216.3 188.6,214.04 190.6,211.79 192.6,209.54 194.6,207.3 196.6,205.07 198.6,202.85 200.6,200.63 202.6,198.41 204.6,196.2 206.6,194 208.6,191.8 210.6,189.6 212.6,187.4 214.6,185.21 216.6,183.02 218.6,180.83 220.6,178.64 222.6,176.45 224.6,174.26 226.6,172.07 228.6,169.87 230.6,167.68 232.6,165.48 234.6,163.28 236.6,161.08 238.6,158.87 240.6,156.66 242.6,154.45 244.6,152.23 246.6,150 248.6,147.77 250.6,145.53 252.6,143.28 254.6,141.03 256.6,138.76 258.6,136.49 260.6,134.21 261.4,133.29M266.9,126.96 268.9,124.63 270.9,122.29 272.9,119.94 274.9,117.58 276.9,115.2 278.9,112.81 280.9,110.41 281.3,109.93" fill="none" stroke="#000" stroke-width="1.4" stroke-linejoin="round"/>
<text transform="translate(118.1,38.5) rotate(-75)" text-anchor="middle" y="2.5" font-size="6.9" stroke="#000" stroke-width="0.25">100.0</text>
<text transform="translate(207,31.1) rotate(-61)" text-anchor="middle" y="2.5" font-size="6.9" stroke="#000" stroke-width="0.25">10.0</text>
<text transform="translate(267.7,44.8) rotate(-30)" text-anchor="middle" y="2.5" font-size="6.9" stroke="#000" stroke-width="0.25">1.0</text>
<text transform="translate(263.9,130) rotate(-8)" text-anchor="middle" y="2.5" font-size="6.9" stroke="#000" stroke-width="0.25">0.1</text>
</g>
<rect x="33.5" y="13.1" width="246.1" height="229.2" fill="none" stroke="#000" stroke-width="0.68"/>
<text x="90.44" y="255.9" text-anchor="middle" font-size="8.65">1</text>
<text x="147.38" y="255.9" text-anchor="middle" font-size="8.65">2</text>
<text x="180.69" y="255.9" text-anchor="middle" font-size="8.65">3</text>
<text x="204.33" y="255.9" text-anchor="middle" font-size="8.65">4</text>
<text x="222.66" y="255.9" text-anchor="middle" font-size="8.65">5</text>
<text x="237.64" y="255.9" text-anchor="middle" font-size="8.65">6</text>
<text x="250.3" y="255.9" text-anchor="middle" font-size="8.65">7</text>
<text x="261.27" y="255.9" text-anchor="middle" font-size="8.65">8</text>
<text x="270.94" y="255.9" text-anchor="middle" font-size="8.65">9</text>
<path d="M90.44,242.3v3M147.38,242.3v3M180.69,242.3v3M204.33,242.3v3M222.66,242.3v3M237.64,242.3v3M250.3,242.3v3M261.27,242.3v3M270.94,242.3v3" stroke="#000" stroke-width="0.9" fill="none"/>
<path d="M48.48,242.3v2M61.14,242.3v2M72.11,242.3v2M81.79,242.3v2" stroke="#000" stroke-width="0.7" fill="none"/>
<text x="27.5" y="246.3" text-anchor="end" font-size="8.65">0.1</text>
<text x="27.5" y="193.27" text-anchor="end" font-size="8.65">0.2</text>
<text x="27.5" y="162.25" text-anchor="end" font-size="8.65">0.3</text>
<text x="27.5" y="140.24" text-anchor="end" font-size="8.65">0.4</text>
<text x="27.5" y="123.16" text-anchor="end" font-size="8.65">0.5</text>
<text x="27.5" y="109.21" text-anchor="end" font-size="8.65">0.6</text>
<text x="27.5" y="97.42" text-anchor="end" font-size="8.65">0.7</text>
<text x="27.5" y="87.2" text-anchor="end" font-size="8.65">0.8</text>
<text x="27.5" y="78.19" text-anchor="end" font-size="8.65">0.9</text>
<text x="27.5" y="70.13" text-anchor="end" font-size="8.65">1.0</text>
<text x="27.5" y="17.1" text-anchor="end" font-size="8.65">2.0</text>
<path d="M33.5,242.3h-3M33.5,189.27h-3M33.5,158.25h-3M33.5,136.24h-3M33.5,119.16h-3M33.5,105.21h-3M33.5,93.42h-3M33.5,83.2h-3M33.5,74.19h-3M33.5,66.13h-3M33.5,13.1h-3" stroke="#000" stroke-width="0.9" fill="none"/>
<text x="156.55" y="266.9" text-anchor="middle" font-size="8.65">Orbital Period (days)</text>
<text transform="translate(7.6,127.7) rotate(-90)" text-anchor="middle" font-size="8.65">Radius (R<tspan font-size="6" font-style="italic" dy="1.6">J</tspan><tspan dy="-1.6">)</tspan></text>
<text x="156.55" y="8.4" text-anchor="middle" font-size="10.3">JWST/NIRISS - Phase blend G-star</text>
<rect x="295.2" y="13.1" width="11.6" height="229.2" fill="url(#cbg)" stroke="#000" stroke-width="0.68"/>
<text x="312.8" y="17.1" font-size="8.65">1000</text>
<text x="312.8" y="62.94" font-size="8.65">100</text>
<text x="312.8" y="108.78" font-size="8.65">10</text>
<text x="312.8" y="154.62" font-size="8.65">1</text>
<text x="312.8" y="200.46" font-size="8.65">0.1</text>
<text x="312.8" y="246.3" font-size="8.65">0.01</text>
<path d="M306.8,13.1h3M306.8,58.94h3M306.8,104.78h3M306.8,150.62h3M306.8,196.46h3M306.8,242.3h3" stroke="#000" stroke-width="0.9" fill="none"/>
<text x="301" y="8.4" text-anchor="middle" font-size="10.3">Ampl. (ppm)</text>
<clipPath id="cp01"><rect x="434.7" y="13.1" width="246.3" height="229.2"/></clipPath>
<g clip-path="url(#cp01)">
<g shape-rendering="crispEdges">
<rect x="434" y="13" width="5" height="230" fill="url(#p01_0)"/>
<rect x="439" y="13" width="5" height="230" fill="url(#p01_1)"/>
<rect x="444" y="13" width="5" height="230" fill="url(#p01_2)"/>
<rect x="449" y="13" width="5" height="230" fill="url(#p01_3)"/>
<rect x="454" y="13" width="5" height="230" fill="url(#p01_4)"/>
<rect x="459" y="13" width="5" height="230" fill="url(#p01_5)"/>
<rect x="464" y="13" width="5" height="230" fill="url(#p01_6)"/>
<rect x="469" y="13" width="5" height="230" fill="url(#p01_7)"/>
<rect x="474" y="13" width="5" height="230" fill="url(#p01_8)"/>
<rect x="479" y="13" width="5" height="230" fill="url(#p01_9)"/>
<rect x="484" y="13" width="5" height="230" fill="url(#p01_10)"/>
<rect x="489" y="13" width="5" height="230" fill="url(#p01_11)"/>
<rect x="494" y="13" width="5" height="230" fill="url(#p01_12)"/>
<rect x="499" y="13" width="5" height="230" fill="url(#p01_13)"/>
<rect x="504" y="13" width="5" height="230" fill="url(#p01_14)"/>
<rect x="509" y="13" width="5" height="230" fill="url(#p01_15)"/>
<rect x="514" y="13" width="5" height="230" fill="url(#p01_16)"/>
<rect x="519" y="13" width="5" height="230" fill="url(#p01_17)"/>
<rect x="524" y="13" width="5" height="230" fill="url(#p01_18)"/>
<rect x="529" y="13" width="5" height="230" fill="url(#p01_19)"/>
<rect x="534" y="13" width="5" height="230" fill="url(#p01_20)"/>
<rect x="539" y="13" width="5" height="230" fill="url(#p01_21)"/>
<rect x="544" y="13" width="5" height="230" fill="url(#p01_22)"/>
<rect x="549" y="13" width="5" height="230" fill="url(#p01_23)"/>
<rect x="554" y="13" width="5" height="230" fill="url(#p01_24)"/>
<rect x="559" y="13" width="5" height="230" fill="url(#p01_25)"/>
<rect x="564" y="13" width="5" height="230" fill="url(#p01_26)"/>
<rect x="569" y="13" width="5" height="230" fill="url(#p01_27)"/>
<rect x="574" y="13" width="5" height="230" fill="url(#p01_28)"/>
<rect x="579" y="13" width="5" height="230" fill="url(#p01_29)"/>
<rect x="584" y="13" width="5" height="230" fill="url(#p01_30)"/>
<rect x="589" y="13" width="5" height="230" fill="url(#p01_31)"/>
<rect x="594" y="13" width="5" height="230" fill="url(#p01_32)"/>
<rect x="599" y="13" width="5" height="230" fill="url(#p01_33)"/>
<rect x="604" y="13" width="5" height="230" fill="url(#p01_34)"/>
<rect x="609" y="13" width="5" height="230" fill="url(#p01_35)"/>
<rect x="614" y="13" width="5" height="230" fill="url(#p01_36)"/>
<rect x="619" y="13" width="5" height="230" fill="url(#p01_37)"/>
<rect x="624" y="13" width="5" height="230" fill="url(#p01_38)"/>
<rect x="629" y="13" width="5" height="230" fill="url(#p01_39)"/>
<rect x="634" y="13" width="5" height="230" fill="url(#p01_40)"/>
<rect x="639" y="13" width="5" height="230" fill="url(#p01_41)"/>
<rect x="644" y="13" width="5" height="230" fill="url(#p01_42)"/>
<rect x="649" y="13" width="5" height="230" fill="url(#p01_43)"/>
<rect x="654" y="13" width="5" height="230" fill="url(#p01_44)"/>
<rect x="659" y="13" width="5" height="230" fill="url(#p01_45)"/>
<rect x="664" y="13" width="5" height="230" fill="url(#p01_46)"/>
<rect x="669" y="13" width="5" height="230" fill="url(#p01_47)"/>
<rect x="674" y="13" width="5" height="230" fill="url(#p01_48)"/>
<rect x="679" y="13" width="2" height="230" fill="url(#p01_49)"/>
</g>
<path d="M433.3,37.9 435.3,37.52 437.3,37.13 439.3,36.74 441.3,36.36 443.3,35.98 445.3,35.6 447.3,35.22 449.3,34.83 451.3,34.45 453.3,34.07 455.3,33.69 457.3,33.32 459.3,32.94 461.3,32.55 463.3,32.17 465.3,31.79 467.3,31.41 469.3,31.03 471.3,30.65 473.3,30.26 475.3,29.87 477.3,29.49 479.3,29.1 481.3,28.71 483.3,28.32 485.3,27.92 487.3,27.53 489.3,27.13 491.3,26.73 493.3,26.33 494.8,26.02M525.1,19.49 527.1,19.03 529.1,18.56 531.1,18.08 533.1,17.6 535.1,17.12 537.1,16.63 539.1,16.14 541.1,15.63 543.1,15.13 545.1,14.62 547.1,14.1 548.2,13.81" fill="none" stroke="#000" stroke-width="1.4" stroke-linejoin="round"/>
<path d="M433.3,81.88 435.3,81.55 437.3,81.22 439.3,80.89 441.3,80.55 443.3,80.22 445.3,79.88 447.3,79.53 449.3,79.18 451.3,78.84 453.3,78.48 455.3,78.13 457.3,77.77 459.3,77.4 461.3,77.04 463.3,76.67 465.3,76.3 467.3,75.92 469.3,75.55 471.3,75.16 473.3,74.78 475.3,74.39 477.3,74 479.3,73.61 481.3,73.21 483.3,72.81 485.3,72.4 487.3,71.99 489.3,71.58 491.3,71.17 493.3,70.75 495.3,70.32 497.3,69.9 499.3,69.47 501.3,69.03 503.3,68.6 505.3,68.16 507.3,67.71 509.3,67.26 511.3,66.81 513.3,66.36 515.3,65.9 517.3,65.43 519.3,64.97 521.3,64.5 523.3,64.02 525.3,63.54 527.3,63.06 529.3,62.57 531.3,62.08 533.3,61.59 535.3,61.09 537.3,60.59 539.3,60.08 541.3,59.57 543.3,59.05 545.3,58.54 547.3,58.01 549.3,57.48 551.3,56.95 553.3,56.42 555.3,55.88 557.3,55.33 559.3,54.78 561.3,54.23 563.3,53.67 565.3,53.11 567.3,52.54 569.3,51.97 571.3,51.4 573.3,50.82 575.3,50.23 577.3,49.64 579.3,49.05 581.3,48.45 583.3,47.85 585.3,47.24 587.3,46.63 589.3,46.01 591.3,45.39 593.3,44.76 595.3,44.13 597.3,43.5 599.3,42.85 601.3,42.21 603.3,41.56 605.3,40.9 607.3,40.24 609.3,39.58 611.3,38.91 613.3,38.23 615.3,37.55 617.3,36.87 619.3,36.18 621.3,35.48 623.3,34.78 625.3,34.07 627.3,33.36 629.3,32.65 631.3,31.93 633.3,31.2 635.3,30.47 637.3,29.73 639.3,28.99 641.3,28.24 643.3,27.49 645.3,26.73 647.3,25.97 649.3,25.2 651.3,24.42 653.3,23.64 655.3,22.86 657.3,22.07 659.3,21.27 661.3,20.47 661.8,20.27M671,16.5 673,15.66 675,14.82 677,13.97 679,13.12 680.6,12.43" fill="none" stroke="#000" stroke-width="1.4" stroke-linejoin="round"/>
<path d="M433.3,127.8 435.3,127.43 437.3,127.03 439.3,126.61 441.3,126.17 443.3,125.72 445.3,125.26 447.3,124.79 449.3,124.31 451.3,123.82 453.3,123.33 455.3,122.83 457.3,122.34 459.3,121.85 461.3,121.36 463.3,120.88 465.3,120.41 467.3,119.95 469.3,119.5 471.3,119.07 473.3,118.66 475.3,118.26 477.3,117.89 479.3,117.52 481.3,117.18 483.3,116.84 485.3,116.52 487.3,116.2 489.3,115.88 491.3,115.57 493.3,115.26 495.3,114.94 497.3,114.62 499.3,114.29 501.3,113.96 503.3,113.61 505.3,113.26 507.3,112.89 509.3,112.5 511.3,112.11 513.3,111.7 515.3,111.28 517.3,110.85 519.3,110.4 521.3,109.94 523.3,109.46 525.3,108.98 527.3,108.47 529.3,107.95 531.3,107.42 533.3,106.87 535.3,106.31 537.3,105.73 539.3,105.13 541.3,104.53 543.3,103.93 545.3,103.32 547.3,102.71 549.3,102.11 551.3,101.51 553.3,100.93 555.3,100.36 557.3,99.81 559.3,99.28 561.3,98.77 563.3,98.27 565.3,97.79 567.3,97.3 569.3,96.82 571.3,96.33 573.3,95.82 575.3,95.3 577.3,94.76 579.3,94.2 581.3,93.63 583.3,93.03 585.3,92.42 587.3,91.8 589.3,91.16 591.3,90.51 593.3,89.86 595.3,89.19 597.3,88.52 599.3,87.84 601.3,87.16 603.3,86.47 605.3,85.78 607.3,85.1 609.3,84.4 611.3,83.71 613.3,83.02 615.3,82.32 617.3,81.62 619.3,80.91 621.3,80.2 623.3,79.49 625.3,78.77 627.3,78.05 629.3,77.32 631.3,76.59 633.3,75.87 635.3,75.14 637.3,74.42 639.3,73.71 641.1,73.07M648.6,70.46 650.6,69.77 652.6,69.07 654.6,68.37 656.6,67.66 658.6,66.94 660.6,66.2 662.6,65.43 664.6,64.65 666.6,63.83 668.6,62.99 670.6,62.11 672.6,61.19 674.6,60.22 676.6,59.21 678.6,58.15 680.6,57.04 682.3,56.04" fill="none" stroke="#000" stroke-width="1.4" stroke-linejoin="round"/>
<path d="M433.3,173.7 435.3,173.3 437.3,172.92 439.3,172.55 441.3,172.2 443.3,171.86 445.3,171.54 447.3,171.23 449.3,170.92 451.3,170.63 453.3,170.34 455.3,170.06 457.3,169.78 459.3,169.51 461.3,169.24 463.3,168.97 465.3,168.7 467.3,168.44 469.3,168.16 471.3,167.89 473.3,167.61 475.3,167.32 477.3,167.03 479.3,166.73 481.3,166.42 483.3,166.1 485.3,165.76 487.3,165.41 489.3,165.05 491.3,164.68 493.3,164.28 495.3,163.87 497.3,163.44 499.3,162.99 501.3,162.51 503.3,162.02 505.3,161.5 507.3,160.96 509.3,160.4 511.3,159.83 513.3,159.24 515.3,158.62 517.3,158 519.3,157.35 521.3,156.69 523.3,156.02 525.3,155.33 527.3,154.63 529.3,153.92 531.3,153.2 533.3,152.46 535.3,151.72 537.3,150.97 539.3,150.2 541.3,149.43 543.3,148.66 545.3,147.87 547.3,147.08 549.3,146.29 551.3,145.49 553.3,144.69 555.3,143.88 557.3,143.08 559.3,142.27 560.4,141.83 561.3,141.88 563.3,141.58 565.3,141.27 567.3,140.95 569.3,140.62 571.3,140.27 573.3,139.91 575.3,139.53 577.3,139.14 579.3,138.73 581.3,138.31 583.3,137.87 585.3,137.41 587.3,136.94 589.3,136.44 591.3,135.93 593.3,135.39 595.3,134.84 597.3,134.26 599.3,133.67 601.3,133.05 603.3,132.4 605.3,131.74 607.3,131.05 609.3,130.34 611.3,129.6 613.3,128.83 615.3,128.04 617.3,127.22 619.3,126.38 621.3,125.5 623.3,124.6 625.3,123.67 627.3,122.71 629.3,121.72 631.3,120.69 633.3,119.64 635.3,118.55 635.6,118.39 637.3,117.96 639.3,117.5 641.3,117.01 642.7,116.65M650.9,114.25 652.9,113.59 654.9,112.89 656.9,112.17 658.9,111.41 660.9,110.62 662.9,109.8 664.9,108.94 666.9,108.04 668.9,107.11 670.9,106.14 672.9,105.14 674.9,104.1 676.9,103.02 678.9,101.9 680.9,100.74 682.3,99.91" fill="none" stroke="#000" stroke-width="1.4" stroke-linejoin="round"/>
<text transform="translate(510.6,22.4) rotate(-52)" text-anchor="middle" y="2.5" font-size="6.9" stroke="#000" stroke-width="0.25">100.0</text>
<text transform="translate(667.1,17.8) rotate(-19.5)" text-anchor="middle" y="2.5" font-size="6.9" stroke="#000" stroke-width="0.25">10.0</text>
<text transform="translate(644.8,71) rotate(-6)" text-anchor="middle" y="2.5" font-size="6.9" stroke="#000" stroke-width="0.25">1.0</text>
<text transform="translate(647,115.2) rotate(-1)" text-anchor="middle" y="2.5" font-size="6.9" stroke="#000" stroke-width="0.25">0.1</text>
</g>
<rect x="434.7" y="13.1" width="246.3" height="229.2" fill="none" stroke="#000" stroke-width="0.68"/>
<text x="491.69" y="255.9" text-anchor="middle" font-size="8.65">1</text>
<text x="548.68" y="255.9" text-anchor="middle" font-size="8.65">2</text>
<text x="582.01" y="255.9" text-anchor="middle" font-size="8.65">3</text>
<text x="605.67" y="255.9" text-anchor="middle" font-size="8.65">4</text>
<text x="624.01" y="255.9" text-anchor="middle" font-size="8.65">5</text>
<text x="639" y="255.9" text-anchor="middle" font-size="8.65">6</text>
<text x="651.68" y="255.9" text-anchor="middle" font-size="8.65">7</text>
<text x="662.65" y="255.9" text-anchor="middle" font-size="8.65">8</text>
<text x="672.34" y="255.9" text-anchor="middle" font-size="8.65">9</text>
<path d="M491.69,242.3v3M548.68,242.3v3M582.01,242.3v3M605.67,242.3v3M624.01,242.3v3M639,242.3v3M651.68,242.3v3M662.65,242.3v3M672.34,242.3v3" stroke="#000" stroke-width="0.9" fill="none"/>
<path d="M449.69,242.3v2M462.36,242.3v2M473.34,242.3v2M483.03,242.3v2" stroke="#000" stroke-width="0.7" fill="none"/>
<text x="428.7" y="246.3" text-anchor="end" font-size="8.65">0.1</text>
<text x="428.7" y="193.27" text-anchor="end" font-size="8.65">0.2</text>
<text x="428.7" y="162.25" text-anchor="end" font-size="8.65">0.3</text>
<text x="428.7" y="140.24" text-anchor="end" font-size="8.65">0.4</text>
<text x="428.7" y="123.16" text-anchor="end" font-size="8.65">0.5</text>
<text x="428.7" y="109.21" text-anchor="end" font-size="8.65">0.6</text>
<text x="428.7" y="97.42" text-anchor="end" font-size="8.65">0.7</text>
<text x="428.7" y="87.2" text-anchor="end" font-size="8.65">0.8</text>
<text x="428.7" y="78.19" text-anchor="end" font-size="8.65">0.9</text>
<text x="428.7" y="70.13" text-anchor="end" font-size="8.65">1.0</text>
<text x="428.7" y="17.1" text-anchor="end" font-size="8.65">2.0</text>
<path d="M434.7,242.3h-3M434.7,189.27h-3M434.7,158.25h-3M434.7,136.24h-3M434.7,119.16h-3M434.7,105.21h-3M434.7,93.42h-3M434.7,83.2h-3M434.7,74.19h-3M434.7,66.13h-3M434.7,13.1h-3" stroke="#000" stroke-width="0.9" fill="none"/>
<text x="557.85" y="266.9" text-anchor="middle" font-size="8.65">Orbital Period (days)</text>
<text transform="translate(408.8,127.7) rotate(-90)" text-anchor="middle" font-size="8.65">Radius (R<tspan font-size="6" font-style="italic" dy="1.6">J</tspan><tspan dy="-1.6">)</tspan></text>
<text x="557.85" y="8.4" text-anchor="middle" font-size="10.3">JWST/NIRISS - Self blend G-star</text>
<rect x="696.2" y="13.1" width="11.8" height="229.2" fill="url(#cbg)" stroke="#000" stroke-width="0.68"/>
<text x="714" y="17.1" font-size="8.65">1000</text>
<text x="714" y="62.94" font-size="8.65">100</text>
<text x="714" y="108.78" font-size="8.65">10</text>
<text x="714" y="154.62" font-size="8.65">1</text>
<text x="714" y="200.46" font-size="8.65">0.1</text>
<text x="714" y="246.3" font-size="8.65">0.01</text>
<path d="M708,13.1h3M708,58.94h3M708,104.78h3M708,150.62h3M708,196.46h3M708,242.3h3" stroke="#000" stroke-width="0.9" fill="none"/>
<text x="702.1" y="8.4" text-anchor="middle" font-size="10.3">Ampl (ppm)</text>
<clipPath id="cp10"><rect x="33.5" y="311.6" width="246.1" height="229.4"/></clipPath>
<g clip-path="url(#cp10)">
<g shape-rendering="crispEdges">
<rect x="33" y="311" width="5" height="230" fill="url(#p10_0)"/>
<rect x="38" y="311" width="5" height="230" fill="url(#p10_1)"/>
<rect x="43" y="311" width="5" height="230" fill="url(#p10_2)"/>
<rect x="48" y="311" width="5" height="230" fill="url(#p10_3)"/>
<rect x="53" y="311" width="5" height="230" fill="url(#p10_4)"/>
<rect x="58" y="311" width="5" height="230" fill="url(#p10_5)"/>
<rect x="63" y="311" width="5" height="230" fill="url(#p10_6)"/>
<rect x="68" y="311" width="5" height="230" fill="url(#p10_7)"/>
<rect x="73" y="311" width="5" height="230" fill="url(#p10_8)"/>
<rect x="78" y="311" width="5" height="230" fill="url(#p10_9)"/>
<rect x="83" y="311" width="5" height="230" fill="url(#p10_10)"/>
<rect x="88" y="311" width="5" height="230" fill="url(#p10_11)"/>
<rect x="93" y="311" width="5" height="230" fill="url(#p10_12)"/>
<rect x="98" y="311" width="5" height="230" fill="url(#p10_13)"/>
<rect x="103" y="311" width="5" height="230" fill="url(#p10_14)"/>
<rect x="108" y="311" width="5" height="230" fill="url(#p10_15)"/>
<rect x="113" y="311" width="5" height="230" fill="url(#p10_16)"/>
<rect x="118" y="311" width="5" height="230" fill="url(#p10_17)"/>
<rect x="123" y="311" width="5" height="230" fill="url(#p10_18)"/>
<rect x="128" y="311" width="5" height="230" fill="url(#p10_19)"/>
<rect x="133" y="311" width="5" height="230" fill="url(#p10_20)"/>
<rect x="138" y="311" width="5" height="230" fill="url(#p10_21)"/>
<rect x="143" y="311" width="5" height="230" fill="url(#p10_22)"/>
<rect x="148" y="311" width="5" height="230" fill="url(#p10_23)"/>
<rect x="153" y="311" width="5" height="230" fill="url(#p10_24)"/>
<rect x="158" y="311" width="5" height="230" fill="url(#p10_25)"/>
<rect x="163" y="311" width="5" height="230" fill="url(#p10_26)"/>
<rect x="168" y="311" width="5" height="230" fill="url(#p10_27)"/>
<rect x="173" y="311" width="5" height="230" fill="url(#p10_28)"/>
<rect x="178" y="311" width="5" height="230" fill="url(#p10_29)"/>
<rect x="183" y="311" width="5" height="230" fill="url(#p10_30)"/>
<rect x="188" y="311" width="5" height="230" fill="url(#p10_31)"/>
<rect x="193" y="311" width="5" height="230" fill="url(#p10_32)"/>
<rect x="198" y="311" width="5" height="230" fill="url(#p10_33)"/>
<rect x="203" y="311" width="5" height="230" fill="url(#p10_34)"/>
<rect x="208" y="311" width="5" height="230" fill="url(#p10_35)"/>
<rect x="213" y="311" width="5" height="230" fill="url(#p10_36)"/>
<rect x="218" y="311" width="5" height="230" fill="url(#p10_37)"/>
<rect x="223" y="311" width="5" height="230" fill="url(#p10_38)"/>
<rect x="228" y="311" width="5" height="230" fill="url(#p10_39)"/>
<rect x="233" y="311" width="5" height="230" fill="url(#p10_40)"/>
<rect x="238" y="311" width="5" height="230" fill="url(#p10_41)"/>
<rect x="243" y="311" width="5" height="230" fill="url(#p10_42)"/>
<rect x="248" y="311" width="5" height="230" fill="url(#p10_43)"/>
<rect x="253" y="311" width="5" height="230" fill="url(#p10_44)"/>
<rect x="258" y="311" width="5" height="230" fill="url(#p10_45)"/>
<rect x="263" y="311" width="5" height="230" fill="url(#p10_46)"/>
<rect x="268" y="311" width="5" height="230" fill="url(#p10_47)"/>
<rect x="273" y="311" width="5" height="230" fill="url(#p10_48)"/>
<rect x="278" y="311" width="2" height="230" fill="url(#p10_49)"/>
</g>
<path d="M32.3,391.4 34.3,390.27 36.3,389.14 38.3,388 40.3,386.86 42.3,385.71 44.3,384.56 46.3,383.41 48.3,382.25 50.3,381.09 52.3,379.92 54.3,378.75 56.3,377.58 58.3,376.4 60.3,375.22 62.3,374.04 64.3,372.85 66.3,371.65 68.3,370.46 70.3,369.26 72.3,368.05 74.3,366.85 76.3,365.64 78.3,364.42 80.3,363.2 82.3,361.98 84.3,360.76 86.3,359.53 88.3,358.3 90.3,357.06 92.3,355.83 94.3,354.58 96.3,353.34 98.3,352.09 100.3,350.84 102.3,349.59 104.3,348.33 106.3,347.07 108.3,345.81 110.3,344.54 112.3,343.27 114.3,342 116.3,340.72 118.3,339.44 120.3,338.16 122.3,336.88 123,336.43M138,326.7 140,325.4 142,324.09 144,322.77 146,321.46 148,320.14 150,318.82 152,317.5 154,316.17 156,314.84 158,313.51 160,312.18 162,310.85 162.4,310.58" fill="none" stroke="#000" stroke-width="1.4" stroke-linejoin="round"/>
<path d="M32.3,474.47 34.3,473.4 36.3,472.31 38.3,471.22 40.3,470.12 42.3,469 44.3,467.88 46.3,466.74 48.3,465.6 50.3,464.44 52.3,463.28 54.3,462.1 56.3,460.92 58.3,459.73 60.3,458.53 62.3,457.31 64.3,456.09 66.3,454.86 68.3,453.63 70.3,452.38 72.3,451.12 74.3,449.86 76.3,448.59 78.3,447.31 80.3,446.02 82.3,444.72 84.3,443.42 86.3,442.11 88.3,440.79 90.3,439.46 92.3,438.12 94.3,436.78 96.3,435.43 98.3,434.08 100.3,432.72 102.3,431.35 104.3,429.97 106.3,428.59 108.3,427.2 110.3,425.81 112.3,424.4 114.3,423 116.3,421.59 118.3,420.17 120.3,418.74 122.3,417.31 124.3,415.88 126.3,414.44 128.3,412.99 130.3,411.54 132.3,410.09 134.3,408.63 136.3,407.16 138.3,405.69 140.3,404.22 142.3,402.74 144.3,401.26 146.3,399.78 148.3,398.29 150.3,396.79 152.3,395.3 154.3,393.8 156.3,392.29 158.3,390.79 160.3,389.28 162.3,387.76 164.3,386.25 166.3,384.73 168.3,383.21 170.3,381.68 172.3,380.16 174.3,378.63 176.3,377.1 178.3,375.56 180.3,374.03 182.3,372.49 184.3,370.95 186.3,369.41 188.3,367.87 190.3,366.33 192.3,364.79 194.3,363.24 196.3,361.7 198.3,360.15 200.3,358.6 202.3,357.06 204.3,355.51 206.3,353.96 208.3,352.41 210.3,350.86 212.3,349.31 214.3,347.77 216.3,346.22 218.3,344.67 220.3,343.12 222.3,341.57 224.3,340.03 226.3,338.48 228.3,336.94 230.3,335.4 232.3,333.85 234.3,332.31 236.3,330.77 238.3,329.24 240.3,327.7 242.3,326.16 244.3,324.63 246.3,323.1 247.4,322.26M255.6,316.01 257.6,314.49 259.6,312.98 261.6,311.47 261.7,311.39" fill="none" stroke="#000" stroke-width="1.4" stroke-linejoin="round"/>
<path d="M64.7,541.44 66.7,540.15 68.7,538.86 70.7,537.56 72.7,536.25 74.7,534.93 76.7,533.61 78.7,532.28 80.7,530.94 82.7,529.6 84.7,528.25 86.7,526.9 88.7,525.54 90.7,524.17 92.7,522.79 94.7,521.41 96.7,520.02 98.7,518.63 100.7,517.23 102.7,515.82 104.7,514.41 106.7,512.99 108.7,511.56 110.7,510.13 112.7,508.69 114.7,507.25 116.7,505.8 118.7,504.35 120.7,502.88 122.7,501.42 124.7,499.94 126.7,498.47 128.7,496.98 130.7,495.49 132.7,494 134.7,492.49 136.7,490.99 138.7,489.47 140.7,487.96 142.7,486.43 144.7,484.91 146.7,483.37 148.7,481.83 150.7,480.29 152.7,478.74 154.7,477.18 156.7,475.62 158.7,474.06 160.7,472.49 162.7,470.92 164.7,469.34 166.7,467.75 168.7,466.16 170.7,464.57 172.7,462.97 174.7,461.37 176.7,459.76 178.7,458.15 180.7,456.53 182.7,454.91 184.7,453.29 186.7,451.66 188.7,450.02 190,448.96M201.3,439.64 203.3,437.97 205.3,436.31 207.3,434.64 209.3,432.96 211.3,431.28 213.3,429.6 215.3,427.91 217.3,426.22 219.3,424.53 221.3,422.84 223.3,421.14 225.3,419.43 227.3,417.73 229.3,416.02 231.3,414.3 233.3,412.59 235.3,410.87 237.3,409.14 239.3,407.42 241.3,405.69 243.3,403.96 245.3,402.22 247.3,400.48 249.3,398.74 251.3,397 253.3,395.25 255.3,393.51 257.3,391.75 259.3,390 261.3,388.24 263.3,386.48 265.3,384.72 267.3,382.96 269.3,381.19 271.3,379.42 273.3,377.65 275.3,375.88 277.3,374.1 279.3,372.32 281.3,370.54" fill="none" stroke="#000" stroke-width="1.4" stroke-linejoin="round"/>
<path d="M181.2,542.13 183.2,540.39 185.2,538.66 187.2,536.92 189.2,535.18 191.2,533.44 193.2,531.71 195.2,529.97 197.2,528.24 199.2,526.5 201.2,524.77 203.2,523.03 205.2,521.29 207.2,519.56 209.2,517.82 211.2,516.08 213.2,514.34 215.2,512.6 217.2,510.86 219.2,509.11 221.2,507.36 223.2,505.62 225.2,503.86 227.2,502.11 229.2,500.36 231.2,498.6 233.2,496.84 235.2,495.07 237.2,493.31 239.2,491.54 241.2,489.76 243.2,487.98 245.2,486.2 247.2,484.42 249.2,482.63 250.8,481.19M256.6,475.96 258.6,474.15 260.6,472.34 262.6,470.51 264.6,468.69 266.6,466.85 268.6,465.01 270.6,463.17 272.6,461.32 274.6,459.46 276.6,457.6 278.6,455.72 280.6,453.85 281.3,453.19" fill="none" stroke="#000" stroke-width="1.4" stroke-linejoin="round"/>
<text transform="translate(130.3,331.3) rotate(-68)" text-anchor="middle" y="2.5" font-size="6.9" stroke="#000" stroke-width="0.25">100.0</text>
<text transform="translate(251.8,318.5) rotate(-42)" text-anchor="middle" y="2.5" font-size="6.9" stroke="#000" stroke-width="0.25">10.0</text>
<text transform="translate(195.5,443.8) rotate(-18)" text-anchor="middle" y="2.5" font-size="6.9" stroke="#000" stroke-width="0.25">1.0</text>
<text transform="translate(253.4,478.4) rotate(-2)" text-anchor="middle" y="2.5" font-size="6.9" stroke="#000" stroke-width="0.25">0.1</text>
</g>
<rect x="33.5" y="311.6" width="246.1" height="229.4" fill="none" stroke="#000" stroke-width="0.68"/>
<text x="90.44" y="554.6" text-anchor="middle" font-size="8.65">1</text>
<text x="147.38" y="554.6" text-anchor="middle" font-size="8.65">2</text>
<text x="180.69" y="554.6" text-anchor="middle" font-size="8.65">3</text>
<text x="204.33" y="554.6" text-anchor="middle" font-size="8.65">4</text>
<text x="222.66" y="554.6" text-anchor="middle" font-size="8.65">5</text>
<text x="237.64" y="554.6" text-anchor="middle" font-size="8.65">6</text>
<text x="250.3" y="554.6" text-anchor="middle" font-size="8.65">7</text>
<text x="261.27" y="554.6" text-anchor="middle" font-size="8.65">8</text>
<text x="270.94" y="554.6" text-anchor="middle" font-size="8.65">9</text>
<path d="M90.44,541v3M147.38,541v3M180.69,541v3M204.33,541v3M222.66,541v3M237.64,541v3M250.3,541v3M261.27,541v3M270.94,541v3" stroke="#000" stroke-width="0.9" fill="none"/>
<path d="M48.48,541v2M61.14,541v2M72.11,541v2M81.79,541v2" stroke="#000" stroke-width="0.7" fill="none"/>
<text x="27.5" y="545" text-anchor="end" font-size="8.65">0.1</text>
<text x="27.5" y="491.92" text-anchor="end" font-size="8.65">0.2</text>
<text x="27.5" y="460.87" text-anchor="end" font-size="8.65">0.3</text>
<text x="27.5" y="438.84" text-anchor="end" font-size="8.65">0.4</text>
<text x="27.5" y="421.76" text-anchor="end" font-size="8.65">0.5</text>
<text x="27.5" y="407.79" text-anchor="end" font-size="8.65">0.6</text>
<text x="27.5" y="395.99" text-anchor="end" font-size="8.65">0.7</text>
<text x="27.5" y="385.77" text-anchor="end" font-size="8.65">0.8</text>
<text x="27.5" y="376.75" text-anchor="end" font-size="8.65">0.9</text>
<text x="27.5" y="368.68" text-anchor="end" font-size="8.65">1.0</text>
<text x="27.5" y="315.6" text-anchor="end" font-size="8.65">2.0</text>
<path d="M33.5,541h-3M33.5,487.92h-3M33.5,456.87h-3M33.5,434.84h-3M33.5,417.76h-3M33.5,403.79h-3M33.5,391.99h-3M33.5,381.77h-3M33.5,372.75h-3M33.5,364.68h-3M33.5,311.6h-3" stroke="#000" stroke-width="0.9" fill="none"/>
<text x="156.55" y="565.6" text-anchor="middle" font-size="8.65">Orbital Period (days)</text>
<text transform="translate(7.6,426.3) rotate(-90)" text-anchor="middle" font-size="8.65">Radius (R<tspan font-size="6" font-style="italic" dy="1.6">J</tspan><tspan dy="-1.6">)</tspan></text>
<text x="156.55" y="306.9" text-anchor="middle" font-size="10.3">JWST/NIRSpec - Phase blend G-star</text>
<rect x="295.2" y="311.6" width="11.6" height="229.4" fill="url(#cbg)" stroke="#000" stroke-width="0.68"/>
<text x="312.8" y="315.6" font-size="8.65">1000</text>
<text x="312.8" y="361.48" font-size="8.65">100</text>
<text x="312.8" y="407.36" font-size="8.65">10</text>
<text x="312.8" y="453.24" font-size="8.65">1</text>
<text x="312.8" y="499.12" font-size="8.65">0.1</text>
<text x="312.8" y="545" font-size="8.65">0.01</text>
<path d="M306.8,311.6h3M306.8,357.48h3M306.8,403.36h3M306.8,449.24h3M306.8,495.12h3M306.8,541h3" stroke="#000" stroke-width="0.9" fill="none"/>
<text x="301" y="306.9" text-anchor="middle" font-size="10.3">Ampl. (ppm)</text>
<clipPath id="cp11"><rect x="434.7" y="311.6" width="246.3" height="229.4"/></clipPath>
<g clip-path="url(#cp11)">
<g shape-rendering="crispEdges">
<rect x="434" y="311" width="5" height="230" fill="url(#p11_0)"/>
<rect x="439" y="311" width="5" height="230" fill="url(#p11_1)"/>
<rect x="444" y="311" width="5" height="230" fill="url(#p11_2)"/>
<rect x="449" y="311" width="5" height="230" fill="url(#p11_3)"/>
<rect x="454" y="311" width="5" height="230" fill="url(#p11_4)"/>
<rect x="459" y="311" width="5" height="230" fill="url(#p11_5)"/>
<rect x="464" y="311" width="5" height="230" fill="url(#p11_6)"/>
<rect x="469" y="311" width="5" height="230" fill="url(#p11_7)"/>
<rect x="474" y="311" width="5" height="230" fill="url(#p11_8)"/>
<rect x="479" y="311" width="5" height="230" fill="url(#p11_9)"/>
<rect x="484" y="311" width="5" height="230" fill="url(#p11_10)"/>
<rect x="489" y="311" width="5" height="230" fill="url(#p11_11)"/>
<rect x="494" y="311" width="5" height="230" fill="url(#p11_12)"/>
<rect x="499" y="311" width="5" height="230" fill="url(#p11_13)"/>
<rect x="504" y="311" width="5" height="230" fill="url(#p11_14)"/>
<rect x="509" y="311" width="5" height="230" fill="url(#p11_15)"/>
<rect x="514" y="311" width="5" height="230" fill="url(#p11_16)"/>
<rect x="519" y="311" width="5" height="230" fill="url(#p11_17)"/>
<rect x="524" y="311" width="5" height="230" fill="url(#p11_18)"/>
<rect x="529" y="311" width="5" height="230" fill="url(#p11_19)"/>
<rect x="534" y="311" width="5" height="230" fill="url(#p11_20)"/>
<rect x="539" y="311" width="5" height="230" fill="url(#p11_21)"/>
<rect x="544" y="311" width="5" height="230" fill="url(#p11_22)"/>
<rect x="549" y="311" width="5" height="230" fill="url(#p11_23)"/>
<rect x="554" y="311" width="5" height="230" fill="url(#p11_24)"/>
<rect x="559" y="311" width="5" height="230" fill="url(#p11_25)"/>
<rect x="564" y="311" width="5" height="230" fill="url(#p11_26)"/>
<rect x="569" y="311" width="5" height="230" fill="url(#p11_27)"/>
<rect x="574" y="311" width="5" height="230" fill="url(#p11_28)"/>
<rect x="579" y="311" width="5" height="230" fill="url(#p11_29)"/>
<rect x="584" y="311" width="5" height="230" fill="url(#p11_30)"/>
<rect x="589" y="311" width="5" height="230" fill="url(#p11_31)"/>
<rect x="594" y="311" width="5" height="230" fill="url(#p11_32)"/>
<rect x="599" y="311" width="5" height="230" fill="url(#p11_33)"/>
<rect x="604" y="311" width="5" height="230" fill="url(#p11_34)"/>
<rect x="609" y="311" width="5" height="230" fill="url(#p11_35)"/>
<rect x="614" y="311" width="5" height="230" fill="url(#p11_36)"/>
<rect x="619" y="311" width="5" height="230" fill="url(#p11_37)"/>
<rect x="624" y="311" width="5" height="230" fill="url(#p11_38)"/>
<rect x="629" y="311" width="5" height="230" fill="url(#p11_39)"/>
<rect x="634" y="311" width="5" height="230" fill="url(#p11_40)"/>
<rect x="639" y="311" width="5" height="230" fill="url(#p11_41)"/>
<rect x="644" y="311" width="5" height="230" fill="url(#p11_42)"/>
<rect x="649" y="311" width="5" height="230" fill="url(#p11_43)"/>
<rect x="654" y="311" width="5" height="230" fill="url(#p11_44)"/>
<rect x="659" y="311" width="5" height="230" fill="url(#p11_45)"/>
<rect x="664" y="311" width="5" height="230" fill="url(#p11_46)"/>
<rect x="669" y="311" width="5" height="230" fill="url(#p11_47)"/>
<rect x="674" y="311" width="5" height="230" fill="url(#p11_48)"/>
<rect x="679" y="311" width="2" height="230" fill="url(#p11_49)"/>
</g>
<path d="M433.3,335.14 435.3,335.03 437.3,334.92 439.3,334.81 441.3,334.7 443.3,334.59 445.3,334.47 447.3,334.35 449.3,334.22 451.3,334.1 453.3,333.97 455.3,333.84 457.3,333.71 459.3,333.57 461.3,333.44 463.3,333.3 465.3,333.15 467.3,333.01 469.3,332.86 471.3,332.71 473.3,332.56 475.3,332.4 477.3,332.24 479.3,332.08 481.3,331.92 483.3,331.75 485.3,331.58 487.3,331.41 489.3,331.24 491.3,331.06 493.3,330.88 495.3,330.7 497.3,330.51 499.3,330.33 501.3,330.14 503.3,329.94 505.3,329.75 507.3,329.55 509.3,329.34 511.3,329.14 513.3,328.93 515.3,328.72 517.3,328.51 519.3,328.29 521.3,328.07 523.3,327.85 525.3,327.63 527.3,327.4 529.3,327.17 529.8,327.11M559.8,323.28 561.8,323 563.8,322.71 565.8,322.43 567.8,322.14 569.8,321.84 571.8,321.55 573.8,321.25 575.8,320.95 577.8,320.64 579.8,320.33 581.8,320.02 583.8,319.7 585.8,319.38 587.8,319.06 589.8,318.74 591.8,318.41 593.8,318.08 595.8,317.74 597.8,317.4 599.8,317.06 601.8,316.72 603.8,316.37 605.8,316.01 607.8,315.66 609.8,315.3 611.8,314.94 613.8,314.57 615.8,314.2 617.8,313.83 619.8,313.45 621.8,313.07 623.8,312.69 625.8,312.3 627.8,311.91 629.2,311.64" fill="none" stroke="#000" stroke-width="1.4" stroke-linejoin="round"/>
<path d="M433.3,379.54 435.3,379.39 437.3,379.24 439.3,379.1 441.3,378.96 443.3,378.81 445.3,378.68 447.3,378.54 449.3,378.4 451.3,378.27 453.3,378.13 455.3,378 457.3,377.86 459.3,377.73 461.3,377.6 463.3,377.47 465.3,377.34 467.3,377.2 469.3,377.07 471.3,376.94 473.3,376.81 475.3,376.67 477.3,376.54 479.3,376.4 481.3,376.27 483.3,376.13 485.3,375.99 487.3,375.85 489.3,375.71 491.3,375.56 493.3,375.41 495.3,375.27 497.3,375.12 499.3,374.96 501.3,374.81 503.3,374.65 505.3,374.49 507.3,374.32 509.3,374.15 511.3,373.98 513.3,373.8 515.3,373.62 517.3,373.43 519.3,373.24 521.3,373.04 523.3,372.83 525.3,372.62 527.3,372.4 529.3,372.17 531.3,371.93 533.3,371.69 535.3,371.44 537.3,371.18 539.3,370.91 541.3,370.63 543.3,370.34 545.3,370.05 547.3,369.75 549.3,369.45 551.3,369.14 553.3,368.82 555.3,368.5 557.3,368.18 559.3,367.85 561.3,367.52 563.3,367.18 565.3,366.85 567.3,366.51 569.3,366.17 571.3,365.83 573.3,365.49 575.3,365.15 577.3,364.81 579.3,364.47 581.3,364.13 583.3,363.79 585.3,363.45 587.3,363.11 589.3,362.78 591.3,362.44 593.3,362.1 595.3,361.76 597.3,361.42 599.3,361.08 601.3,360.75 603.3,360.41 605.3,360.07 607.3,359.73 609.3,359.39 611.3,359.05 613.3,358.71 615.3,358.37 617.3,358.03 619.3,357.69 621.3,357.34 623.3,357 625.3,356.66 627.3,356.31 629.3,355.97 631.3,355.62 633.3,355.27 635.3,354.93 637.3,354.58 639.3,354.23 640.7,353.98M652,351.93 654,351.54 656,351.15 658,350.74 660,350.33 662,349.9 664,349.45 666,349 668,348.52 670,348.03 672,347.53 674,347 676,346.45 678,345.88 680,345.29 682,344.68 682.3,344.59" fill="none" stroke="#000" stroke-width="1.4" stroke-linejoin="round"/>
<path d="M433.3,425.71 435.3,425.57 437.3,425.42 439.3,425.27 441.3,425.11 443.3,424.96 445.3,424.8 447.3,424.64 449.3,424.47 451.3,424.31 453.3,424.14 455.3,423.97 457.3,423.8 459.3,423.63 461.3,423.45 463.3,423.27 465.3,423.09 467.3,422.91 469.3,422.73 471.3,422.54 473.3,422.35 475.3,422.16 477.3,421.97 479.3,421.78 481.3,421.59 483.3,421.39 485.3,421.2 487.3,421 489.3,420.8 491.3,420.6 493.3,420.4 495.3,420.19 497.3,419.99 499.3,419.78 501.3,419.57 503.3,419.37 505.3,419.16 507.3,418.95 509.3,418.74 511.3,418.52 513.3,418.31 515.3,418.09 517.3,417.87 519.3,417.65 521.3,417.43 523.3,417.21 525.3,416.98 527.3,416.75 529.3,416.52 531.3,416.29 533.3,416.06 535.3,415.82 537.3,415.58 539.3,415.34 541.3,415.09 543.3,414.84 545.3,414.59 547.3,414.34 549.3,414.08 551.3,413.82 553.3,413.55 555.3,413.29 557.3,413.01 559.3,412.74 561.3,412.46 563.3,412.18 565.3,411.89 567.3,411.6 569.3,411.31 571.3,411.01 573.3,410.71 575.3,410.4 577.3,410.09 579.3,409.77 581.3,409.45 583.3,409.13 585.3,408.8 587.3,408.47 589.3,408.13 591.3,407.79 593.3,407.45 595.3,407.1 597.3,406.75 599.3,406.39 601.3,406.04 603.3,405.68 605.3,405.31 607.3,404.94 609.3,404.57 611.3,404.2 613.3,403.82 615.3,403.44 617.3,403.06 619.3,402.67 621.3,402.28 623.3,401.89 625.3,401.5 627.3,401.1 629.3,400.71 631.3,400.31 633.3,399.9 635.3,399.5 637.3,399.09 639.3,398.68 641.3,398.27 643.3,397.86 643.4,397.84M651.3,396.19 653.3,395.77 655.3,395.35 657.3,394.93 659.3,394.51 661.3,394.08 663.3,393.66 665.3,393.23 667.3,392.8 669.3,392.37 671.3,391.94 673.3,391.51 675.3,391.08 677.3,390.65 679.3,390.22 681.3,389.79 682.3,389.58" fill="none" stroke="#000" stroke-width="1.4" stroke-linejoin="round"/>
<path d="M433.3,471.13 435.3,471.01 437.3,470.89 439.3,470.78 441.3,470.67 443.3,470.55 445.3,470.44 447.3,470.33 449.3,470.22 451.3,470.11 453.3,470 455.3,469.89 457.3,469.78 459.3,469.67 461.3,469.56 463.3,469.45 465.3,469.34 467.3,469.23 469.3,469.11 471.3,469 473.3,468.88 475.3,468.77 477.3,468.65 479.3,468.53 481.3,468.41 483.3,468.29 485.3,468.17 487.3,468.04 489.3,467.91 491.3,467.78 493.3,467.65 495.3,467.51 497.3,467.37 499.3,467.23 501.3,467.09 503.3,466.94 505.3,466.79 507.3,466.64 509.3,466.48 511.3,466.32 513.3,466.16 515.3,465.99 517.3,465.82 519.3,465.65 521.3,465.47 523.3,465.28 525.3,465.1 527.3,464.9 529.3,464.71 531.3,464.5 533.3,464.3 535.3,464.09 537.3,463.87 539.3,463.65 541.3,463.42 543.3,463.18 545.3,462.95 547.3,462.7 549.3,462.45 551.3,462.19 553.3,461.93 555.3,461.66 557.3,461.38 559.3,461.1 561.3,460.81 563.3,460.52 565.3,460.21 567.3,459.9 569.3,459.58 571.3,459.26 573.3,458.93 575.3,458.59 577.3,458.24 579.3,457.88 581.3,457.52 583.3,457.15 585.3,456.77 587.3,456.38 589.3,455.98 591.3,455.58 593.3,455.16 595.3,454.74 597.3,454.31 599.3,453.87 601.3,453.42 603.3,452.96 605.3,452.49 607.3,452.01 609.3,451.52 611.3,451.02 613.3,450.51 615.3,449.99 617.3,449.46 619.3,448.92 621.3,448.37 623.3,447.81 625.3,447.24 627.3,446.66 629.3,446.06 631.3,445.46 633.3,444.84 635.3,444.21 637.3,443.57 639.3,442.92 641.3,442.26 643.3,441.58 644.9,441.03 645.3,441.14 647.3,440.86 649.3,440.58 651.3,440.3 653.3,440.01 655.3,439.73 657.3,439.45 659.3,439.17 661.3,438.88 663.3,438.62 663.5,438.6M672,437.67 674,437.4 676,436.89 678,436.38 680,435.88 682,435.37 682.3,435.29" fill="none" stroke="#000" stroke-width="1.4" stroke-linejoin="round"/>
<text transform="translate(545.8,325.3) rotate(-24)" text-anchor="middle" y="2.5" font-size="6.9" stroke="#000" stroke-width="0.25">100.0</text>
<text transform="translate(646,352.6) rotate(-4)" text-anchor="middle" y="2.5" font-size="6.9" stroke="#000" stroke-width="0.25">10.0</text>
<text transform="translate(647.2,397) rotate(-2)" text-anchor="middle" y="2.5" font-size="6.9" stroke="#000" stroke-width="0.25">1.0</text>
<text transform="translate(668,437.5) rotate(0)" text-anchor="middle" y="2.5" font-size="6.9" stroke="#000" stroke-width="0.25">0.1</text>
</g>
<rect x="434.7" y="311.6" width="246.3" height="229.4" fill="none" stroke="#000" stroke-width="0.68"/>
<text x="491.69" y="554.6" text-anchor="middle" font-size="8.65">1</text>
<text x="548.68" y="554.6" text-anchor="middle" font-size="8.65">2</text>
<text x="582.01" y="554.6" text-anchor="middle" font-size="8.65">3</text>
<text x="605.67" y="554.6" text-anchor="middle" font-size="8.65">4</text>
<text x="624.01" y="554.6" text-anchor="middle" font-size="8.65">5</text>
<text x="639" y="554.6" text-anchor="middle" font-size="8.65">6</text>
<text x="651.68" y="554.6" text-anchor="middle" font-size="8.65">7</text>
<text x="662.65" y="554.6" text-anchor="middle" font-size="8.65">8</text>
<text x="672.34" y="554.6" text-anchor="middle" font-size="8.65">9</text>
<path d="M491.69,541v3M548.68,541v3M582.01,541v3M605.67,541v3M624.01,541v3M639,541v3M651.68,541v3M662.65,541v3M672.34,541v3" stroke="#000" stroke-width="0.9" fill="none"/>
<path d="M449.69,541v2M462.36,541v2M473.34,541v2M483.03,541v2" stroke="#000" stroke-width="0.7" fill="none"/>
<text x="428.7" y="545" text-anchor="end" font-size="8.65">0.1</text>
<text x="428.7" y="491.92" text-anchor="end" font-size="8.65">0.2</text>
<text x="428.7" y="460.87" text-anchor="end" font-size="8.65">0.3</text>
<text x="428.7" y="438.84" text-anchor="end" font-size="8.65">0.4</text>
<text x="428.7" y="421.76" text-anchor="end" font-size="8.65">0.5</text>
<text x="428.7" y="407.79" text-anchor="end" font-size="8.65">0.6</text>
<text x="428.7" y="395.99" text-anchor="end" font-size="8.65">0.7</text>
<text x="428.7" y="385.77" text-anchor="end" font-size="8.65">0.8</text>
<text x="428.7" y="376.75" text-anchor="end" font-size="8.65">0.9</text>
<text x="428.7" y="368.68" text-anchor="end" font-size="8.65">1.0</text>
<text x="428.7" y="315.6" text-anchor="end" font-size="8.65">2.0</text>
<path d="M434.7,541h-3M434.7,487.92h-3M434.7,456.87h-3M434.7,434.84h-3M434.7,417.76h-3M434.7,403.79h-3M434.7,391.99h-3M434.7,381.77h-3M434.7,372.75h-3M434.7,364.68h-3M434.7,311.6h-3" stroke="#000" stroke-width="0.9" fill="none"/>
<text x="557.85" y="565.6" text-anchor="middle" font-size="8.65">Orbital Period (days)</text>
<text transform="translate(408.8,426.3) rotate(-90)" text-anchor="middle" font-size="8.65">Radius (R<tspan font-size="6" font-style="italic" dy="1.6">J</tspan><tspan dy="-1.6">)</tspan></text>
<text x="557.85" y="306.9" text-anchor="middle" font-size="10.3">JWST/NIRSpec - Self blend G-star</text>
<rect x="696.2" y="311.6" width="11.8" height="229.4" fill="url(#cbg)" stroke="#000" stroke-width="0.68"/>
<text x="714" y="315.6" font-size="8.65">1000</text>
<text x="714" y="361.48" font-size="8.65">100</text>
<text x="714" y="407.36" font-size="8.65">10</text>
<text x="714" y="453.24" font-size="8.65">1</text>
<text x="714" y="499.12" font-size="8.65">0.1</text>
<text x="714" y="545" font-size="8.65">0.01</text>
<path d="M708,311.6h3M708,357.48h3M708,403.36h3M708,449.24h3M708,495.12h3M708,541h3" stroke="#000" stroke-width="0.9" fill="none"/>
<text x="702.1" y="306.9" text-anchor="middle" font-size="10.3">Ampl (ppm)</text>
<clipPath id="cp20"><rect x="33.5" y="610.3" width="246.1" height="229.3"/></clipPath>
<g clip-path="url(#cp20)">
<g shape-rendering="crispEdges">
<rect x="33" y="610" width="5" height="230" fill="url(#p20_0)"/>
<rect x="38" y="610" width="5" height="230" fill="url(#p20_1)"/>
<rect x="43" y="610" width="5" height="230" fill="url(#p20_2)"/>
<rect x="48" y="610" width="5" height="230" fill="url(#p20_3)"/>
<rect x="53" y="610" width="5" height="230" fill="url(#p20_4)"/>
<rect x="58" y="610" width="5" height="230" fill="url(#p20_5)"/>
<rect x="63" y="610" width="5" height="230" fill="url(#p20_6)"/>
<rect x="68" y="610" width="5" height="230" fill="url(#p20_7)"/>
<rect x="73" y="610" width="5" height="230" fill="url(#p20_8)"/>
<rect x="78" y="610" width="5" height="230" fill="url(#p20_9)"/>
<rect x="83" y="610" width="5" height="230" fill="url(#p20_10)"/>
<rect x="88" y="610" width="5" height="230" fill="url(#p20_11)"/>
<rect x="93" y="610" width="5" height="230" fill="url(#p20_12)"/>
<rect x="98" y="610" width="5" height="230" fill="url(#p20_13)"/>
<rect x="103" y="610" width="5" height="230" fill="url(#p20_14)"/>
<rect x="108" y="610" width="5" height="230" fill="url(#p20_15)"/>
<rect x="113" y="610" width="5" height="230" fill="url(#p20_16)"/>
<rect x="118" y="610" width="5" height="230" fill="url(#p20_17)"/>
<rect x="123" y="610" width="5" height="230" fill="url(#p20_18)"/>
<rect x="128" y="610" width="5" height="230" fill="url(#p20_19)"/>
<rect x="133" y="610" width="5" height="230" fill="url(#p20_20)"/>
<rect x="138" y="610" width="5" height="230" fill="url(#p20_21)"/>
<rect x="143" y="610" width="5" height="230" fill="url(#p20_22)"/>
<rect x="148" y="610" width="5" height="230" fill="url(#p20_23)"/>
<rect x="153" y="610" width="5" height="230" fill="url(#p20_24)"/>
<rect x="158" y="610" width="5" height="230" fill="url(#p20_25)"/>
<rect x="163" y="610" width="5" height="230" fill="url(#p20_26)"/>
<rect x="168" y="610" width="5" height="230" fill="url(#p20_27)"/>
<rect x="173" y="610" width="5" height="230" fill="url(#p20_28)"/>
<rect x="178" y="610" width="5" height="230" fill="url(#p20_29)"/>
<rect x="183" y="610" width="5" height="230" fill="url(#p20_30)"/>
<rect x="188" y="610" width="5" height="230" fill="url(#p20_31)"/>
<rect x="193" y="610" width="5" height="230" fill="url(#p20_32)"/>
<rect x="198" y="610" width="5" height="230" fill="url(#p20_33)"/>
<rect x="203" y="610" width="5" height="230" fill="url(#p20_34)"/>
<rect x="208" y="610" width="5" height="230" fill="url(#p20_35)"/>
<rect x="213" y="610" width="5" height="230" fill="url(#p20_36)"/>
<rect x="218" y="610" width="5" height="230" fill="url(#p20_37)"/>
<rect x="223" y="610" width="5" height="230" fill="url(#p20_38)"/>
<rect x="228" y="610" width="5" height="230" fill="url(#p20_39)"/>
<rect x="233" y="610" width="5" height="230" fill="url(#p20_40)"/>
<rect x="238" y="610" width="5" height="230" fill="url(#p20_41)"/>
<rect x="243" y="610" width="5" height="230" fill="url(#p20_42)"/>
<rect x="248" y="610" width="5" height="230" fill="url(#p20_43)"/>
<rect x="253" y="610" width="5" height="230" fill="url(#p20_44)"/>
<rect x="258" y="610" width="5" height="230" fill="url(#p20_45)"/>
<rect x="263" y="610" width="5" height="230" fill="url(#p20_46)"/>
<rect x="268" y="610" width="5" height="230" fill="url(#p20_47)"/>
<rect x="273" y="610" width="5" height="230" fill="url(#p20_48)"/>
<rect x="278" y="610" width="2" height="230" fill="url(#p20_49)"/>
</g>
<path d="M32.3,649.92 34.3,649.21 36.3,648.47 38.3,647.71 40.3,646.93 42.3,646.13 44.3,645.31 46.3,644.47 48.3,643.62 50.3,642.75 52.3,641.86 54.3,640.96 56.3,640.05 58.3,639.12 58.9,638.84M80.4,628.39 82.4,627.4 84.4,626.4 86.4,625.41 88.4,624.42 90.4,623.44 92.4,622.46 94.4,621.49 96.4,620.52 98.4,619.56 100.4,618.61 102.4,617.67 104.4,616.73 106.4,615.81 108.4,614.91 110.4,614.01 112.4,613.13 114.4,612.27 116.4,611.42 118.4,610.59 118.5,610.55" fill="none" stroke="#000" stroke-width="1.4" stroke-linejoin="round"/>
<path d="M32.3,731.27 34.3,730.31 36.3,729.35 38.3,728.38 40.3,727.41 42.3,726.44 44.3,725.47 46.3,724.49 48.3,723.51 50.3,722.52 52.3,721.54 54.3,720.55 56.3,719.55 58.3,718.55 60.3,717.55 62.3,716.55 64.3,715.55 66.3,714.54 68.3,713.53 70.3,712.51 72.3,711.49 74.3,710.47 76.3,709.45 78.3,708.42 80.3,707.4 82.3,706.37 84.3,705.33 86.3,704.3 88.3,703.26 90.3,702.22 92.3,701.17 94.3,700.13 96.3,699.08 98.3,698.03 100.3,696.97 102.3,695.92 104.3,694.86 106.3,693.8 108.3,692.74 110.3,691.67 112.3,690.61 114.3,689.54 116.3,688.47 118.3,687.39 120.3,686.32 122.3,685.24 124.3,684.16 126.3,683.08 128.3,682 130.3,680.91 132.3,679.83 134.3,678.74 136.3,677.65 138.3,676.56 140.3,675.46 142.3,674.37 144.3,673.27 146.3,672.17 148.3,671.07 150.3,669.97 152.3,668.87 154.3,667.76 156.3,666.66 158.3,665.55 160.3,664.44 162.3,663.33 164.3,662.22 166.3,661.11 168.3,659.99 170.3,658.88 172.3,657.76 174.3,656.64 176.3,655.52 178.3,654.4 180.3,653.28 182.3,652.16 184.3,651.04 186.3,649.91 188.3,648.79 190.3,647.66 192.3,646.54 194.3,645.41 196.3,644.28 198.3,643.15 200.3,642.02 202.3,640.89 204.3,639.76 206.3,638.63 208.3,637.49 210.3,636.36 212.3,635.23 214.3,634.09 216.3,632.96 218.3,631.82 220.3,630.69 222.3,629.55 224.3,628.41 225.4,627.79M235.6,621.99 237.6,620.85 239.6,619.71 241.6,618.57 243.6,617.43 245.6,616.29 247.6,615.15 249.6,614.01 251.6,612.87 253.6,611.73 255.6,610.6 256,610.37" fill="none" stroke="#000" stroke-width="1.4" stroke-linejoin="round"/>
<path d="M32.3,816.88 34.3,815.85 36.3,814.81 38.3,813.77 40.3,812.73 42.3,811.69 44.3,810.64 46.3,809.6 48.3,808.55 50.3,807.5 52.3,806.45 54.3,805.39 56.3,804.33 58.3,803.28 60.3,802.21 62.3,801.15 64.3,800.09 66.3,799.02 68.3,797.95 70.3,796.88 72.3,795.8 74.3,794.73 76.3,793.65 78.3,792.57 80.3,791.49 82.3,790.4 84.3,789.31 86.3,788.23 88.3,787.13 90.3,786.04 92.3,784.95 94.3,783.85 96.3,782.75 98.3,781.65 100.3,780.54 102.3,779.44 104.3,778.33 106.3,777.22 108.3,776.11 110.3,774.99 112.3,773.88 114.3,772.76 116.3,771.64 118.3,770.51 120.3,769.39 122.3,768.26 124.3,767.13 126.3,766 128.3,764.86 130.3,763.73 132.3,762.59 134.3,761.45 136.3,760.3 138.3,759.16 140.3,758.01 142.3,756.86 144.3,755.71 146.3,754.56 148.3,753.4 150.3,752.24 152.3,751.08 154.3,749.92 156.3,748.75 158.3,747.58 160.3,746.41 162.3,745.24 164.3,744.07 166.3,742.89 168.3,741.71 170.3,740.53 172.3,739.35 174.3,738.16 176.3,736.97 178.3,735.78 180.3,734.59 182.3,733.39 184.3,732.2 186.3,731 188.3,729.79 190.3,728.59 192.3,727.38 194.3,726.17 196.3,724.96 198.3,723.75 200.3,722.53 202.3,721.32 204.3,720.09 206.3,718.87 208.3,717.65 210.3,716.42 212.3,715.19 214.3,713.95 216.3,712.72 218.3,711.48 220.3,710.24 222.3,709 224.3,707.75 226.3,706.51 228.3,705.26 230.3,704.01 232.3,702.75 234.3,701.49 236.3,700.23 238.3,698.97 240.3,697.71 242.3,696.44 244.3,695.17 246.3,693.9 248.3,692.63 250.3,691.35 250.8,691.03M257.2,686.92 259.2,685.64 261.2,684.35 263.2,683.05 265.2,681.76 267.2,680.46 269.2,679.16 271.2,677.86 273.2,676.55 275.2,675.24 277.2,673.93 279.2,672.62 281.2,671.3 281.3,671.23" fill="none" stroke="#000" stroke-width="1.4" stroke-linejoin="round"/>
<path d="M147.4,840.6 149.4,839.35 151.4,838.09 153.4,836.83 155.4,835.57 157.4,834.31 159.4,833.05 161.4,831.79 163.4,830.52 165.4,829.26 167.4,828 169.4,826.73 171.4,825.47 173.4,824.2 175.4,822.93 177.4,821.66 179.4,820.4 181.4,819.13 183.4,817.85 185.4,816.58 187.4,815.31 189.4,814.03 191.4,812.76 193.4,811.48 195.4,810.21 197.4,808.93 199.4,807.65 201.4,806.37 203.4,805.08 205.4,803.8 207.4,802.52 209.4,801.23 211.4,799.94 213.4,798.65 215.4,797.36 217.4,796.07 219.4,794.78 221.4,793.49 223.4,792.19 225.4,790.89 227.4,789.6 229.4,788.3 231.4,786.99 233.4,785.69 235.4,784.39 236.8,783.47M243.2,779.28 245.2,777.97 247.2,776.66 249.2,775.34 251.2,774.02 253.2,772.7 255.2,771.38 257.2,770.06 259.2,768.73 261.2,767.4 263.2,766.07 265.2,764.74 267.2,763.41 269.2,762.07 271.2,760.74 273.2,759.4 275.2,758.06 277.2,756.71 279.2,755.37 281.2,754.02 281.3,753.95" fill="none" stroke="#000" stroke-width="1.4" stroke-linejoin="round"/>
<text transform="translate(70.8,633.2) rotate(-73)" text-anchor="middle" y="2.5" font-size="6.9" stroke="#000" stroke-width="0.25">100.0</text>
<text transform="translate(230.3,624.6) rotate(-35)" text-anchor="middle" y="2.5" font-size="6.9" stroke="#000" stroke-width="0.25">10.0</text>
<text transform="translate(253.6,688.5) rotate(-10)" text-anchor="middle" y="2.5" font-size="6.9" stroke="#000" stroke-width="0.25">1.0</text>
<text transform="translate(239.8,781.4) rotate(0)" text-anchor="middle" y="2.5" font-size="6.9" stroke="#000" stroke-width="0.25">0.1</text>
</g>
<rect x="33.5" y="610.3" width="246.1" height="229.3" fill="none" stroke="#000" stroke-width="0.68"/>
<text x="90.44" y="853.2" text-anchor="middle" font-size="8.65">1</text>
<text x="147.38" y="853.2" text-anchor="middle" font-size="8.65">2</text>
<text x="180.69" y="853.2" text-anchor="middle" font-size="8.65">3</text>
<text x="204.33" y="853.2" text-anchor="middle" font-size="8.65">4</text>
<text x="222.66" y="853.2" text-anchor="middle" font-size="8.65">5</text>
<text x="237.64" y="853.2" text-anchor="middle" font-size="8.65">6</text>
<text x="250.3" y="853.2" text-anchor="middle" font-size="8.65">7</text>
<text x="261.27" y="853.2" text-anchor="middle" font-size="8.65">8</text>
<text x="270.94" y="853.2" text-anchor="middle" font-size="8.65">9</text>
<path d="M90.44,839.6v3M147.38,839.6v3M180.69,839.6v3M204.33,839.6v3M222.66,839.6v3M237.64,839.6v3M250.3,839.6v3M261.27,839.6v3M270.94,839.6v3" stroke="#000" stroke-width="0.9" fill="none"/>
<path d="M48.48,839.6v2M61.14,839.6v2M72.11,839.6v2M81.79,839.6v2" stroke="#000" stroke-width="0.7" fill="none"/>
<text x="27.5" y="843.6" text-anchor="end" font-size="8.65">0.1</text>
<text x="27.5" y="790.54" text-anchor="end" font-size="8.65">0.2</text>
<text x="27.5" y="759.51" text-anchor="end" font-size="8.65">0.3</text>
<text x="27.5" y="737.49" text-anchor="end" font-size="8.65">0.4</text>
<text x="27.5" y="720.41" text-anchor="end" font-size="8.65">0.5</text>
<text x="27.5" y="706.45" text-anchor="end" font-size="8.65">0.6</text>
<text x="27.5" y="694.66" text-anchor="end" font-size="8.65">0.7</text>
<text x="27.5" y="684.43" text-anchor="end" font-size="8.65">0.8</text>
<text x="27.5" y="675.42" text-anchor="end" font-size="8.65">0.9</text>
<text x="27.5" y="667.36" text-anchor="end" font-size="8.65">1.0</text>
<text x="27.5" y="614.3" text-anchor="end" font-size="8.65">2.0</text>
<path d="M33.5,839.6h-3M33.5,786.54h-3M33.5,755.51h-3M33.5,733.49h-3M33.5,716.41h-3M33.5,702.45h-3M33.5,690.66h-3M33.5,680.43h-3M33.5,671.42h-3M33.5,663.36h-3M33.5,610.3h-3" stroke="#000" stroke-width="0.9" fill="none"/>
<text x="156.55" y="864.2" text-anchor="middle" font-size="8.65">Orbital Period (days)</text>
<text transform="translate(7.6,724.95) rotate(-90)" text-anchor="middle" font-size="8.65">Radius (R<tspan font-size="6" font-style="italic" dy="1.6">J</tspan><tspan dy="-1.6">)</tspan></text>
<text x="156.55" y="605.6" text-anchor="middle" font-size="10.3">JWST/MIRI - Phase blend G-star</text>
<rect x="295.2" y="610.3" width="11.6" height="229.3" fill="url(#cbg)" stroke="#000" stroke-width="0.68"/>
<text x="312.8" y="614.3" font-size="8.65">1000</text>
<text x="312.8" y="660.16" font-size="8.65">100</text>
<text x="312.8" y="706.02" font-size="8.65">10</text>
<text x="312.8" y="751.88" font-size="8.65">1</text>
<text x="312.8" y="797.74" font-size="8.65">0.1</text>
<text x="312.8" y="843.6" font-size="8.65">0.01</text>
<path d="M306.8,610.3h3M306.8,656.16h3M306.8,702.02h3M306.8,747.88h3M306.8,793.74h3M306.8,839.6h3" stroke="#000" stroke-width="0.9" fill="none"/>
<text x="301" y="605.6" text-anchor="middle" font-size="10.3">Ampl. (ppm)</text>
<clipPath id="cp21"><rect x="434.7" y="610.3" width="246.3" height="229.3"/></clipPath>
<g clip-path="url(#cp21)">
<g shape-rendering="crispEdges">
<rect x="434" y="610" width="5" height="230" fill="url(#p21_0)"/>
<rect x="439" y="610" width="5" height="230" fill="url(#p21_1)"/>
<rect x="444" y="610" width="5" height="230" fill="url(#p21_2)"/>
<rect x="449" y="610" width="5" height="230" fill="url(#p21_3)"/>
<rect x="454" y="610" width="5" height="230" fill="url(#p21_4)"/>
<rect x="459" y="610" width="5" height="230" fill="url(#p21_5)"/>
<rect x="464" y="610" width="5" height="230" fill="url(#p21_6)"/>
<rect x="469" y="610" width="5" height="230" fill="url(#p21_7)"/>
<rect x="474" y="610" width="5" height="230" fill="url(#p21_8)"/>
<rect x="479" y="610" width="5" height="230" fill="url(#p21_9)"/>
<rect x="484" y="610" width="5" height="230" fill="url(#p21_10)"/>
<rect x="489" y="610" width="5" height="230" fill="url(#p21_11)"/>
<rect x="494" y="610" width="5" height="230" fill="url(#p21_12)"/>
<rect x="499" y="610" width="5" height="230" fill="url(#p21_13)"/>
<rect x="504" y="610" width="5" height="230" fill="url(#p21_14)"/>
<rect x="509" y="610" width="5" height="230" fill="url(#p21_15)"/>
<rect x="514" y="610" width="5" height="230" fill="url(#p21_16)"/>
<rect x="519" y="610" width="5" height="230" fill="url(#p21_17)"/>
<rect x="524" y="610" width="5" height="230" fill="url(#p21_18)"/>
<rect x="529" y="610" width="5" height="230" fill="url(#p21_19)"/>
<rect x="534" y="610" width="5" height="230" fill="url(#p21_20)"/>
<rect x="539" y="610" width="5" height="230" fill="url(#p21_21)"/>
<rect x="544" y="610" width="5" height="230" fill="url(#p21_22)"/>
<rect x="549" y="610" width="5" height="230" fill="url(#p21_23)"/>
<rect x="554" y="610" width="5" height="230" fill="url(#p21_24)"/>
<rect x="559" y="610" width="5" height="230" fill="url(#p21_25)"/>
<rect x="564" y="610" width="5" height="230" fill="url(#p21_26)"/>
<rect x="569" y="610" width="5" height="230" fill="url(#p21_27)"/>
<rect x="574" y="610" width="5" height="230" fill="url(#p21_28)"/>
<rect x="579" y="610" width="5" height="230" fill="url(#p21_29)"/>
<rect x="584" y="610" width="5" height="230" fill="url(#p21_30)"/>
<rect x="589" y="610" width="5" height="230" fill="url(#p21_31)"/>
<rect x="594" y="610" width="5" height="230" fill="url(#p21_32)"/>
<rect x="599" y="610" width="5" height="230" fill="url(#p21_33)"/>
<rect x="604" y="610" width="5" height="230" fill="url(#p21_34)"/>
<rect x="609" y="610" width="5" height="230" fill="url(#p21_35)"/>
<rect x="614" y="610" width="5" height="230" fill="url(#p21_36)"/>
<rect x="619" y="610" width="5" height="230" fill="url(#p21_37)"/>
<rect x="624" y="610" width="5" height="230" fill="url(#p21_38)"/>
<rect x="629" y="610" width="5" height="230" fill="url(#p21_39)"/>
<rect x="634" y="610" width="5" height="230" fill="url(#p21_40)"/>
<rect x="639" y="610" width="5" height="230" fill="url(#p21_41)"/>
<rect x="644" y="610" width="5" height="230" fill="url(#p21_42)"/>
<rect x="649" y="610" width="5" height="230" fill="url(#p21_43)"/>
<rect x="654" y="610" width="5" height="230" fill="url(#p21_44)"/>
<rect x="659" y="610" width="5" height="230" fill="url(#p21_45)"/>
<rect x="664" y="610" width="5" height="230" fill="url(#p21_46)"/>
<rect x="669" y="610" width="5" height="230" fill="url(#p21_47)"/>
<rect x="674" y="610" width="5" height="230" fill="url(#p21_48)"/>
<rect x="679" y="610" width="2" height="230" fill="url(#p21_49)"/>
</g>
<path d="M433.3,614.99 435.3,615.08 437.3,615.16 439.3,615.23 441.3,615.31 443.3,615.38 445.3,615.44 447.3,615.51 449.3,615.57 451.3,615.63 453.3,615.68 455.3,615.74 457.3,615.79 459.3,615.84 461.3,615.88 463.3,615.93 465.3,615.97 467.3,616 469.3,616.04 471.3,616.07 473.3,616.1 475.3,616.13 477.3,616.15 479.3,616.18 481.3,616.2 483.3,616.21 485.3,616.23 487.3,616.24 489.3,616.25 491.3,616.26 493.3,616.27 495.3,616.27 497.3,616.28 499.3,616.28 501.3,616.27 503.3,616.27 505.3,616.26 507.3,616.25 509.3,616.24 511.3,616.23 513.3,616.22 515.3,616.2 517.3,616.18 519.3,616.16 521.3,616.14 523.3,616.11 525.3,616.09 527.3,616.06 529.3,616.03 531.3,616 533.3,615.96 535.3,615.93 537.3,615.89 539.3,615.85 541.3,615.81 543.3,615.77 545.3,615.73 547.3,615.68 549.3,615.64 551.3,615.59 553.3,615.54 555.3,615.49 557.3,615.44 559.3,615.38 561.3,615.33 563.3,615.27 565.3,615.21 567.3,615.15 569.3,615.09 571.3,615.03 573.3,614.97 575.3,614.9 577.3,614.84 579.3,614.77 581.3,614.7 583.3,614.63 585.3,614.56 587.3,614.49 589.3,614.42 591.3,614.35 593.3,614.27 595.3,614.2 597.3,614.12 599.3,614.04 601.3,613.96 603.3,613.88 605.3,613.8 607.3,613.72 609.3,613.64 611.3,613.56 613.3,613.48 615.3,613.39 617.3,613.31 618.7,613.25M636.7,612.46 638.7,612.37 640.7,612.28 642.7,612.18 644.7,612.09 646.7,612 648.7,611.91 650.7,611.82 652.7,611.72 654.7,611.63 656.7,611.54 658.7,611.44 660.7,611.35 662.7,611.26 662.9,611.25" fill="none" stroke="#000" stroke-width="1.4" stroke-linejoin="round"/>
<path d="M433.3,659.32 435.3,659.37 437.3,659.42 439.3,659.46 441.3,659.51 443.3,659.55 445.3,659.59 447.3,659.64 449.3,659.68 451.3,659.72 453.3,659.75 455.3,659.79 457.3,659.83 459.3,659.86 461.3,659.9 463.3,659.93 465.3,659.96 467.3,659.99 469.3,660.02 471.3,660.04 473.3,660.07 475.3,660.1 477.3,660.12 479.3,660.14 481.3,660.16 483.3,660.18 485.3,660.2 487.3,660.22 489.3,660.23 491.3,660.25 493.3,660.26 495.3,660.27 497.3,660.29 499.3,660.29 501.3,660.3 503.3,660.31 505.3,660.31 507.3,660.32 509.3,660.32 511.3,660.32 513.3,660.32 515.3,660.32 517.3,660.31 519.3,660.31 521.3,660.3 523.3,660.29 525.3,660.29 527.3,660.27 529.3,660.26 531.3,660.25 533.3,660.23 535.3,660.22 537.3,660.2 539.3,660.18 541.3,660.16 543.3,660.13 545.3,660.11 547.3,660.08 549.3,660.05 551.3,660.02 553.3,659.99 555.3,659.96 557.3,659.92 559.3,659.89 561.3,659.85 563.3,659.81 565.3,659.77 567.3,659.73 569.3,659.68 571.3,659.63 573.3,659.59 575.3,659.54 577.3,659.48 579.3,659.43 581.3,659.38 583.3,659.32 585.3,659.26 587.3,659.2 589.3,659.14 591.3,659.07 593.3,659.01 595.3,658.94 597.3,658.87 599.3,658.8 601.3,658.73 603.3,658.65 604,658.62M617.6,658.06 619.6,657.97 621.6,657.87 623.6,657.78 625.6,657.68 627.6,657.58 629.6,657.48 631.6,657.38 633.6,657.28 635.6,657.17 637.6,657.06 639.6,656.95 641.6,656.84 643.6,656.72 645.6,656.61 647.6,656.49 649.6,656.37 651.6,656.24 653.6,656.12 655.6,655.99 657.6,655.86 659.6,655.73 661.6,655.59 663.6,655.46 665.6,655.32 667.6,655.18 669.6,655.04 671.6,654.89 673.6,654.75 675.6,654.6 677.6,654.44 679.6,654.29 681.6,654.14 682.3,654.08" fill="none" stroke="#000" stroke-width="1.4" stroke-linejoin="round"/>
<path d="M433.3,704.73 435.3,704.81 437.3,704.88 439.3,704.95 441.3,705.02 443.3,705.08 445.3,705.15 447.3,705.21 449.3,705.27 451.3,705.33 453.3,705.38 455.3,705.44 457.3,705.49 459.3,705.54 461.3,705.59 463.3,705.63 465.3,705.68 467.3,705.72 469.3,705.76 471.3,705.79 473.3,705.83 475.3,705.86 477.3,705.89 479.3,705.92 481.3,705.95 483.3,705.97 485.3,706 487.3,706.02 489.3,706.04 491.3,706.05 493.3,706.07 495.3,706.08 497.3,706.09 499.3,706.1 501.3,706.1 503.3,706.11 505.3,706.11 507.3,706.11 509.3,706.11 511.3,706.1 513.3,706.1 515.3,706.09 517.3,706.08 519.3,706.07 521.3,706.05 523.3,706.03 525.3,706.02 527.3,705.99 529.3,705.97 531.3,705.95 533.3,705.92 535.3,705.89 537.3,705.86 539.3,705.82 541.3,705.79 543.3,705.75 545.3,705.71 547.3,705.67 549.3,705.63 551.3,705.58 553.3,705.53 555.3,705.48 557.3,705.43 559.3,705.38 561.3,705.32 563.3,705.26 565.3,705.2 567.3,705.14 569.3,705.07 571.3,705.01 573.3,704.94 575.3,704.87 577.3,704.79 579.3,704.72 581.3,704.64 583.3,704.56 585.3,704.48 587.3,704.4 589.3,704.31 591.3,704.23 593.3,704.14 595.3,704.04 597.3,703.95 599.3,703.85 601.3,703.76 603.3,703.66 605.3,703.55 607.3,703.45 609.3,703.34 611.3,703.23 613.3,703.12 615.3,703.01 617.3,702.9 619.3,702.78 619.7,702.76M628.6,702.21 630.6,702.08 632.6,701.95 634.6,701.82 636.6,701.68 638.6,701.55 640.6,701.41 642.6,701.27 644.6,701.12 646.6,700.98 648.6,700.83 650.6,700.68 652.6,700.53 654.6,700.38 656.6,700.22 658.6,700.06 660.6,699.9 662.6,699.74 664.6,699.58 666.6,699.41 668.6,699.24 670.6,699.07 672.6,698.9 674.6,698.72 676.6,698.55 678.6,698.37 680.6,698.19 682.3,698.03" fill="none" stroke="#000" stroke-width="1.4" stroke-linejoin="round"/>
<path d="M433.3,751.54 435.3,751.6 437.3,751.65 439.3,751.71 441.3,751.76 443.3,751.81 445.3,751.86 447.3,751.91 449.3,751.96 451.3,752.01 453.3,752.05 455.3,752.1 457.3,752.14 459.3,752.18 461.3,752.22 463.3,752.26 465.3,752.3 467.3,752.34 469.3,752.37 471.3,752.41 473.3,752.44 475.3,752.47 477.3,752.5 479.3,752.53 481.3,752.55 483.3,752.58 485.3,752.6 487.3,752.62 489.3,752.64 491.3,752.66 493.3,752.68 495.3,752.69 497.3,752.7 499.3,752.72 501.3,752.73 503.3,752.73 505.3,752.74 507.3,752.74 509.3,752.74 511.3,752.75 513.3,752.74 515.3,752.74 517.3,752.73 519.3,752.73 521.3,752.72 523.3,752.7 525.3,752.69 527.3,752.67 529.3,752.66 531.3,752.64 533.3,752.61 535.3,752.59 537.3,752.56 539.3,752.53 541.3,752.5 543.3,752.47 545.3,752.43 547.3,752.39 549.3,752.35 551.3,752.31 553.3,752.26 555.3,752.21 557.3,752.16 559.3,752.11 561.3,752.05 563.3,751.99 565.3,751.93 567.3,751.87 569.3,751.8 571.3,751.73 573.3,751.66 575.3,751.59 577.3,751.51 579.3,751.43 581.3,751.35 583.3,751.26 585.3,751.18 587.3,751.08 589.3,750.99 591.3,750.89 593.3,750.79 595.3,750.69 597.3,750.58 599.3,750.48 601.3,750.36 603.3,750.25 605.3,750.13 607.3,750.01 609.3,749.89 611.3,749.76 613.3,749.63 615.3,749.49 617.3,749.36 619.1,749.23M628.6,748.52 630.6,748.36 632.6,748.2 634.6,748.03 636.6,747.86 638.6,747.69 640.6,747.52 642.6,747.34 644.6,747.15 646.6,746.97 648.6,746.77 650.6,746.58 652.6,746.38 654.6,746.18 656.6,745.97 658.6,745.77 660.6,745.55 662.6,745.34 664.6,745.12 666.6,744.89 668.6,744.66 670.6,744.43 672.6,744.19 674.6,743.95 676.6,743.71 678.6,743.46 680.6,743.21 682.3,742.99" fill="none" stroke="#000" stroke-width="1.4" stroke-linejoin="round"/>
<text transform="translate(627.7,612.9) rotate(-1)" text-anchor="middle" y="2.5" font-size="6.9" stroke="#000" stroke-width="0.25">100.0</text>
<text transform="translate(610.8,658.1) rotate(-1)" text-anchor="middle" y="2.5" font-size="6.9" stroke="#000" stroke-width="0.25">10.0</text>
<text transform="translate(624.2,702.1) rotate(0)" text-anchor="middle" y="2.5" font-size="6.9" stroke="#000" stroke-width="0.25">1.0</text>
<text transform="translate(623.8,748.5) rotate(0)" text-anchor="middle" y="2.5" font-size="6.9" stroke="#000" stroke-width="0.25">0.1</text>
</g>
<rect x="434.7" y="610.3" width="246.3" height="229.3" fill="none" stroke="#000" stroke-width="0.68"/>
<text x="491.69" y="853.2" text-anchor="middle" font-size="8.65">1</text>
<text x="548.68" y="853.2" text-anchor="middle" font-size="8.65">2</text>
<text x="582.01" y="853.2" text-anchor="middle" font-size="8.65">3</text>
<text x="605.67" y="853.2" text-anchor="middle" font-size="8.65">4</text>
<text x="624.01" y="853.2" text-anchor="middle" font-size="8.65">5</text>
<text x="639" y="853.2" text-anchor="middle" font-size="8.65">6</text>
<text x="651.68" y="853.2" text-anchor="middle" font-size="8.65">7</text>
<text x="662.65" y="853.2" text-anchor="middle" font-size="8.65">8</text>
<text x="672.34" y="853.2" text-anchor="middle" font-size="8.65">9</text>
<path d="M491.69,839.6v3M548.68,839.6v3M582.01,839.6v3M605.67,839.6v3M624.01,839.6v3M639,839.6v3M651.68,839.6v3M662.65,839.6v3M672.34,839.6v3" stroke="#000" stroke-width="0.9" fill="none"/>
<path d="M449.69,839.6v2M462.36,839.6v2M473.34,839.6v2M483.03,839.6v2" stroke="#000" stroke-width="0.7" fill="none"/>
<text x="428.7" y="843.6" text-anchor="end" font-size="8.65">0.1</text>
<text x="428.7" y="790.54" text-anchor="end" font-size="8.65">0.2</text>
<text x="428.7" y="759.51" text-anchor="end" font-size="8.65">0.3</text>
<text x="428.7" y="737.49" text-anchor="end" font-size="8.65">0.4</text>
<text x="428.7" y="720.41" text-anchor="end" font-size="8.65">0.5</text>
<text x="428.7" y="706.45" text-anchor="end" font-size="8.65">0.6</text>
<text x="428.7" y="694.66" text-anchor="end" font-size="8.65">0.7</text>
<text x="428.7" y="684.43" text-anchor="end" font-size="8.65">0.8</text>
<text x="428.7" y="675.42" text-anchor="end" font-size="8.65">0.9</text>
<text x="428.7" y="667.36" text-anchor="end" font-size="8.65">1.0</text>
<text x="428.7" y="614.3" text-anchor="end" font-size="8.65">2.0</text>
<path d="M434.7,839.6h-3M434.7,786.54h-3M434.7,755.51h-3M434.7,733.49h-3M434.7,716.41h-3M434.7,702.45h-3M434.7,690.66h-3M434.7,680.43h-3M434.7,671.42h-3M434.7,663.36h-3M434.7,610.3h-3" stroke="#000" stroke-width="0.9" fill="none"/>
<text x="557.85" y="864.2" text-anchor="middle" font-size="8.65">Orbital Period (days)</text>
<text transform="translate(408.8,724.95) rotate(-90)" text-anchor="middle" font-size="8.65">Radius (R<tspan font-size="6" font-style="italic" dy="1.6">J</tspan><tspan dy="-1.6">)</tspan></text>
<text x="557.85" y="605.6" text-anchor="middle" font-size="10.3">JWST/MIRI - Self blend G-star</text>
<rect x="696.2" y="610.3" width="11.8" height="229.3" fill="url(#cbg)" stroke="#000" stroke-width="0.68"/>
<text x="714" y="614.3" font-size="8.65">1000</text>
<text x="714" y="660.16" font-size="8.65">100</text>
<text x="714" y="706.02" font-size="8.65">10</text>
<text x="714" y="751.88" font-size="8.65">1</text>
<text x="714" y="797.74" font-size="8.65">0.1</text>
<text x="714" y="843.6" font-size="8.65">0.01</text>
<path d="M708,610.3h3M708,656.16h3M708,702.02h3M708,747.88h3M708,793.74h3M708,839.6h3" stroke="#000" stroke-width="0.9" fill="none"/>
<text x="702.1" y="605.6" text-anchor="middle" font-size="10.3">Ampl (ppm)</text>
</svg>
</body></html>
